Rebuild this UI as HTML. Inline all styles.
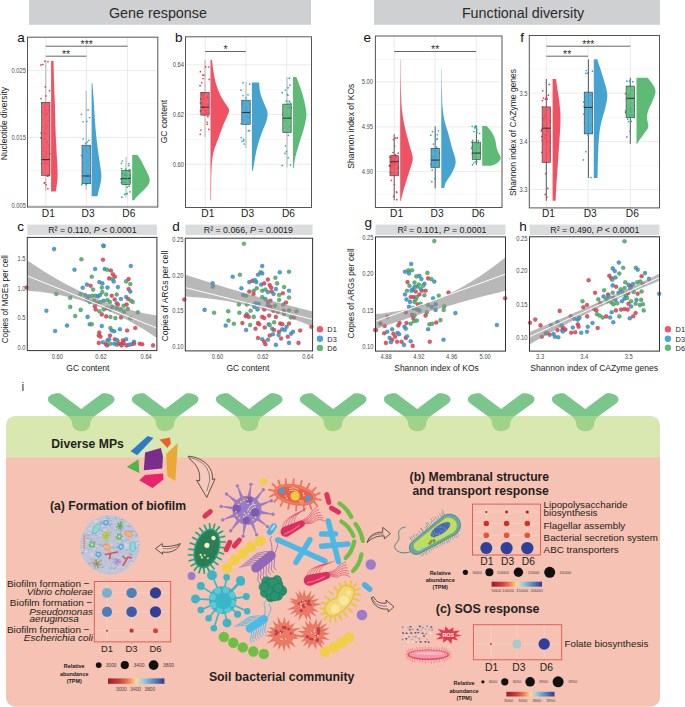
<!DOCTYPE html>
<html><head><meta charset="utf-8"><title>Figure</title>
<style>html,body{margin:0;padding:0;background:#fff;}svg{display:block;}</style></head>
<body><svg width="685" height="707" viewBox="0 0 685 707">
<rect width="685" height="707" fill="#fff"/>
<rect x="29" y="0" width="282" height="24.8" fill="#CFD0D2"/>
<rect x="374" y="0" width="286" height="24.8" fill="#CFD0D2"/>
<text x="108.9" y="18.2" font-size="14.35" font-weight="normal" font-style="normal" text-anchor="start" fill="#2b2b2b" font-family="Liberation Sans, sans-serif">Gene response</text>
<text x="461.9" y="18.2" font-size="14.3" font-weight="normal" font-style="normal" text-anchor="start" fill="#2b2b2b" font-family="Liberation Sans, sans-serif">Functional diversity</text>
<text x="17.3" y="42" font-size="13.5" font-weight="normal" font-style="normal" text-anchor="start" fill="#111" font-family="Liberation Sans, sans-serif">a</text>
<text x="175" y="41.6" font-size="13.5" font-weight="normal" font-style="normal" text-anchor="start" fill="#111" font-family="Liberation Sans, sans-serif">b</text>
<text x="363.6" y="41.9" font-size="13.5" font-weight="normal" font-style="normal" text-anchor="start" fill="#111" font-family="Liberation Sans, sans-serif">e</text>
<text x="520.3" y="42" font-size="13.5" font-weight="normal" font-style="normal" text-anchor="start" fill="#111" font-family="Liberation Sans, sans-serif">f</text>
<text x="17.3" y="231" font-size="13.5" font-weight="normal" font-style="normal" text-anchor="start" fill="#111" font-family="Liberation Sans, sans-serif">c</text>
<text x="172.2" y="231" font-size="13.5" font-weight="normal" font-style="normal" text-anchor="start" fill="#111" font-family="Liberation Sans, sans-serif">d</text>
<text x="364.6" y="227.3" font-size="13.5" font-weight="normal" font-style="normal" text-anchor="start" fill="#111" font-family="Liberation Sans, sans-serif">g</text>
<text x="519.3" y="230.5" font-size="13.5" font-weight="normal" font-style="normal" text-anchor="start" fill="#111" font-family="Liberation Sans, sans-serif">h</text>
<rect x="27.5" y="37.2" width="130.30" height="169.80" fill="#fff"/>
<line x1="27.5" y1="103.8" x2="157.8" y2="103.8" stroke="#f0f0f0" stroke-width="0.6"/>
<line x1="27.5" y1="170.6" x2="157.8" y2="170.6" stroke="#f0f0f0" stroke-width="0.6"/>
<line x1="27.5" y1="70.6" x2="157.8" y2="70.6" stroke="#e6e6e6" stroke-width="0.8"/>
<line x1="27.5" y1="137.4" x2="157.8" y2="137.4" stroke="#e6e6e6" stroke-width="0.8"/>
<line x1="27.5" y1="205.4" x2="157.8" y2="205.4" stroke="#e6e6e6" stroke-width="0.8"/>
<line x1="45.8" y1="37.2" x2="45.8" y2="207" stroke="#e6e6e6" stroke-width="0.8"/>
<line x1="86.4" y1="37.2" x2="86.4" y2="207" stroke="#e6e6e6" stroke-width="0.8"/>
<line x1="127.5" y1="37.2" x2="127.5" y2="207" stroke="#e6e6e6" stroke-width="0.8"/>
<line x1="45.8" y1="46.2" x2="127.5" y2="46.2" stroke="#555" stroke-width="0.9"/><text x="86.7" y="47.8" font-size="10.5" text-anchor="middle" fill="#333" font-family="Liberation Sans, sans-serif">***</text>
<line x1="45.8" y1="56.2" x2="86.4" y2="56.2" stroke="#555" stroke-width="0.9"/><text x="66.1" y="57.8" font-size="10.5" text-anchor="middle" fill="#333" font-family="Liberation Sans, sans-serif">**</text>
<path d="M51.10,60.90 L53.50,60.90 C53.60,64.48 53.85,74.45 54.10,82.40 C54.35,90.35 54.73,99.88 55.00,108.60 C55.27,117.32 55.35,125.98 55.70,134.70 C56.05,143.42 56.78,153.92 57.10,160.90 C57.42,167.88 57.70,172.23 57.60,176.60 C57.50,180.97 56.80,184.60 56.50,187.10 C56.20,189.60 55.92,190.85 55.80,191.60 L51.10,191.60 Z" fill="#EE5263"/>
<line x1="45.8" y1="60.9" x2="45.8" y2="191" stroke="#b4b4b4" stroke-width="1"/>
<circle cx="47.8" cy="164.2" r="0.85" fill="#e83a4a"/>
<circle cx="44.9" cy="138.5" r="0.85" fill="#e83a4a"/>
<circle cx="41.7" cy="163.5" r="0.85" fill="#e83a4a"/>
<circle cx="44.8" cy="163.3" r="0.85" fill="#e83a4a"/>
<circle cx="44.9" cy="61.2" r="0.85" fill="#e83a4a"/>
<circle cx="49.5" cy="90.7" r="0.85" fill="#e83a4a"/>
<circle cx="41.0" cy="64.9" r="0.85" fill="#e83a4a"/>
<circle cx="44.3" cy="183.1" r="0.85" fill="#e83a4a"/>
<circle cx="41.1" cy="133.1" r="0.85" fill="#e83a4a"/>
<circle cx="45.4" cy="134.3" r="0.85" fill="#e83a4a"/>
<circle cx="42.8" cy="119.2" r="0.85" fill="#e83a4a"/>
<circle cx="41.0" cy="98.6" r="0.85" fill="#e83a4a"/>
<circle cx="46.7" cy="133.3" r="0.85" fill="#e83a4a"/>
<circle cx="48.7" cy="174.8" r="0.85" fill="#e83a4a"/>
<circle cx="47.4" cy="126.6" r="0.85" fill="#e83a4a"/>
<circle cx="44.7" cy="182.7" r="0.85" fill="#e83a4a"/>
<circle cx="43.6" cy="148.1" r="0.85" fill="#e83a4a"/>
<circle cx="48.6" cy="175.7" r="0.85" fill="#e83a4a"/>
<circle cx="41.1" cy="137.5" r="0.85" fill="#e83a4a"/>
<circle cx="44.6" cy="160.5" r="0.85" fill="#e83a4a"/>
<circle cx="47.3" cy="142.4" r="0.85" fill="#e83a4a"/>
<circle cx="44.8" cy="109.6" r="0.85" fill="#e83a4a"/>
<circle cx="45.6" cy="162.2" r="0.85" fill="#e83a4a"/>
<circle cx="41.1" cy="138.0" r="0.85" fill="#e83a4a"/>
<circle cx="49.8" cy="153.6" r="0.85" fill="#e83a4a"/>
<circle cx="42.4" cy="112.1" r="0.85" fill="#e83a4a"/>
<circle cx="47.9" cy="188.7" r="0.85" fill="#e83a4a"/>
<circle cx="42.9" cy="172.8" r="0.85" fill="#e83a4a"/>
<circle cx="46.1" cy="184.8" r="0.85" fill="#e83a4a"/>
<circle cx="45.8" cy="95.9" r="0.85" fill="#e83a4a"/>
<circle cx="48.0" cy="61.6" r="0.85" fill="#e83a4a"/>
<circle cx="47.6" cy="176.2" r="0.85" fill="#e83a4a"/>
<circle cx="46.0" cy="128.4" r="0.85" fill="#e83a4a"/>
<circle cx="48.8" cy="106.4" r="0.85" fill="#e83a4a"/>
<circle cx="45.4" cy="86.9" r="0.85" fill="#e83a4a"/>
<circle cx="44.0" cy="107.3" r="0.85" fill="#e83a4a"/>
<circle cx="46.4" cy="142.0" r="0.85" fill="#e83a4a"/>
<circle cx="42.9" cy="64.5" r="0.85" fill="#e83a4a"/>
<circle cx="48.7" cy="145.0" r="0.85" fill="#e83a4a"/>
<circle cx="48.3" cy="164.6" r="0.85" fill="#e83a4a"/>
<rect x="41.60" y="102.3" width="8.4" height="73.00" fill="#EE5263" fill-opacity="0.9" stroke="#3a3a3a" stroke-width="0.6"/>
<line x1="41.60" y1="159.6" x2="50.00" y2="159.6" stroke="#333" stroke-width="1.1"/>
<circle cx="48.2" cy="120.9" r="0.6" fill="#e83a4a" opacity="0.8"/>
<circle cx="42.9" cy="151.4" r="0.6" fill="#e83a4a" opacity="0.8"/>
<circle cx="42.4" cy="103.5" r="0.6" fill="#e83a4a" opacity="0.8"/>
<circle cx="44.0" cy="157.5" r="0.6" fill="#e83a4a" opacity="0.8"/>
<circle cx="46.7" cy="110.3" r="0.6" fill="#e83a4a" opacity="0.8"/>
<circle cx="42.8" cy="127.4" r="0.6" fill="#e83a4a" opacity="0.8"/>
<circle cx="46.0" cy="114.0" r="0.6" fill="#e83a4a" opacity="0.8"/>
<circle cx="44.2" cy="114.6" r="0.6" fill="#e83a4a" opacity="0.8"/>
<circle cx="45.5" cy="154.2" r="0.6" fill="#e83a4a" opacity="0.8"/>
<circle cx="45.6" cy="125.8" r="0.6" fill="#e83a4a" opacity="0.8"/>
<circle cx="45.0" cy="104.0" r="0.6" fill="#e83a4a" opacity="0.8"/>
<circle cx="43.6" cy="133.0" r="0.6" fill="#e83a4a" opacity="0.8"/>
<circle cx="48.6" cy="110.2" r="0.6" fill="#e83a4a" opacity="0.8"/>
<circle cx="43.8" cy="139.5" r="0.6" fill="#e83a4a" opacity="0.8"/>
<circle cx="48.0" cy="146.5" r="0.6" fill="#e83a4a" opacity="0.8"/>
<circle cx="42.4" cy="103.8" r="0.6" fill="#e83a4a" opacity="0.8"/>
<circle cx="47.3" cy="113.0" r="0.6" fill="#e83a4a" opacity="0.8"/>
<circle cx="47.2" cy="114.0" r="0.6" fill="#e83a4a" opacity="0.8"/>
<circle cx="46.1" cy="151.8" r="0.6" fill="#e83a4a" opacity="0.8"/>
<circle cx="49.1" cy="118.4" r="0.6" fill="#e83a4a" opacity="0.8"/>
<path d="M91.60,83.20 L92.40,83.20 C92.57,85.25 93.10,91.27 93.40,95.50 C93.70,99.73 93.93,104.25 94.20,108.60 C94.47,112.95 94.68,117.25 95.00,121.60 C95.32,125.95 95.67,130.33 96.10,134.70 C96.53,139.07 97.03,143.43 97.60,147.80 C98.17,152.17 98.88,156.53 99.50,160.90 C100.12,165.27 101.08,170.50 101.30,174.00 C101.52,177.50 101.20,179.28 100.80,181.90 C100.40,184.52 99.47,187.30 98.90,189.70 C98.33,192.10 97.65,195.20 97.40,196.30 L91.60,196.30 Z" fill="#46A3CF"/>
<line x1="86.2" y1="91" x2="86.2" y2="189.7" stroke="#b4b4b4" stroke-width="1"/>
<circle cx="81.7" cy="184.6" r="0.85" fill="#2aa8d8"/>
<circle cx="88.0" cy="177.4" r="0.85" fill="#2aa8d8"/>
<circle cx="86.8" cy="121.4" r="0.85" fill="#2aa8d8"/>
<circle cx="82.7" cy="148.4" r="0.85" fill="#2aa8d8"/>
<circle cx="87.9" cy="160.4" r="0.85" fill="#2aa8d8"/>
<circle cx="86.2" cy="184.7" r="0.85" fill="#2aa8d8"/>
<circle cx="81.5" cy="155.5" r="0.85" fill="#2aa8d8"/>
<circle cx="84.1" cy="163.1" r="0.85" fill="#2aa8d8"/>
<circle cx="86.0" cy="179.5" r="0.85" fill="#2aa8d8"/>
<circle cx="81.4" cy="114.3" r="0.85" fill="#2aa8d8"/>
<circle cx="85.9" cy="150.5" r="0.85" fill="#2aa8d8"/>
<circle cx="82.9" cy="157.6" r="0.85" fill="#2aa8d8"/>
<circle cx="88.0" cy="169.6" r="0.85" fill="#2aa8d8"/>
<circle cx="88.5" cy="166.3" r="0.85" fill="#2aa8d8"/>
<circle cx="90.0" cy="183.0" r="0.85" fill="#2aa8d8"/>
<circle cx="87.8" cy="174.2" r="0.85" fill="#2aa8d8"/>
<circle cx="85.7" cy="143.3" r="0.85" fill="#2aa8d8"/>
<circle cx="88.9" cy="140.4" r="0.85" fill="#2aa8d8"/>
<circle cx="89.5" cy="179.2" r="0.85" fill="#2aa8d8"/>
<circle cx="89.7" cy="147.0" r="0.85" fill="#2aa8d8"/>
<circle cx="83.2" cy="139.0" r="0.85" fill="#2aa8d8"/>
<circle cx="82.7" cy="172.1" r="0.85" fill="#2aa8d8"/>
<circle cx="89.6" cy="117.5" r="0.85" fill="#2aa8d8"/>
<circle cx="87.7" cy="182.1" r="0.85" fill="#2aa8d8"/>
<circle cx="87.2" cy="142.1" r="0.85" fill="#2aa8d8"/>
<circle cx="83.1" cy="121.8" r="0.85" fill="#2aa8d8"/>
<circle cx="86.9" cy="183.2" r="0.85" fill="#2aa8d8"/>
<circle cx="87.9" cy="176.8" r="0.85" fill="#2aa8d8"/>
<circle cx="88.1" cy="109.9" r="0.85" fill="#2aa8d8"/>
<circle cx="83.7" cy="170.3" r="0.85" fill="#2aa8d8"/>
<rect x="82.00" y="145.2" width="8.4" height="38.50" fill="#46A3CF" fill-opacity="0.9" stroke="#3a3a3a" stroke-width="0.6"/>
<line x1="82.00" y1="176" x2="90.40" y2="176" stroke="#333" stroke-width="1.1"/>
<circle cx="88.8" cy="153.9" r="0.6" fill="#2aa8d8" opacity="0.8"/>
<circle cx="86.4" cy="149.3" r="0.6" fill="#2aa8d8" opacity="0.8"/>
<circle cx="84.4" cy="178.1" r="0.6" fill="#2aa8d8" opacity="0.8"/>
<circle cx="88.9" cy="153.3" r="0.6" fill="#2aa8d8" opacity="0.8"/>
<circle cx="87.7" cy="161.5" r="0.6" fill="#2aa8d8" opacity="0.8"/>
<circle cx="85.2" cy="146.4" r="0.6" fill="#2aa8d8" opacity="0.8"/>
<circle cx="87.4" cy="151.8" r="0.6" fill="#2aa8d8" opacity="0.8"/>
<circle cx="89.4" cy="148.4" r="0.6" fill="#2aa8d8" opacity="0.8"/>
<circle cx="87.8" cy="146.2" r="0.6" fill="#2aa8d8" opacity="0.8"/>
<circle cx="84.5" cy="146.0" r="0.6" fill="#2aa8d8" opacity="0.8"/>
<circle cx="83.8" cy="176.5" r="0.6" fill="#2aa8d8" opacity="0.8"/>
<circle cx="87.5" cy="152.3" r="0.6" fill="#2aa8d8" opacity="0.8"/>
<circle cx="83.0" cy="160.0" r="0.6" fill="#2aa8d8" opacity="0.8"/>
<circle cx="83.8" cy="183.3" r="0.6" fill="#2aa8d8" opacity="0.8"/>
<circle cx="85.1" cy="146.6" r="0.6" fill="#2aa8d8" opacity="0.8"/>
<path d="M132.20,154.90 L137.40,154.90 C138.07,155.90 140.08,158.58 141.40,160.90 C142.72,163.22 144.13,166.40 145.30,168.80 C146.47,171.20 147.67,173.22 148.40,175.30 C149.13,177.38 150.00,179.33 149.70,181.30 C149.40,183.27 147.98,185.27 146.60,187.10 C145.22,188.93 143.15,190.55 141.40,192.30 C139.65,194.05 137.30,196.28 136.10,197.60 C134.90,198.92 134.52,199.77 134.20,200.20 L132.20,200.20 Z" fill="#5DBB75"/>
<line x1="126" y1="157" x2="126" y2="197.6" stroke="#b4b4b4" stroke-width="1"/>
<circle cx="124.4" cy="178.2" r="0.85" fill="#2eb0a0"/>
<circle cx="121.6" cy="182.4" r="0.85" fill="#2eb0a0"/>
<circle cx="123.4" cy="182.2" r="0.85" fill="#2eb0a0"/>
<circle cx="125.3" cy="184.4" r="0.85" fill="#2eb0a0"/>
<circle cx="126.9" cy="176.3" r="0.85" fill="#2eb0a0"/>
<circle cx="129.0" cy="179.4" r="0.85" fill="#2eb0a0"/>
<circle cx="127.2" cy="187.1" r="0.85" fill="#2eb0a0"/>
<circle cx="126.4" cy="181.1" r="0.85" fill="#2eb0a0"/>
<circle cx="129.0" cy="171.0" r="0.85" fill="#2eb0a0"/>
<circle cx="129.1" cy="186.2" r="0.85" fill="#2eb0a0"/>
<circle cx="124.6" cy="194.4" r="0.85" fill="#2eb0a0"/>
<circle cx="129.6" cy="175.1" r="0.85" fill="#2eb0a0"/>
<circle cx="122.3" cy="161.0" r="0.85" fill="#2eb0a0"/>
<circle cx="125.0" cy="184.0" r="0.85" fill="#2eb0a0"/>
<circle cx="125.7" cy="169.2" r="0.85" fill="#2eb0a0"/>
<circle cx="126.4" cy="175.5" r="0.85" fill="#2eb0a0"/>
<circle cx="127.3" cy="193.7" r="0.85" fill="#2eb0a0"/>
<circle cx="130.1" cy="191.8" r="0.85" fill="#2eb0a0"/>
<circle cx="128.9" cy="163.6" r="0.85" fill="#2eb0a0"/>
<circle cx="126.2" cy="193.7" r="0.85" fill="#2eb0a0"/>
<circle cx="128.7" cy="165.6" r="0.85" fill="#2eb0a0"/>
<circle cx="121.6" cy="168.6" r="0.85" fill="#2eb0a0"/>
<circle cx="121.8" cy="197.2" r="0.85" fill="#2eb0a0"/>
<circle cx="122.4" cy="173.7" r="0.85" fill="#2eb0a0"/>
<circle cx="129.0" cy="181.3" r="0.85" fill="#2eb0a0"/>
<circle cx="121.4" cy="179.1" r="0.85" fill="#2eb0a0"/>
<circle cx="129.1" cy="170.4" r="0.85" fill="#2eb0a0"/>
<circle cx="130.2" cy="177.5" r="0.85" fill="#2eb0a0"/>
<circle cx="126.5" cy="171.7" r="0.85" fill="#2eb0a0"/>
<circle cx="124.8" cy="173.3" r="0.85" fill="#2eb0a0"/>
<circle cx="121.4" cy="163.3" r="0.85" fill="#2eb0a0"/>
<circle cx="129.8" cy="169.7" r="0.85" fill="#2eb0a0"/>
<circle cx="125.2" cy="172.3" r="0.85" fill="#2eb0a0"/>
<circle cx="126.5" cy="183.1" r="0.85" fill="#2eb0a0"/>
<circle cx="129.7" cy="182.2" r="0.85" fill="#2eb0a0"/>
<circle cx="127.6" cy="174.5" r="0.85" fill="#2eb0a0"/>
<circle cx="130.0" cy="174.8" r="0.85" fill="#2eb0a0"/>
<circle cx="121.1" cy="179.3" r="0.85" fill="#2eb0a0"/>
<circle cx="121.2" cy="178.7" r="0.85" fill="#2eb0a0"/>
<circle cx="121.6" cy="182.7" r="0.85" fill="#2eb0a0"/>
<rect x="121.80" y="170.6" width="8.4" height="13.90" fill="#5DBB75" fill-opacity="0.9" stroke="#3a3a3a" stroke-width="0.6"/>
<line x1="121.80" y1="178.5" x2="130.20" y2="178.5" stroke="#333" stroke-width="1.1"/>
<circle cx="125.8" cy="179.3" r="0.6" fill="#2eb0a0" opacity="0.8"/>
<circle cx="125.0" cy="180.0" r="0.6" fill="#2eb0a0" opacity="0.8"/>
<circle cx="127.7" cy="180.4" r="0.6" fill="#2eb0a0" opacity="0.8"/>
<circle cx="122.9" cy="170.9" r="0.6" fill="#2eb0a0" opacity="0.8"/>
<circle cx="129.2" cy="180.0" r="0.6" fill="#2eb0a0" opacity="0.8"/>
<circle cx="125.7" cy="174.1" r="0.6" fill="#2eb0a0" opacity="0.8"/>
<circle cx="124.7" cy="178.8" r="0.6" fill="#2eb0a0" opacity="0.8"/>
<circle cx="124.7" cy="175.7" r="0.6" fill="#2eb0a0" opacity="0.8"/>
<circle cx="126.7" cy="175.7" r="0.6" fill="#2eb0a0" opacity="0.8"/>
<circle cx="125.1" cy="174.8" r="0.6" fill="#2eb0a0" opacity="0.8"/>
<circle cx="122.7" cy="181.3" r="0.6" fill="#2eb0a0" opacity="0.8"/>
<circle cx="127.6" cy="178.5" r="0.6" fill="#2eb0a0" opacity="0.8"/>
<circle cx="124.1" cy="174.9" r="0.6" fill="#2eb0a0" opacity="0.8"/>
<circle cx="124.2" cy="181.8" r="0.6" fill="#2eb0a0" opacity="0.8"/>
<circle cx="125.5" cy="173.2" r="0.6" fill="#2eb0a0" opacity="0.8"/>
<circle cx="123.2" cy="180.3" r="0.6" fill="#2eb0a0" opacity="0.8"/>
<circle cx="124.8" cy="175.1" r="0.6" fill="#2eb0a0" opacity="0.8"/>
<circle cx="125.6" cy="182.2" r="0.6" fill="#2eb0a0" opacity="0.8"/>
<circle cx="123.7" cy="182.5" r="0.6" fill="#2eb0a0" opacity="0.8"/>
<circle cx="127.1" cy="175.3" r="0.6" fill="#2eb0a0" opacity="0.8"/>
<rect x="27.5" y="37.2" width="130.30" height="169.80" fill="none" stroke="#555" stroke-width="1"/>
<text transform="translate(26.0,73.0) scale(0.88,1)" font-size="6.6" text-anchor="end" fill="#4a4a4a" font-family="Liberation Sans, sans-serif">0.025</text>
<text transform="translate(26.0,139.8) scale(0.88,1)" font-size="6.6" text-anchor="end" fill="#4a4a4a" font-family="Liberation Sans, sans-serif">0.015</text>
<text transform="translate(26.0,207.8) scale(0.88,1)" font-size="6.6" text-anchor="end" fill="#4a4a4a" font-family="Liberation Sans, sans-serif">0.005</text>
<text x="48.3" y="216.8" font-size="10.2" text-anchor="middle" fill="#222" font-family="Liberation Sans, sans-serif">D1</text>
<text x="88.1" y="216.8" font-size="10.2" text-anchor="middle" fill="#222" font-family="Liberation Sans, sans-serif">D3</text>
<text x="128.8" y="216.8" font-size="10.2" text-anchor="middle" fill="#222" font-family="Liberation Sans, sans-serif">D6</text>
<text transform="translate(6.5,123.6) rotate(-90)" font-size="8.45" text-anchor="middle" fill="#222" font-family="Liberation Sans, sans-serif">Nucleotide diversity</text>
<rect x="185.5" y="36.8" width="126.00" height="170.70" fill="#fff"/>
<line x1="185.5" y1="89.7" x2="311.5" y2="89.7" stroke="#f0f0f0" stroke-width="0.6"/>
<line x1="185.5" y1="139.5" x2="311.5" y2="139.5" stroke="#f0f0f0" stroke-width="0.6"/>
<line x1="185.5" y1="189" x2="311.5" y2="189" stroke="#f0f0f0" stroke-width="0.6"/>
<line x1="185.5" y1="64.8" x2="311.5" y2="64.8" stroke="#e6e6e6" stroke-width="0.8"/>
<line x1="185.5" y1="114.6" x2="311.5" y2="114.6" stroke="#e6e6e6" stroke-width="0.8"/>
<line x1="185.5" y1="164.3" x2="311.5" y2="164.3" stroke="#e6e6e6" stroke-width="0.8"/>
<line x1="205.3" y1="36.8" x2="205.3" y2="207.5" stroke="#e6e6e6" stroke-width="0.8"/>
<line x1="245.9" y1="36.8" x2="245.9" y2="207.5" stroke="#e6e6e6" stroke-width="0.8"/>
<line x1="286.7" y1="36.8" x2="286.7" y2="207.5" stroke="#e6e6e6" stroke-width="0.8"/>
<line x1="205.3" y1="51.5" x2="245.9" y2="51.5" stroke="#555" stroke-width="0.9"/><text x="225.6" y="53.1" font-size="10.5" text-anchor="middle" fill="#333" font-family="Liberation Sans, sans-serif">*</text>
<path d="M210.50,60.10 L212.10,60.10 C212.27,61.63 212.50,65.58 213.10,69.30 C213.70,73.02 214.47,78.03 215.70,82.40 C216.93,86.77 218.92,92.02 220.50,95.50 C222.08,98.98 223.77,100.90 225.20,103.30 C226.63,105.70 228.80,107.72 229.10,109.90 C229.40,112.08 228.10,113.57 227.00,116.40 C225.90,119.23 224.03,122.97 222.50,126.90 C220.97,130.83 219.23,136.07 217.80,140.00 C216.37,143.93 214.85,147.02 213.90,150.50 C212.95,153.98 212.53,156.82 212.10,160.90 C211.67,164.98 211.47,168.45 211.30,175.00 C211.13,181.55 211.13,196.00 211.10,200.20 L210.50,200.20 Z" fill="#EE5263"/>
<line x1="205" y1="60.1" x2="205" y2="137.4" stroke="#b4b4b4" stroke-width="1"/>
<circle cx="203.6" cy="94.7" r="0.85" fill="#e83a4a"/>
<circle cx="203.7" cy="93.8" r="0.85" fill="#e83a4a"/>
<circle cx="207.0" cy="122.0" r="0.85" fill="#e83a4a"/>
<circle cx="202.5" cy="104.5" r="0.85" fill="#e83a4a"/>
<circle cx="202.0" cy="94.7" r="0.85" fill="#e83a4a"/>
<circle cx="207.4" cy="124.2" r="0.85" fill="#e83a4a"/>
<circle cx="202.9" cy="75.1" r="0.85" fill="#e83a4a"/>
<circle cx="207.9" cy="116.7" r="0.85" fill="#e83a4a"/>
<circle cx="205.6" cy="66.8" r="0.85" fill="#e83a4a"/>
<circle cx="201.6" cy="99.2" r="0.85" fill="#e83a4a"/>
<circle cx="208.6" cy="67.0" r="0.85" fill="#e83a4a"/>
<circle cx="202.8" cy="102.4" r="0.85" fill="#e83a4a"/>
<circle cx="208.1" cy="104.3" r="0.85" fill="#e83a4a"/>
<circle cx="203.8" cy="99.4" r="0.85" fill="#e83a4a"/>
<circle cx="201.5" cy="93.4" r="0.85" fill="#e83a4a"/>
<circle cx="200.4" cy="110.8" r="0.85" fill="#e83a4a"/>
<circle cx="202.6" cy="106.6" r="0.85" fill="#e83a4a"/>
<circle cx="203.2" cy="96.5" r="0.85" fill="#e83a4a"/>
<circle cx="203.8" cy="75.2" r="0.85" fill="#e83a4a"/>
<circle cx="202.5" cy="106.7" r="0.85" fill="#e83a4a"/>
<circle cx="203.0" cy="109.3" r="0.85" fill="#e83a4a"/>
<circle cx="200.9" cy="130.0" r="0.85" fill="#e83a4a"/>
<circle cx="207.0" cy="97.5" r="0.85" fill="#e83a4a"/>
<circle cx="203.0" cy="78.5" r="0.85" fill="#e83a4a"/>
<circle cx="200.4" cy="102.8" r="0.85" fill="#e83a4a"/>
<circle cx="208.8" cy="129.4" r="0.85" fill="#e83a4a"/>
<circle cx="200.2" cy="134.3" r="0.85" fill="#e83a4a"/>
<circle cx="207.1" cy="114.3" r="0.85" fill="#e83a4a"/>
<circle cx="205.7" cy="113.8" r="0.85" fill="#e83a4a"/>
<circle cx="201.8" cy="82.8" r="0.85" fill="#e83a4a"/>
<circle cx="203.5" cy="95.4" r="0.85" fill="#e83a4a"/>
<circle cx="200.1" cy="85.7" r="0.85" fill="#e83a4a"/>
<circle cx="207.2" cy="96.2" r="0.85" fill="#e83a4a"/>
<circle cx="200.9" cy="98.9" r="0.85" fill="#e83a4a"/>
<circle cx="201.9" cy="92.9" r="0.85" fill="#e83a4a"/>
<circle cx="201.6" cy="93.6" r="0.85" fill="#e83a4a"/>
<circle cx="200.4" cy="71.7" r="0.85" fill="#e83a4a"/>
<circle cx="209.2" cy="79.4" r="0.85" fill="#e83a4a"/>
<circle cx="207.1" cy="104.4" r="0.85" fill="#e83a4a"/>
<circle cx="204.4" cy="114.8" r="0.85" fill="#e83a4a"/>
<rect x="200.80" y="92.3" width="8.4" height="22.80" fill="#EE5263" fill-opacity="0.9" stroke="#3a3a3a" stroke-width="0.6"/>
<line x1="200.80" y1="107.2" x2="209.20" y2="107.2" stroke="#333" stroke-width="1.1"/>
<circle cx="204.4" cy="97.8" r="0.6" fill="#e83a4a" opacity="0.8"/>
<circle cx="204.4" cy="93.1" r="0.6" fill="#e83a4a" opacity="0.8"/>
<circle cx="207.7" cy="98.0" r="0.6" fill="#e83a4a" opacity="0.8"/>
<circle cx="205.0" cy="111.2" r="0.6" fill="#e83a4a" opacity="0.8"/>
<circle cx="203.3" cy="93.0" r="0.6" fill="#e83a4a" opacity="0.8"/>
<circle cx="203.0" cy="97.8" r="0.6" fill="#e83a4a" opacity="0.8"/>
<circle cx="207.6" cy="97.6" r="0.6" fill="#e83a4a" opacity="0.8"/>
<circle cx="201.9" cy="95.5" r="0.6" fill="#e83a4a" opacity="0.8"/>
<circle cx="205.5" cy="113.5" r="0.6" fill="#e83a4a" opacity="0.8"/>
<circle cx="204.3" cy="114.9" r="0.6" fill="#e83a4a" opacity="0.8"/>
<circle cx="206.1" cy="112.8" r="0.6" fill="#e83a4a" opacity="0.8"/>
<circle cx="206.7" cy="110.3" r="0.6" fill="#e83a4a" opacity="0.8"/>
<circle cx="202.2" cy="103.6" r="0.6" fill="#e83a4a" opacity="0.8"/>
<circle cx="207.6" cy="97.1" r="0.6" fill="#e83a4a" opacity="0.8"/>
<circle cx="208.0" cy="112.8" r="0.6" fill="#e83a4a" opacity="0.8"/>
<circle cx="206.1" cy="100.0" r="0.6" fill="#e83a4a" opacity="0.8"/>
<circle cx="206.0" cy="110.5" r="0.6" fill="#e83a4a" opacity="0.8"/>
<circle cx="205.2" cy="110.9" r="0.6" fill="#e83a4a" opacity="0.8"/>
<circle cx="206.3" cy="107.2" r="0.6" fill="#e83a4a" opacity="0.8"/>
<circle cx="208.0" cy="98.4" r="0.6" fill="#e83a4a" opacity="0.8"/>
<path d="M251.90,82.40 L259.20,82.40 C259.30,83.70 259.35,87.58 259.80,90.20 C260.25,92.82 260.82,95.03 261.90,98.10 C262.98,101.17 265.35,105.98 266.30,108.60 C267.25,111.22 267.60,111.63 267.60,113.80 C267.60,115.97 267.38,118.12 266.30,121.60 C265.22,125.08 262.63,130.33 261.10,134.70 C259.57,139.07 258.20,143.43 257.10,147.80 C256.00,152.17 255.20,157.10 254.50,160.90 C253.80,164.70 253.17,168.98 252.90,170.60 L251.90,170.60 Z" fill="#46A3CF"/>
<line x1="246" y1="81.8" x2="246" y2="147.8" stroke="#b4b4b4" stroke-width="1"/>
<circle cx="248.3" cy="130.8" r="0.85" fill="#2aa8d8"/>
<circle cx="249.5" cy="130.6" r="0.85" fill="#2aa8d8"/>
<circle cx="249.7" cy="111.4" r="0.85" fill="#2aa8d8"/>
<circle cx="242.0" cy="141.3" r="0.85" fill="#2aa8d8"/>
<circle cx="246.0" cy="98.1" r="0.85" fill="#2aa8d8"/>
<circle cx="243.0" cy="82.7" r="0.85" fill="#2aa8d8"/>
<circle cx="248.0" cy="122.3" r="0.85" fill="#2aa8d8"/>
<circle cx="242.3" cy="119.4" r="0.85" fill="#2aa8d8"/>
<circle cx="241.0" cy="90.2" r="0.85" fill="#2aa8d8"/>
<circle cx="243.0" cy="95.6" r="0.85" fill="#2aa8d8"/>
<circle cx="243.7" cy="139.4" r="0.85" fill="#2aa8d8"/>
<circle cx="247.2" cy="117.4" r="0.85" fill="#2aa8d8"/>
<circle cx="247.4" cy="122.9" r="0.85" fill="#2aa8d8"/>
<circle cx="243.7" cy="140.8" r="0.85" fill="#2aa8d8"/>
<circle cx="242.3" cy="104.2" r="0.85" fill="#2aa8d8"/>
<circle cx="246.5" cy="107.5" r="0.85" fill="#2aa8d8"/>
<circle cx="244.1" cy="116.5" r="0.85" fill="#2aa8d8"/>
<circle cx="245.4" cy="119.9" r="0.85" fill="#2aa8d8"/>
<circle cx="247.5" cy="111.8" r="0.85" fill="#2aa8d8"/>
<circle cx="241.2" cy="123.7" r="0.85" fill="#2aa8d8"/>
<circle cx="241.2" cy="137.6" r="0.85" fill="#2aa8d8"/>
<circle cx="246.3" cy="106.0" r="0.85" fill="#2aa8d8"/>
<circle cx="242.7" cy="101.3" r="0.85" fill="#2aa8d8"/>
<circle cx="248.0" cy="94.8" r="0.85" fill="#2aa8d8"/>
<circle cx="244.2" cy="144.0" r="0.85" fill="#2aa8d8"/>
<circle cx="248.1" cy="112.8" r="0.85" fill="#2aa8d8"/>
<circle cx="248.3" cy="118.2" r="0.85" fill="#2aa8d8"/>
<circle cx="249.7" cy="84.2" r="0.85" fill="#2aa8d8"/>
<circle cx="246.6" cy="108.4" r="0.85" fill="#2aa8d8"/>
<circle cx="249.5" cy="104.2" r="0.85" fill="#2aa8d8"/>
<rect x="241.80" y="100.2" width="8.4" height="24.10" fill="#46A3CF" fill-opacity="0.9" stroke="#3a3a3a" stroke-width="0.6"/>
<line x1="241.80" y1="112.5" x2="250.20" y2="112.5" stroke="#333" stroke-width="1.1"/>
<circle cx="244.7" cy="113.3" r="0.6" fill="#2aa8d8" opacity="0.8"/>
<circle cx="243.7" cy="107.8" r="0.6" fill="#2aa8d8" opacity="0.8"/>
<circle cx="243.5" cy="102.1" r="0.6" fill="#2aa8d8" opacity="0.8"/>
<circle cx="249.5" cy="116.8" r="0.6" fill="#2aa8d8" opacity="0.8"/>
<circle cx="242.8" cy="104.1" r="0.6" fill="#2aa8d8" opacity="0.8"/>
<circle cx="246.2" cy="124.0" r="0.6" fill="#2aa8d8" opacity="0.8"/>
<circle cx="244.2" cy="110.0" r="0.6" fill="#2aa8d8" opacity="0.8"/>
<circle cx="248.3" cy="114.5" r="0.6" fill="#2aa8d8" opacity="0.8"/>
<circle cx="245.5" cy="111.2" r="0.6" fill="#2aa8d8" opacity="0.8"/>
<circle cx="248.9" cy="101.5" r="0.6" fill="#2aa8d8" opacity="0.8"/>
<circle cx="246.0" cy="101.0" r="0.6" fill="#2aa8d8" opacity="0.8"/>
<circle cx="243.4" cy="120.4" r="0.6" fill="#2aa8d8" opacity="0.8"/>
<circle cx="249.1" cy="117.8" r="0.6" fill="#2aa8d8" opacity="0.8"/>
<circle cx="248.0" cy="115.4" r="0.6" fill="#2aa8d8" opacity="0.8"/>
<circle cx="245.5" cy="102.8" r="0.6" fill="#2aa8d8" opacity="0.8"/>
<path d="M293.00,77.10 L296.40,77.10 C297.05,78.85 299.12,84.10 300.30,87.60 C301.48,91.10 302.48,93.73 303.50,98.10 C304.52,102.47 306.27,109.00 306.40,113.80 C306.53,118.60 305.32,122.53 304.30,126.90 C303.28,131.27 301.62,135.63 300.30,140.00 C298.98,144.37 297.37,149.43 296.40,153.10 C295.43,156.77 294.93,159.47 294.50,162.00 C294.07,164.53 293.92,167.25 293.80,168.30 L293.00,168.30 Z" fill="#5DBB75"/>
<line x1="287" y1="77.1" x2="287" y2="167.5" stroke="#b4b4b4" stroke-width="1"/>
<circle cx="286.5" cy="151.4" r="0.85" fill="#2eb0a0"/>
<circle cx="288.1" cy="104.1" r="0.85" fill="#2eb0a0"/>
<circle cx="285.4" cy="145.8" r="0.85" fill="#2eb0a0"/>
<circle cx="289.4" cy="101.8" r="0.85" fill="#2eb0a0"/>
<circle cx="287.0" cy="114.5" r="0.85" fill="#2eb0a0"/>
<circle cx="287.1" cy="94.5" r="0.85" fill="#2eb0a0"/>
<circle cx="289.4" cy="101.1" r="0.85" fill="#2eb0a0"/>
<circle cx="285.1" cy="153.4" r="0.85" fill="#2eb0a0"/>
<circle cx="289.4" cy="126.9" r="0.85" fill="#2eb0a0"/>
<circle cx="283.8" cy="106.8" r="0.85" fill="#2eb0a0"/>
<circle cx="290.8" cy="103.4" r="0.85" fill="#2eb0a0"/>
<circle cx="288.0" cy="95.3" r="0.85" fill="#2eb0a0"/>
<circle cx="290.4" cy="130.7" r="0.85" fill="#2eb0a0"/>
<circle cx="288.4" cy="135.4" r="0.85" fill="#2eb0a0"/>
<circle cx="282.3" cy="165.4" r="0.85" fill="#2eb0a0"/>
<circle cx="284.8" cy="121.2" r="0.85" fill="#2eb0a0"/>
<circle cx="290.1" cy="85.2" r="0.85" fill="#2eb0a0"/>
<circle cx="288.1" cy="87.7" r="0.85" fill="#2eb0a0"/>
<circle cx="286.5" cy="109.7" r="0.85" fill="#2eb0a0"/>
<circle cx="290.0" cy="110.1" r="0.85" fill="#2eb0a0"/>
<circle cx="289.2" cy="78.2" r="0.85" fill="#2eb0a0"/>
<circle cx="290.3" cy="113.6" r="0.85" fill="#2eb0a0"/>
<circle cx="285.5" cy="104.8" r="0.85" fill="#2eb0a0"/>
<circle cx="291.2" cy="107.7" r="0.85" fill="#2eb0a0"/>
<circle cx="288.9" cy="116.2" r="0.85" fill="#2eb0a0"/>
<circle cx="284.3" cy="132.1" r="0.85" fill="#2eb0a0"/>
<circle cx="288.2" cy="157.8" r="0.85" fill="#2eb0a0"/>
<circle cx="289.6" cy="117.5" r="0.85" fill="#2eb0a0"/>
<circle cx="286.3" cy="123.8" r="0.85" fill="#2eb0a0"/>
<circle cx="282.8" cy="114.1" r="0.85" fill="#2eb0a0"/>
<circle cx="286.5" cy="101.1" r="0.85" fill="#2eb0a0"/>
<circle cx="282.2" cy="92.7" r="0.85" fill="#2eb0a0"/>
<circle cx="285.3" cy="120.9" r="0.85" fill="#2eb0a0"/>
<circle cx="290.5" cy="117.0" r="0.85" fill="#2eb0a0"/>
<circle cx="290.1" cy="115.8" r="0.85" fill="#2eb0a0"/>
<circle cx="286.4" cy="101.3" r="0.85" fill="#2eb0a0"/>
<circle cx="285.5" cy="90.0" r="0.85" fill="#2eb0a0"/>
<circle cx="285.0" cy="127.0" r="0.85" fill="#2eb0a0"/>
<circle cx="290.5" cy="164.9" r="0.85" fill="#2eb0a0"/>
<circle cx="284.9" cy="121.3" r="0.85" fill="#2eb0a0"/>
<rect x="282.80" y="104.1" width="8.4" height="28.50" fill="#5DBB75" fill-opacity="0.9" stroke="#3a3a3a" stroke-width="0.6"/>
<line x1="282.80" y1="118.2" x2="291.20" y2="118.2" stroke="#333" stroke-width="1.1"/>
<circle cx="286.9" cy="115.5" r="0.6" fill="#2eb0a0" opacity="0.8"/>
<circle cx="290.1" cy="126.7" r="0.6" fill="#2eb0a0" opacity="0.8"/>
<circle cx="283.5" cy="112.4" r="0.6" fill="#2eb0a0" opacity="0.8"/>
<circle cx="283.9" cy="116.9" r="0.6" fill="#2eb0a0" opacity="0.8"/>
<circle cx="288.9" cy="105.0" r="0.6" fill="#2eb0a0" opacity="0.8"/>
<circle cx="288.5" cy="107.3" r="0.6" fill="#2eb0a0" opacity="0.8"/>
<circle cx="290.1" cy="114.4" r="0.6" fill="#2eb0a0" opacity="0.8"/>
<circle cx="283.9" cy="128.4" r="0.6" fill="#2eb0a0" opacity="0.8"/>
<circle cx="290.1" cy="109.6" r="0.6" fill="#2eb0a0" opacity="0.8"/>
<circle cx="286.5" cy="121.6" r="0.6" fill="#2eb0a0" opacity="0.8"/>
<circle cx="289.2" cy="126.4" r="0.6" fill="#2eb0a0" opacity="0.8"/>
<circle cx="286.8" cy="118.1" r="0.6" fill="#2eb0a0" opacity="0.8"/>
<circle cx="286.0" cy="107.0" r="0.6" fill="#2eb0a0" opacity="0.8"/>
<circle cx="287.9" cy="108.2" r="0.6" fill="#2eb0a0" opacity="0.8"/>
<circle cx="284.5" cy="121.4" r="0.6" fill="#2eb0a0" opacity="0.8"/>
<circle cx="284.2" cy="122.0" r="0.6" fill="#2eb0a0" opacity="0.8"/>
<circle cx="288.0" cy="107.1" r="0.6" fill="#2eb0a0" opacity="0.8"/>
<circle cx="289.8" cy="117.3" r="0.6" fill="#2eb0a0" opacity="0.8"/>
<circle cx="288.4" cy="122.0" r="0.6" fill="#2eb0a0" opacity="0.8"/>
<circle cx="289.3" cy="107.7" r="0.6" fill="#2eb0a0" opacity="0.8"/>
<rect x="185.5" y="36.8" width="126.00" height="170.70" fill="none" stroke="#555" stroke-width="1"/>
<text transform="translate(184.0,67.2) scale(0.88,1)" font-size="6.6" text-anchor="end" fill="#4a4a4a" font-family="Liberation Sans, sans-serif">0.64</text>
<text transform="translate(184.0,117.0) scale(0.88,1)" font-size="6.6" text-anchor="end" fill="#4a4a4a" font-family="Liberation Sans, sans-serif">0.62</text>
<text transform="translate(184.0,166.7) scale(0.88,1)" font-size="6.6" text-anchor="end" fill="#4a4a4a" font-family="Liberation Sans, sans-serif">0.60</text>
<text x="207.8" y="216.8" font-size="10.2" text-anchor="middle" fill="#222" font-family="Liberation Sans, sans-serif">D1</text>
<text x="247.6" y="216.8" font-size="10.2" text-anchor="middle" fill="#222" font-family="Liberation Sans, sans-serif">D3</text>
<text x="288.4" y="216.8" font-size="10.2" text-anchor="middle" fill="#222" font-family="Liberation Sans, sans-serif">D6</text>
<text transform="translate(167.3,121.6) rotate(-90)" font-size="8.6" text-anchor="middle" fill="#222" font-family="Liberation Sans, sans-serif">GC content</text>
<rect x="375.4" y="36" width="126.60" height="171.50" fill="#fff"/>
<line x1="375.4" y1="59.6" x2="502" y2="59.6" stroke="#f0f0f0" stroke-width="0.6"/>
<line x1="375.4" y1="104.6" x2="502" y2="104.6" stroke="#f0f0f0" stroke-width="0.6"/>
<line x1="375.4" y1="149.1" x2="502" y2="149.1" stroke="#f0f0f0" stroke-width="0.6"/>
<line x1="375.4" y1="194.2" x2="502" y2="194.2" stroke="#f0f0f0" stroke-width="0.6"/>
<line x1="375.4" y1="81.8" x2="502" y2="81.8" stroke="#e6e6e6" stroke-width="0.8"/>
<line x1="375.4" y1="126.9" x2="502" y2="126.9" stroke="#e6e6e6" stroke-width="0.8"/>
<line x1="375.4" y1="171.4" x2="502" y2="171.4" stroke="#e6e6e6" stroke-width="0.8"/>
<line x1="394.2" y1="36" x2="394.2" y2="207.5" stroke="#e6e6e6" stroke-width="0.8"/>
<line x1="435" y1="36" x2="435" y2="207.5" stroke="#e6e6e6" stroke-width="0.8"/>
<line x1="476.2" y1="36" x2="476.2" y2="207.5" stroke="#e6e6e6" stroke-width="0.8"/>
<line x1="394.2" y1="51.5" x2="476.2" y2="51.5" stroke="#555" stroke-width="0.9"/><text x="435.2" y="53.1" font-size="10.5" text-anchor="middle" fill="#333" font-family="Liberation Sans, sans-serif">**</text>
<path d="M400.20,59.60 L400.50,59.60 C400.53,63.00 400.60,74.10 400.70,80.00 C400.80,85.90 400.92,90.25 401.10,95.00 C401.28,99.75 401.38,104.07 401.80,108.50 C402.22,112.93 402.78,117.23 403.60,121.60 C404.42,125.97 405.60,130.33 406.70,134.70 C407.80,139.07 409.18,143.87 410.20,147.80 C411.22,151.73 412.80,154.80 412.80,158.30 C412.80,161.80 411.33,164.87 410.20,168.80 C409.07,172.73 407.33,177.53 406.00,181.90 C404.67,186.27 403.03,191.87 402.20,195.00 C401.37,198.13 401.20,199.75 401.00,200.70 L400.20,200.70 Z" fill="#EE5263"/>
<line x1="394.2" y1="134.2" x2="394.2" y2="200.2" stroke="#5a5a5a" stroke-width="1"/>
<circle cx="395.2" cy="158.7" r="0.85" fill="#e83a4a"/>
<circle cx="392.6" cy="166.5" r="0.85" fill="#e83a4a"/>
<circle cx="389.5" cy="165.9" r="0.85" fill="#e83a4a"/>
<circle cx="390.0" cy="157.1" r="0.85" fill="#e83a4a"/>
<circle cx="390.3" cy="172.3" r="0.85" fill="#e83a4a"/>
<circle cx="397.9" cy="168.3" r="0.85" fill="#e83a4a"/>
<circle cx="398.2" cy="160.4" r="0.85" fill="#e83a4a"/>
<circle cx="391.9" cy="173.0" r="0.85" fill="#e83a4a"/>
<circle cx="392.0" cy="158.1" r="0.85" fill="#e83a4a"/>
<circle cx="394.6" cy="146.1" r="0.85" fill="#e83a4a"/>
<circle cx="394.2" cy="158.8" r="0.85" fill="#e83a4a"/>
<circle cx="391.1" cy="156.9" r="0.85" fill="#e83a4a"/>
<circle cx="392.1" cy="162.4" r="0.85" fill="#e83a4a"/>
<circle cx="392.0" cy="164.1" r="0.85" fill="#e83a4a"/>
<circle cx="391.4" cy="180.3" r="0.85" fill="#e83a4a"/>
<circle cx="397.3" cy="168.9" r="0.85" fill="#e83a4a"/>
<circle cx="398.2" cy="153.2" r="0.85" fill="#e83a4a"/>
<circle cx="396.2" cy="164.1" r="0.85" fill="#e83a4a"/>
<circle cx="389.6" cy="165.5" r="0.85" fill="#e83a4a"/>
<circle cx="394.5" cy="184.7" r="0.85" fill="#e83a4a"/>
<circle cx="395.6" cy="154.9" r="0.85" fill="#e83a4a"/>
<circle cx="393.4" cy="172.5" r="0.85" fill="#e83a4a"/>
<circle cx="393.6" cy="196.5" r="0.85" fill="#e83a4a"/>
<circle cx="395.7" cy="138.2" r="0.85" fill="#e83a4a"/>
<circle cx="396.8" cy="199.7" r="0.85" fill="#e83a4a"/>
<circle cx="395.4" cy="163.5" r="0.85" fill="#e83a4a"/>
<circle cx="390.7" cy="165.0" r="0.85" fill="#e83a4a"/>
<circle cx="396.3" cy="156.9" r="0.85" fill="#e83a4a"/>
<circle cx="392.8" cy="160.7" r="0.85" fill="#e83a4a"/>
<circle cx="393.3" cy="139.5" r="0.85" fill="#e83a4a"/>
<circle cx="396.7" cy="192.5" r="0.85" fill="#e83a4a"/>
<circle cx="393.0" cy="152.6" r="0.85" fill="#e83a4a"/>
<circle cx="398.0" cy="173.5" r="0.85" fill="#e83a4a"/>
<circle cx="391.3" cy="159.2" r="0.85" fill="#e83a4a"/>
<circle cx="394.6" cy="165.4" r="0.85" fill="#e83a4a"/>
<circle cx="393.1" cy="155.8" r="0.85" fill="#e83a4a"/>
<circle cx="398.0" cy="167.1" r="0.85" fill="#e83a4a"/>
<circle cx="394.9" cy="168.2" r="0.85" fill="#e83a4a"/>
<circle cx="397.5" cy="137.8" r="0.85" fill="#e83a4a"/>
<circle cx="396.5" cy="191.9" r="0.85" fill="#e83a4a"/>
<rect x="390.00" y="155.7" width="8.4" height="20.10" fill="#EE5263" fill-opacity="0.9" stroke="#3a3a3a" stroke-width="0.6"/>
<line x1="390.00" y1="161.7" x2="398.40" y2="161.7" stroke="#333" stroke-width="1.1"/>
<circle cx="393.5" cy="163.6" r="0.6" fill="#e83a4a" opacity="0.8"/>
<circle cx="395.1" cy="157.8" r="0.6" fill="#e83a4a" opacity="0.8"/>
<circle cx="391.2" cy="157.0" r="0.6" fill="#e83a4a" opacity="0.8"/>
<circle cx="391.8" cy="159.9" r="0.6" fill="#e83a4a" opacity="0.8"/>
<circle cx="391.1" cy="162.5" r="0.6" fill="#e83a4a" opacity="0.8"/>
<circle cx="391.8" cy="155.7" r="0.6" fill="#e83a4a" opacity="0.8"/>
<circle cx="393.2" cy="157.7" r="0.6" fill="#e83a4a" opacity="0.8"/>
<circle cx="396.8" cy="156.2" r="0.6" fill="#e83a4a" opacity="0.8"/>
<circle cx="391.7" cy="168.0" r="0.6" fill="#e83a4a" opacity="0.8"/>
<circle cx="393.1" cy="160.8" r="0.6" fill="#e83a4a" opacity="0.8"/>
<circle cx="391.6" cy="163.0" r="0.6" fill="#e83a4a" opacity="0.8"/>
<circle cx="397.7" cy="172.8" r="0.6" fill="#e83a4a" opacity="0.8"/>
<circle cx="394.1" cy="165.1" r="0.6" fill="#e83a4a" opacity="0.8"/>
<circle cx="391.4" cy="157.4" r="0.6" fill="#e83a4a" opacity="0.8"/>
<circle cx="392.6" cy="162.6" r="0.6" fill="#e83a4a" opacity="0.8"/>
<circle cx="391.8" cy="172.4" r="0.6" fill="#e83a4a" opacity="0.8"/>
<circle cx="397.4" cy="156.2" r="0.6" fill="#e83a4a" opacity="0.8"/>
<circle cx="391.7" cy="166.3" r="0.6" fill="#e83a4a" opacity="0.8"/>
<circle cx="390.9" cy="166.6" r="0.6" fill="#e83a4a" opacity="0.8"/>
<circle cx="397.5" cy="166.3" r="0.6" fill="#e83a4a" opacity="0.8"/>
<path d="M441.30,68.80 L441.60,68.80 C441.65,72.33 441.73,83.47 441.90,90.00 C442.07,96.53 442.13,102.73 442.60,108.00 C443.07,113.27 443.70,117.15 444.70,121.60 C445.70,126.05 447.38,130.33 448.60,134.70 C449.82,139.07 450.82,143.22 452.00,147.80 C453.18,152.38 455.82,157.83 455.70,162.20 C455.58,166.57 452.92,170.72 451.30,174.00 C449.68,177.28 447.18,179.58 446.00,181.90 C444.82,184.22 444.50,186.90 444.20,187.90 L441.30,187.90 Z" fill="#46A3CF"/>
<line x1="435.2" y1="126.4" x2="435.2" y2="188.4" stroke="#5a5a5a" stroke-width="1"/>
<circle cx="431.4" cy="166.8" r="0.85" fill="#2aa8d8"/>
<circle cx="432.5" cy="131.7" r="0.85" fill="#2aa8d8"/>
<circle cx="436.1" cy="139.4" r="0.85" fill="#2aa8d8"/>
<circle cx="434.8" cy="154.5" r="0.85" fill="#2aa8d8"/>
<circle cx="431.0" cy="164.3" r="0.85" fill="#2aa8d8"/>
<circle cx="432.7" cy="148.8" r="0.85" fill="#2aa8d8"/>
<circle cx="433.7" cy="165.6" r="0.85" fill="#2aa8d8"/>
<circle cx="439.3" cy="153.3" r="0.85" fill="#2aa8d8"/>
<circle cx="433.7" cy="160.2" r="0.85" fill="#2aa8d8"/>
<circle cx="436.6" cy="147.4" r="0.85" fill="#2aa8d8"/>
<circle cx="438.5" cy="166.7" r="0.85" fill="#2aa8d8"/>
<circle cx="430.8" cy="135.2" r="0.85" fill="#2aa8d8"/>
<circle cx="432.0" cy="156.7" r="0.85" fill="#2aa8d8"/>
<circle cx="436.9" cy="162.3" r="0.85" fill="#2aa8d8"/>
<circle cx="433.5" cy="144.1" r="0.85" fill="#2aa8d8"/>
<circle cx="437.2" cy="134.8" r="0.85" fill="#2aa8d8"/>
<circle cx="436.7" cy="161.6" r="0.85" fill="#2aa8d8"/>
<circle cx="434.8" cy="178.7" r="0.85" fill="#2aa8d8"/>
<circle cx="435.1" cy="151.3" r="0.85" fill="#2aa8d8"/>
<circle cx="438.5" cy="130.8" r="0.85" fill="#2aa8d8"/>
<circle cx="432.2" cy="169.9" r="0.85" fill="#2aa8d8"/>
<circle cx="433.4" cy="148.6" r="0.85" fill="#2aa8d8"/>
<circle cx="433.7" cy="156.5" r="0.85" fill="#2aa8d8"/>
<circle cx="431.8" cy="181.7" r="0.85" fill="#2aa8d8"/>
<circle cx="436.3" cy="151.6" r="0.85" fill="#2aa8d8"/>
<circle cx="437.3" cy="138.9" r="0.85" fill="#2aa8d8"/>
<circle cx="437.2" cy="148.7" r="0.85" fill="#2aa8d8"/>
<circle cx="434.2" cy="151.6" r="0.85" fill="#2aa8d8"/>
<circle cx="434.3" cy="156.2" r="0.85" fill="#2aa8d8"/>
<circle cx="432.9" cy="159.6" r="0.85" fill="#2aa8d8"/>
<rect x="431.00" y="148.4" width="8.4" height="19.10" fill="#46A3CF" fill-opacity="0.9" stroke="#3a3a3a" stroke-width="0.6"/>
<line x1="431.00" y1="160.1" x2="439.40" y2="160.1" stroke="#333" stroke-width="1.1"/>
<circle cx="432.3" cy="150.2" r="0.6" fill="#2aa8d8" opacity="0.8"/>
<circle cx="435.3" cy="150.4" r="0.6" fill="#2aa8d8" opacity="0.8"/>
<circle cx="437.4" cy="155.3" r="0.6" fill="#2aa8d8" opacity="0.8"/>
<circle cx="436.7" cy="158.0" r="0.6" fill="#2aa8d8" opacity="0.8"/>
<circle cx="432.1" cy="167.1" r="0.6" fill="#2aa8d8" opacity="0.8"/>
<circle cx="432.7" cy="148.7" r="0.6" fill="#2aa8d8" opacity="0.8"/>
<circle cx="435.7" cy="155.8" r="0.6" fill="#2aa8d8" opacity="0.8"/>
<circle cx="434.2" cy="162.6" r="0.6" fill="#2aa8d8" opacity="0.8"/>
<circle cx="431.7" cy="166.8" r="0.6" fill="#2aa8d8" opacity="0.8"/>
<circle cx="433.2" cy="164.4" r="0.6" fill="#2aa8d8" opacity="0.8"/>
<circle cx="431.9" cy="165.1" r="0.6" fill="#2aa8d8" opacity="0.8"/>
<circle cx="437.0" cy="166.8" r="0.6" fill="#2aa8d8" opacity="0.8"/>
<circle cx="435.8" cy="167.3" r="0.6" fill="#2aa8d8" opacity="0.8"/>
<circle cx="438.5" cy="151.8" r="0.6" fill="#2aa8d8" opacity="0.8"/>
<circle cx="432.3" cy="156.8" r="0.6" fill="#2aa8d8" opacity="0.8"/>
<path d="M482.20,126.00 L486.70,126.00 C487.62,127.17 490.78,130.67 492.20,133.00 C493.62,135.33 494.37,137.17 495.20,140.00 C496.03,142.83 496.28,147.00 497.20,150.00 C498.12,153.00 500.70,155.83 500.70,158.00 C500.70,160.17 498.78,161.70 497.20,163.00 C495.62,164.30 492.20,165.33 491.20,165.80 L482.20,165.80 Z" fill="#5DBB75"/>
<line x1="476.4" y1="125.6" x2="476.4" y2="164.9" stroke="#5a5a5a" stroke-width="1"/>
<circle cx="472.7" cy="140.3" r="0.85" fill="#2eb0a0"/>
<circle cx="476.0" cy="125.9" r="0.85" fill="#2eb0a0"/>
<circle cx="476.5" cy="128.8" r="0.85" fill="#2eb0a0"/>
<circle cx="474.9" cy="127.2" r="0.85" fill="#2eb0a0"/>
<circle cx="478.1" cy="143.4" r="0.85" fill="#2eb0a0"/>
<circle cx="472.4" cy="146.3" r="0.85" fill="#2eb0a0"/>
<circle cx="476.8" cy="161.9" r="0.85" fill="#2eb0a0"/>
<circle cx="478.3" cy="140.7" r="0.85" fill="#2eb0a0"/>
<circle cx="477.6" cy="147.2" r="0.85" fill="#2eb0a0"/>
<circle cx="472.2" cy="142.2" r="0.85" fill="#2eb0a0"/>
<circle cx="474.0" cy="145.8" r="0.85" fill="#2eb0a0"/>
<circle cx="479.6" cy="133.4" r="0.85" fill="#2eb0a0"/>
<circle cx="474.9" cy="127.8" r="0.85" fill="#2eb0a0"/>
<circle cx="475.3" cy="126.5" r="0.85" fill="#2eb0a0"/>
<circle cx="476.9" cy="130.0" r="0.85" fill="#2eb0a0"/>
<circle cx="479.6" cy="152.2" r="0.85" fill="#2eb0a0"/>
<circle cx="472.2" cy="142.2" r="0.85" fill="#2eb0a0"/>
<circle cx="472.2" cy="126.3" r="0.85" fill="#2eb0a0"/>
<circle cx="475.3" cy="161.8" r="0.85" fill="#2eb0a0"/>
<circle cx="472.3" cy="153.3" r="0.85" fill="#2eb0a0"/>
<circle cx="477.0" cy="132.4" r="0.85" fill="#2eb0a0"/>
<circle cx="476.5" cy="127.7" r="0.85" fill="#2eb0a0"/>
<circle cx="473.9" cy="131.5" r="0.85" fill="#2eb0a0"/>
<circle cx="472.5" cy="164.8" r="0.85" fill="#2eb0a0"/>
<circle cx="473.6" cy="163.0" r="0.85" fill="#2eb0a0"/>
<circle cx="474.8" cy="127.3" r="0.85" fill="#2eb0a0"/>
<circle cx="478.5" cy="148.8" r="0.85" fill="#2eb0a0"/>
<circle cx="479.3" cy="148.2" r="0.85" fill="#2eb0a0"/>
<circle cx="475.1" cy="143.3" r="0.85" fill="#2eb0a0"/>
<circle cx="471.6" cy="148.2" r="0.85" fill="#2eb0a0"/>
<rect x="472.20" y="142.1" width="8.4" height="17.50" fill="#5DBB75" fill-opacity="0.9" stroke="#3a3a3a" stroke-width="0.6"/>
<line x1="472.20" y1="153.1" x2="480.60" y2="153.1" stroke="#333" stroke-width="1.1"/>
<circle cx="475.2" cy="156.1" r="0.6" fill="#2eb0a0" opacity="0.8"/>
<circle cx="474.4" cy="149.7" r="0.6" fill="#2eb0a0" opacity="0.8"/>
<circle cx="475.2" cy="149.9" r="0.6" fill="#2eb0a0" opacity="0.8"/>
<circle cx="477.3" cy="143.7" r="0.6" fill="#2eb0a0" opacity="0.8"/>
<circle cx="478.4" cy="143.9" r="0.6" fill="#2eb0a0" opacity="0.8"/>
<circle cx="478.4" cy="142.5" r="0.6" fill="#2eb0a0" opacity="0.8"/>
<circle cx="476.4" cy="156.2" r="0.6" fill="#2eb0a0" opacity="0.8"/>
<circle cx="474.6" cy="154.5" r="0.6" fill="#2eb0a0" opacity="0.8"/>
<circle cx="475.9" cy="155.0" r="0.6" fill="#2eb0a0" opacity="0.8"/>
<circle cx="479.6" cy="146.1" r="0.6" fill="#2eb0a0" opacity="0.8"/>
<circle cx="475.5" cy="149.1" r="0.6" fill="#2eb0a0" opacity="0.8"/>
<circle cx="475.5" cy="157.1" r="0.6" fill="#2eb0a0" opacity="0.8"/>
<circle cx="474.1" cy="153.8" r="0.6" fill="#2eb0a0" opacity="0.8"/>
<circle cx="474.7" cy="156.9" r="0.6" fill="#2eb0a0" opacity="0.8"/>
<circle cx="479.7" cy="143.0" r="0.6" fill="#2eb0a0" opacity="0.8"/>
<rect x="375.4" y="36" width="126.60" height="171.50" fill="none" stroke="#555" stroke-width="1"/>
<text transform="translate(373.0,84.2) scale(0.88,1)" font-size="6.6" text-anchor="end" fill="#4a4a4a" font-family="Liberation Sans, sans-serif">5.00</text>
<text transform="translate(373.0,129.3) scale(0.88,1)" font-size="6.6" text-anchor="end" fill="#4a4a4a" font-family="Liberation Sans, sans-serif">4.95</text>
<text transform="translate(373.0,173.8) scale(0.88,1)" font-size="6.6" text-anchor="end" fill="#4a4a4a" font-family="Liberation Sans, sans-serif">4.90</text>
<text x="396.6" y="216.8" font-size="10.2" text-anchor="middle" fill="#222" font-family="Liberation Sans, sans-serif">D1</text>
<text x="437.1" y="216.8" font-size="10.2" text-anchor="middle" fill="#222" font-family="Liberation Sans, sans-serif">D3</text>
<text x="478.2" y="216.8" font-size="10.2" text-anchor="middle" fill="#222" font-family="Liberation Sans, sans-serif">D6</text>
<text transform="translate(354,126.2) rotate(-90)" font-size="8.5" text-anchor="middle" fill="#222" font-family="Liberation Sans, sans-serif">Shannon index of KOs</text>
<rect x="529.3" y="35.5" width="130.20" height="172.40" fill="#fff"/>
<line x1="529.3" y1="69" x2="659.5" y2="69" stroke="#f0f0f0" stroke-width="0.6"/>
<line x1="529.3" y1="117.4" x2="659.5" y2="117.4" stroke="#f0f0f0" stroke-width="0.6"/>
<line x1="529.3" y1="165.8" x2="659.5" y2="165.8" stroke="#f0f0f0" stroke-width="0.6"/>
<line x1="529.3" y1="93.2" x2="659.5" y2="93.2" stroke="#e6e6e6" stroke-width="0.8"/>
<line x1="529.3" y1="141.6" x2="659.5" y2="141.6" stroke="#e6e6e6" stroke-width="0.8"/>
<line x1="529.3" y1="189.4" x2="659.5" y2="189.4" stroke="#e6e6e6" stroke-width="0.8"/>
<line x1="546.3" y1="35.5" x2="546.3" y2="207.9" stroke="#e6e6e6" stroke-width="0.8"/>
<line x1="588.1" y1="35.5" x2="588.1" y2="207.9" stroke="#e6e6e6" stroke-width="0.8"/>
<line x1="630.3" y1="35.5" x2="630.3" y2="207.9" stroke="#e6e6e6" stroke-width="0.8"/>
<line x1="546.3" y1="46.2" x2="630.3" y2="46.2" stroke="#555" stroke-width="0.9"/><text x="588.3" y="47.8" font-size="10.5" text-anchor="middle" fill="#333" font-family="Liberation Sans, sans-serif">***</text>
<line x1="546.3" y1="56.2" x2="588.1" y2="56.2" stroke="#555" stroke-width="0.9"/><text x="567.2" y="57.8" font-size="10.5" text-anchor="middle" fill="#333" font-family="Liberation Sans, sans-serif">**</text>
<path d="M552.60,79.00 L556.00,79.00 C556.27,80.83 557.08,86.50 557.60,90.00 C558.12,93.50 558.62,95.83 559.10,100.00 C559.58,104.17 560.33,110.00 560.50,115.00 C560.67,120.00 560.33,125.00 560.10,130.00 C559.87,135.00 559.43,140.00 559.10,145.00 C558.77,150.00 558.43,155.00 558.10,160.00 C557.77,165.00 557.43,170.00 557.10,175.00 C556.77,180.00 556.35,185.70 556.10,190.00 C555.85,194.30 555.68,199.00 555.60,200.80 L552.60,200.80 Z" fill="#EE5263"/>
<line x1="546.3" y1="79" x2="546.3" y2="200.8" stroke="#5a5a5a" stroke-width="1"/>
<circle cx="546.6" cy="131.2" r="0.85" fill="#e83a4a"/>
<circle cx="548.9" cy="152.0" r="0.85" fill="#e83a4a"/>
<circle cx="546.1" cy="98.5" r="0.85" fill="#e83a4a"/>
<circle cx="550.1" cy="120.8" r="0.85" fill="#e83a4a"/>
<circle cx="549.2" cy="84.4" r="0.85" fill="#e83a4a"/>
<circle cx="543.9" cy="125.5" r="0.85" fill="#e83a4a"/>
<circle cx="547.6" cy="134.6" r="0.85" fill="#e83a4a"/>
<circle cx="548.4" cy="95.2" r="0.85" fill="#e83a4a"/>
<circle cx="546.9" cy="197.1" r="0.85" fill="#e83a4a"/>
<circle cx="542.5" cy="107.1" r="0.85" fill="#e83a4a"/>
<circle cx="544.7" cy="115.9" r="0.85" fill="#e83a4a"/>
<circle cx="546.4" cy="117.3" r="0.85" fill="#e83a4a"/>
<circle cx="546.7" cy="110.5" r="0.85" fill="#e83a4a"/>
<circle cx="543.4" cy="98.1" r="0.85" fill="#e83a4a"/>
<circle cx="545.9" cy="108.9" r="0.85" fill="#e83a4a"/>
<circle cx="546.2" cy="159.1" r="0.85" fill="#e83a4a"/>
<circle cx="546.5" cy="97.2" r="0.85" fill="#e83a4a"/>
<circle cx="542.3" cy="140.3" r="0.85" fill="#e83a4a"/>
<circle cx="542.8" cy="90.8" r="0.85" fill="#e83a4a"/>
<circle cx="545.3" cy="194.4" r="0.85" fill="#e83a4a"/>
<circle cx="543.8" cy="120.5" r="0.85" fill="#e83a4a"/>
<circle cx="542.4" cy="100.7" r="0.85" fill="#e83a4a"/>
<circle cx="547.3" cy="99.1" r="0.85" fill="#e83a4a"/>
<circle cx="545.7" cy="173.7" r="0.85" fill="#e83a4a"/>
<circle cx="541.3" cy="131.0" r="0.85" fill="#e83a4a"/>
<circle cx="544.2" cy="119.4" r="0.85" fill="#e83a4a"/>
<circle cx="546.7" cy="131.8" r="0.85" fill="#e83a4a"/>
<circle cx="547.5" cy="155.2" r="0.85" fill="#e83a4a"/>
<circle cx="549.7" cy="136.1" r="0.85" fill="#e83a4a"/>
<circle cx="541.9" cy="152.3" r="0.85" fill="#e83a4a"/>
<circle cx="545.0" cy="135.2" r="0.85" fill="#e83a4a"/>
<circle cx="546.3" cy="139.4" r="0.85" fill="#e83a4a"/>
<circle cx="545.4" cy="99.2" r="0.85" fill="#e83a4a"/>
<circle cx="541.6" cy="129.6" r="0.85" fill="#e83a4a"/>
<circle cx="541.8" cy="136.6" r="0.85" fill="#e83a4a"/>
<circle cx="545.5" cy="112.9" r="0.85" fill="#e83a4a"/>
<circle cx="545.5" cy="138.1" r="0.85" fill="#e83a4a"/>
<circle cx="545.4" cy="134.7" r="0.85" fill="#e83a4a"/>
<circle cx="547.7" cy="188.4" r="0.85" fill="#e83a4a"/>
<circle cx="549.7" cy="142.9" r="0.85" fill="#e83a4a"/>
<rect x="542.10" y="106.9" width="8.4" height="55.50" fill="#EE5263" fill-opacity="0.9" stroke="#3a3a3a" stroke-width="0.6"/>
<line x1="542.10" y1="128.2" x2="550.50" y2="128.2" stroke="#333" stroke-width="1.1"/>
<circle cx="544.5" cy="115.4" r="0.6" fill="#e83a4a" opacity="0.8"/>
<circle cx="547.6" cy="141.3" r="0.6" fill="#e83a4a" opacity="0.8"/>
<circle cx="546.9" cy="142.6" r="0.6" fill="#e83a4a" opacity="0.8"/>
<circle cx="546.2" cy="152.9" r="0.6" fill="#e83a4a" opacity="0.8"/>
<circle cx="549.5" cy="151.7" r="0.6" fill="#e83a4a" opacity="0.8"/>
<circle cx="548.8" cy="131.1" r="0.6" fill="#e83a4a" opacity="0.8"/>
<circle cx="549.0" cy="146.8" r="0.6" fill="#e83a4a" opacity="0.8"/>
<circle cx="549.2" cy="109.5" r="0.6" fill="#e83a4a" opacity="0.8"/>
<circle cx="549.5" cy="149.5" r="0.6" fill="#e83a4a" opacity="0.8"/>
<circle cx="544.8" cy="161.4" r="0.6" fill="#e83a4a" opacity="0.8"/>
<circle cx="543.8" cy="144.1" r="0.6" fill="#e83a4a" opacity="0.8"/>
<circle cx="549.2" cy="139.9" r="0.6" fill="#e83a4a" opacity="0.8"/>
<circle cx="545.2" cy="117.6" r="0.6" fill="#e83a4a" opacity="0.8"/>
<circle cx="544.2" cy="111.3" r="0.6" fill="#e83a4a" opacity="0.8"/>
<circle cx="543.5" cy="118.4" r="0.6" fill="#e83a4a" opacity="0.8"/>
<circle cx="549.0" cy="162.4" r="0.6" fill="#e83a4a" opacity="0.8"/>
<circle cx="548.0" cy="132.6" r="0.6" fill="#e83a4a" opacity="0.8"/>
<circle cx="546.5" cy="145.5" r="0.6" fill="#e83a4a" opacity="0.8"/>
<circle cx="547.4" cy="130.4" r="0.6" fill="#e83a4a" opacity="0.8"/>
<circle cx="544.7" cy="137.7" r="0.6" fill="#e83a4a" opacity="0.8"/>
<path d="M593.80,59.30 L597.20,59.30 C597.80,61.08 599.70,66.55 600.80,70.00 C601.90,73.45 602.83,76.67 603.80,80.00 C604.77,83.33 606.03,86.95 606.60,90.00 C607.17,93.05 607.50,94.97 607.20,98.30 C606.90,101.63 605.70,106.38 604.80,110.00 C603.90,113.62 602.63,116.67 601.80,120.00 C600.97,123.33 600.30,126.67 599.80,130.00 C599.30,133.33 599.05,136.67 598.80,140.00 C598.55,143.33 598.47,145.83 598.30,150.00 C598.13,154.17 597.93,160.33 597.80,165.00 C597.67,169.67 597.55,175.83 597.50,178.00 L593.80,178.00 Z" fill="#46A3CF"/>
<line x1="588.4" y1="59.3" x2="588.4" y2="178" stroke="#5a5a5a" stroke-width="1"/>
<circle cx="591.9" cy="125.7" r="0.85" fill="#2aa8d8"/>
<circle cx="588.8" cy="119.6" r="0.85" fill="#2aa8d8"/>
<circle cx="589.2" cy="113.5" r="0.85" fill="#2aa8d8"/>
<circle cx="586.2" cy="70.5" r="0.85" fill="#2aa8d8"/>
<circle cx="589.8" cy="125.9" r="0.85" fill="#2aa8d8"/>
<circle cx="592.3" cy="133.2" r="0.85" fill="#2aa8d8"/>
<circle cx="584.8" cy="132.4" r="0.85" fill="#2aa8d8"/>
<circle cx="583.9" cy="114.2" r="0.85" fill="#2aa8d8"/>
<circle cx="583.7" cy="102.2" r="0.85" fill="#2aa8d8"/>
<circle cx="591.2" cy="111.6" r="0.85" fill="#2aa8d8"/>
<circle cx="588.0" cy="135.3" r="0.85" fill="#2aa8d8"/>
<circle cx="586.0" cy="113.6" r="0.85" fill="#2aa8d8"/>
<circle cx="591.1" cy="177.5" r="0.85" fill="#2aa8d8"/>
<circle cx="585.5" cy="96.7" r="0.85" fill="#2aa8d8"/>
<circle cx="590.4" cy="95.0" r="0.85" fill="#2aa8d8"/>
<circle cx="587.0" cy="127.5" r="0.85" fill="#2aa8d8"/>
<circle cx="583.4" cy="159.9" r="0.85" fill="#2aa8d8"/>
<circle cx="587.7" cy="130.1" r="0.85" fill="#2aa8d8"/>
<circle cx="584.1" cy="106.5" r="0.85" fill="#2aa8d8"/>
<circle cx="585.9" cy="151.7" r="0.85" fill="#2aa8d8"/>
<circle cx="592.3" cy="106.0" r="0.85" fill="#2aa8d8"/>
<circle cx="585.7" cy="73.3" r="0.85" fill="#2aa8d8"/>
<circle cx="590.7" cy="94.6" r="0.85" fill="#2aa8d8"/>
<circle cx="587.5" cy="115.5" r="0.85" fill="#2aa8d8"/>
<circle cx="584.6" cy="122.7" r="0.85" fill="#2aa8d8"/>
<circle cx="587.3" cy="73.1" r="0.85" fill="#2aa8d8"/>
<circle cx="592.3" cy="103.4" r="0.85" fill="#2aa8d8"/>
<circle cx="591.5" cy="95.4" r="0.85" fill="#2aa8d8"/>
<circle cx="591.3" cy="108.6" r="0.85" fill="#2aa8d8"/>
<circle cx="592.5" cy="71.2" r="0.85" fill="#2aa8d8"/>
<rect x="584.20" y="92.1" width="8.4" height="41.80" fill="#46A3CF" fill-opacity="0.9" stroke="#3a3a3a" stroke-width="0.6"/>
<line x1="584.20" y1="107.4" x2="592.60" y2="107.4" stroke="#333" stroke-width="1.1"/>
<circle cx="586.7" cy="101.0" r="0.6" fill="#2aa8d8" opacity="0.8"/>
<circle cx="587.2" cy="124.4" r="0.6" fill="#2aa8d8" opacity="0.8"/>
<circle cx="585.4" cy="104.5" r="0.6" fill="#2aa8d8" opacity="0.8"/>
<circle cx="589.0" cy="95.9" r="0.6" fill="#2aa8d8" opacity="0.8"/>
<circle cx="589.1" cy="102.3" r="0.6" fill="#2aa8d8" opacity="0.8"/>
<circle cx="588.1" cy="107.6" r="0.6" fill="#2aa8d8" opacity="0.8"/>
<circle cx="588.3" cy="132.2" r="0.6" fill="#2aa8d8" opacity="0.8"/>
<circle cx="591.0" cy="116.1" r="0.6" fill="#2aa8d8" opacity="0.8"/>
<circle cx="586.0" cy="99.7" r="0.6" fill="#2aa8d8" opacity="0.8"/>
<circle cx="590.6" cy="130.1" r="0.6" fill="#2aa8d8" opacity="0.8"/>
<circle cx="586.2" cy="102.5" r="0.6" fill="#2aa8d8" opacity="0.8"/>
<circle cx="591.5" cy="123.0" r="0.6" fill="#2aa8d8" opacity="0.8"/>
<circle cx="591.6" cy="100.3" r="0.6" fill="#2aa8d8" opacity="0.8"/>
<circle cx="589.1" cy="129.0" r="0.6" fill="#2aa8d8" opacity="0.8"/>
<circle cx="585.6" cy="109.7" r="0.6" fill="#2aa8d8" opacity="0.8"/>
<path d="M636.50,77.80 L647.50,77.80 C648.33,78.83 651.17,81.80 652.50,84.00 C653.83,86.20 655.42,88.33 655.50,91.00 C655.58,93.67 654.17,96.83 653.00,100.00 C651.83,103.17 649.50,107.00 648.50,110.00 C647.50,113.00 647.03,115.20 647.00,118.00 C646.97,120.80 648.72,124.30 648.30,126.80 C647.88,129.30 645.97,130.80 644.50,133.00 C643.03,135.20 640.75,138.18 639.50,140.00 C638.25,141.82 637.42,143.25 637.00,143.90 L636.50,143.90 Z" fill="#5DBB75"/>
<line x1="630.3" y1="77.8" x2="630.3" y2="143.9" stroke="#5a5a5a" stroke-width="1"/>
<circle cx="631.4" cy="121.3" r="0.85" fill="#2eb0a0"/>
<circle cx="628.7" cy="86.4" r="0.85" fill="#2eb0a0"/>
<circle cx="631.7" cy="111.7" r="0.85" fill="#2eb0a0"/>
<circle cx="631.4" cy="114.7" r="0.85" fill="#2eb0a0"/>
<circle cx="626.8" cy="100.0" r="0.85" fill="#2eb0a0"/>
<circle cx="632.8" cy="81.7" r="0.85" fill="#2eb0a0"/>
<circle cx="628.4" cy="107.8" r="0.85" fill="#2eb0a0"/>
<circle cx="625.5" cy="112.7" r="0.85" fill="#2eb0a0"/>
<circle cx="630.0" cy="115.0" r="0.85" fill="#2eb0a0"/>
<circle cx="634.0" cy="117.3" r="0.85" fill="#2eb0a0"/>
<circle cx="626.5" cy="99.5" r="0.85" fill="#2eb0a0"/>
<circle cx="626.8" cy="105.7" r="0.85" fill="#2eb0a0"/>
<circle cx="626.9" cy="81.2" r="0.85" fill="#2eb0a0"/>
<circle cx="629.2" cy="104.3" r="0.85" fill="#2eb0a0"/>
<circle cx="628.8" cy="109.3" r="0.85" fill="#2eb0a0"/>
<circle cx="634.2" cy="109.1" r="0.85" fill="#2eb0a0"/>
<circle cx="628.6" cy="121.7" r="0.85" fill="#2eb0a0"/>
<circle cx="631.5" cy="107.9" r="0.85" fill="#2eb0a0"/>
<circle cx="628.6" cy="93.5" r="0.85" fill="#2eb0a0"/>
<circle cx="629.9" cy="131.3" r="0.85" fill="#2eb0a0"/>
<circle cx="629.3" cy="112.1" r="0.85" fill="#2eb0a0"/>
<circle cx="629.2" cy="92.5" r="0.85" fill="#2eb0a0"/>
<circle cx="626.2" cy="110.5" r="0.85" fill="#2eb0a0"/>
<circle cx="631.7" cy="89.6" r="0.85" fill="#2eb0a0"/>
<circle cx="628.5" cy="94.8" r="0.85" fill="#2eb0a0"/>
<circle cx="629.5" cy="81.2" r="0.85" fill="#2eb0a0"/>
<circle cx="629.7" cy="95.0" r="0.85" fill="#2eb0a0"/>
<circle cx="634.1" cy="109.6" r="0.85" fill="#2eb0a0"/>
<circle cx="628.7" cy="115.3" r="0.85" fill="#2eb0a0"/>
<circle cx="633.7" cy="109.8" r="0.85" fill="#2eb0a0"/>
<circle cx="632.4" cy="94.6" r="0.85" fill="#2eb0a0"/>
<circle cx="625.4" cy="93.7" r="0.85" fill="#2eb0a0"/>
<circle cx="634.4" cy="105.7" r="0.85" fill="#2eb0a0"/>
<circle cx="625.5" cy="111.1" r="0.85" fill="#2eb0a0"/>
<circle cx="633.0" cy="111.0" r="0.85" fill="#2eb0a0"/>
<circle cx="630.2" cy="93.0" r="0.85" fill="#2eb0a0"/>
<circle cx="627.7" cy="119.2" r="0.85" fill="#2eb0a0"/>
<circle cx="626.8" cy="136.9" r="0.85" fill="#2eb0a0"/>
<circle cx="627.9" cy="113.7" r="0.85" fill="#2eb0a0"/>
<circle cx="631.7" cy="111.9" r="0.85" fill="#2eb0a0"/>
<rect x="626.10" y="86.1" width="8.4" height="31.60" fill="#5DBB75" fill-opacity="0.9" stroke="#3a3a3a" stroke-width="0.6"/>
<line x1="626.10" y1="98.3" x2="634.50" y2="98.3" stroke="#333" stroke-width="1.1"/>
<circle cx="628.3" cy="108.4" r="0.6" fill="#2eb0a0" opacity="0.8"/>
<circle cx="628.6" cy="95.1" r="0.6" fill="#2eb0a0" opacity="0.8"/>
<circle cx="631.7" cy="107.7" r="0.6" fill="#2eb0a0" opacity="0.8"/>
<circle cx="633.0" cy="90.3" r="0.6" fill="#2eb0a0" opacity="0.8"/>
<circle cx="628.5" cy="99.4" r="0.6" fill="#2eb0a0" opacity="0.8"/>
<circle cx="633.7" cy="99.9" r="0.6" fill="#2eb0a0" opacity="0.8"/>
<circle cx="631.2" cy="103.8" r="0.6" fill="#2eb0a0" opacity="0.8"/>
<circle cx="633.5" cy="115.2" r="0.6" fill="#2eb0a0" opacity="0.8"/>
<circle cx="629.7" cy="110.1" r="0.6" fill="#2eb0a0" opacity="0.8"/>
<circle cx="633.1" cy="104.7" r="0.6" fill="#2eb0a0" opacity="0.8"/>
<circle cx="630.9" cy="111.0" r="0.6" fill="#2eb0a0" opacity="0.8"/>
<circle cx="629.4" cy="97.1" r="0.6" fill="#2eb0a0" opacity="0.8"/>
<circle cx="630.7" cy="109.4" r="0.6" fill="#2eb0a0" opacity="0.8"/>
<circle cx="631.8" cy="86.6" r="0.6" fill="#2eb0a0" opacity="0.8"/>
<circle cx="632.4" cy="114.7" r="0.6" fill="#2eb0a0" opacity="0.8"/>
<circle cx="633.2" cy="114.5" r="0.6" fill="#2eb0a0" opacity="0.8"/>
<circle cx="632.3" cy="103.0" r="0.6" fill="#2eb0a0" opacity="0.8"/>
<circle cx="627.5" cy="98.1" r="0.6" fill="#2eb0a0" opacity="0.8"/>
<circle cx="629.0" cy="97.3" r="0.6" fill="#2eb0a0" opacity="0.8"/>
<circle cx="631.6" cy="115.6" r="0.6" fill="#2eb0a0" opacity="0.8"/>
<rect x="529.3" y="35.5" width="130.20" height="172.40" fill="none" stroke="#555" stroke-width="1"/>
<text transform="translate(527.5,95.6) scale(0.88,1)" font-size="6.6" text-anchor="end" fill="#4a4a4a" font-family="Liberation Sans, sans-serif">3.5</text>
<text transform="translate(527.5,144.0) scale(0.88,1)" font-size="6.6" text-anchor="end" fill="#4a4a4a" font-family="Liberation Sans, sans-serif">3.4</text>
<text transform="translate(527.5,191.8) scale(0.88,1)" font-size="6.6" text-anchor="end" fill="#4a4a4a" font-family="Liberation Sans, sans-serif">3.3</text>
<text x="548.5" y="216.8" font-size="10.2" text-anchor="middle" fill="#222" font-family="Liberation Sans, sans-serif">D1</text>
<text x="590.2" y="216.8" font-size="10.2" text-anchor="middle" fill="#222" font-family="Liberation Sans, sans-serif">D3</text>
<text x="632.3" y="216.8" font-size="10.2" text-anchor="middle" fill="#222" font-family="Liberation Sans, sans-serif">D6</text>
<text transform="translate(515.8,132.5) rotate(-90)" font-size="8.5" text-anchor="middle" fill="#222" font-family="Liberation Sans, sans-serif">Shannon index of CAZyme genes</text>
<rect x="27.3" y="224.6" width="129.60" height="10.40" fill="#DADBDD"/><text x="48.2" y="233.1" font-size="8.8" fill="#222" font-family="Liberation Sans, sans-serif">R² = 0.110, <tspan font-style="italic">P</tspan> &lt; 0.0001</text>
<rect x="27.3" y="237.4" width="129.60" height="113.20" fill="#fff"/>
<clipPath id="cc"><rect x="27.3" y="237.4" width="129.60" height="113.20"/></clipPath>
<circle cx="54.1" cy="249.1" r="2.05" fill="#3A9BD2" fill-opacity="0.92" stroke="#333" stroke-opacity="0.45" stroke-width="0.4"/>
<circle cx="103.7" cy="246.1" r="2.05" fill="#4DB36A" fill-opacity="0.92" stroke="#333" stroke-opacity="0.45" stroke-width="0.4"/>
<circle cx="103.3" cy="245.6" r="2.05" fill="#3A9BD2" fill-opacity="0.92" stroke="#333" stroke-opacity="0.45" stroke-width="0.4"/>
<circle cx="81.4" cy="259.3" r="2.05" fill="#4DB36A" fill-opacity="0.92" stroke="#333" stroke-opacity="0.45" stroke-width="0.4"/>
<circle cx="103.0" cy="259.8" r="2.05" fill="#E8475A" fill-opacity="0.92" stroke="#333" stroke-opacity="0.45" stroke-width="0.4"/>
<circle cx="74.5" cy="269.7" r="2.05" fill="#3A9BD2" fill-opacity="0.92" stroke="#333" stroke-opacity="0.45" stroke-width="0.4"/>
<circle cx="95.1" cy="269.0" r="2.05" fill="#3A9BD2" fill-opacity="0.92" stroke="#333" stroke-opacity="0.45" stroke-width="0.4"/>
<circle cx="104.7" cy="269.0" r="2.05" fill="#3A9BD2" fill-opacity="0.92" stroke="#333" stroke-opacity="0.45" stroke-width="0.4"/>
<circle cx="107.2" cy="269.7" r="2.05" fill="#4DB36A" fill-opacity="0.92" stroke="#333" stroke-opacity="0.45" stroke-width="0.4"/>
<circle cx="110.9" cy="270.5" r="2.05" fill="#E8475A" fill-opacity="0.92" stroke="#333" stroke-opacity="0.45" stroke-width="0.4"/>
<circle cx="112.9" cy="274.2" r="2.05" fill="#E8475A" fill-opacity="0.92" stroke="#333" stroke-opacity="0.45" stroke-width="0.4"/>
<circle cx="114.9" cy="276.7" r="2.05" fill="#E8475A" fill-opacity="0.92" stroke="#333" stroke-opacity="0.45" stroke-width="0.4"/>
<circle cx="109.2" cy="278.4" r="2.05" fill="#E8475A" fill-opacity="0.92" stroke="#333" stroke-opacity="0.45" stroke-width="0.4"/>
<circle cx="91.8" cy="276.7" r="2.05" fill="#4DB36A" fill-opacity="0.92" stroke="#333" stroke-opacity="0.45" stroke-width="0.4"/>
<circle cx="112.4" cy="279.1" r="2.05" fill="#4DB36A" fill-opacity="0.92" stroke="#333" stroke-opacity="0.45" stroke-width="0.4"/>
<circle cx="113.7" cy="281.4" r="2.05" fill="#3A9BD2" fill-opacity="0.92" stroke="#333" stroke-opacity="0.45" stroke-width="0.4"/>
<circle cx="130.8" cy="266.0" r="2.05" fill="#3A9BD2" fill-opacity="0.92" stroke="#333" stroke-opacity="0.45" stroke-width="0.4"/>
<circle cx="128.6" cy="279.1" r="2.05" fill="#E8475A" fill-opacity="0.92" stroke="#333" stroke-opacity="0.45" stroke-width="0.4"/>
<circle cx="126.1" cy="281.4" r="2.05" fill="#4DB36A" fill-opacity="0.92" stroke="#333" stroke-opacity="0.45" stroke-width="0.4"/>
<circle cx="130.3" cy="284.1" r="2.05" fill="#4DB36A" fill-opacity="0.92" stroke="#333" stroke-opacity="0.45" stroke-width="0.4"/>
<circle cx="82.7" cy="287.8" r="2.05" fill="#3A9BD2" fill-opacity="0.92" stroke="#333" stroke-opacity="0.45" stroke-width="0.4"/>
<circle cx="86.9" cy="284.6" r="2.05" fill="#3A9BD2" fill-opacity="0.92" stroke="#333" stroke-opacity="0.45" stroke-width="0.4"/>
<circle cx="90.6" cy="285.8" r="2.05" fill="#E8475A" fill-opacity="0.92" stroke="#333" stroke-opacity="0.45" stroke-width="0.4"/>
<circle cx="93.1" cy="289.6" r="2.05" fill="#4DB36A" fill-opacity="0.92" stroke="#333" stroke-opacity="0.45" stroke-width="0.4"/>
<circle cx="99.3" cy="282.1" r="2.05" fill="#3A9BD2" fill-opacity="0.92" stroke="#333" stroke-opacity="0.45" stroke-width="0.4"/>
<circle cx="102.3" cy="283.4" r="2.05" fill="#3A9BD2" fill-opacity="0.92" stroke="#333" stroke-opacity="0.45" stroke-width="0.4"/>
<circle cx="101.8" cy="287.6" r="2.05" fill="#4DB36A" fill-opacity="0.92" stroke="#333" stroke-opacity="0.45" stroke-width="0.4"/>
<circle cx="107.5" cy="287.6" r="2.05" fill="#3A9BD2" fill-opacity="0.92" stroke="#333" stroke-opacity="0.45" stroke-width="0.4"/>
<circle cx="117.9" cy="287.1" r="2.05" fill="#3A9BD2" fill-opacity="0.92" stroke="#333" stroke-opacity="0.45" stroke-width="0.4"/>
<circle cx="128.6" cy="289.1" r="2.05" fill="#E8475A" fill-opacity="0.92" stroke="#333" stroke-opacity="0.45" stroke-width="0.4"/>
<circle cx="130.3" cy="291.6" r="2.05" fill="#3A9BD2" fill-opacity="0.92" stroke="#333" stroke-opacity="0.45" stroke-width="0.4"/>
<circle cx="56.3" cy="294.0" r="2.05" fill="#4DB36A" fill-opacity="0.92" stroke="#333" stroke-opacity="0.45" stroke-width="0.4"/>
<circle cx="70.2" cy="297.8" r="2.05" fill="#4DB36A" fill-opacity="0.92" stroke="#333" stroke-opacity="0.45" stroke-width="0.4"/>
<circle cx="80.7" cy="294.0" r="2.05" fill="#4DB36A" fill-opacity="0.92" stroke="#333" stroke-opacity="0.45" stroke-width="0.4"/>
<circle cx="85.1" cy="295.0" r="2.05" fill="#4DB36A" fill-opacity="0.92" stroke="#333" stroke-opacity="0.45" stroke-width="0.4"/>
<circle cx="88.9" cy="296.3" r="2.05" fill="#3A9BD2" fill-opacity="0.92" stroke="#333" stroke-opacity="0.45" stroke-width="0.4"/>
<circle cx="92.3" cy="295.8" r="2.05" fill="#4DB36A" fill-opacity="0.92" stroke="#333" stroke-opacity="0.45" stroke-width="0.4"/>
<circle cx="95.6" cy="295.8" r="2.05" fill="#4DB36A" fill-opacity="0.92" stroke="#333" stroke-opacity="0.45" stroke-width="0.4"/>
<circle cx="98.0" cy="296.5" r="2.05" fill="#3A9BD2" fill-opacity="0.92" stroke="#333" stroke-opacity="0.45" stroke-width="0.4"/>
<circle cx="100.0" cy="295.0" r="2.05" fill="#3A9BD2" fill-opacity="0.92" stroke="#333" stroke-opacity="0.45" stroke-width="0.4"/>
<circle cx="102.3" cy="292.1" r="2.05" fill="#4DB36A" fill-opacity="0.92" stroke="#333" stroke-opacity="0.45" stroke-width="0.4"/>
<circle cx="106.2" cy="294.5" r="2.05" fill="#4DB36A" fill-opacity="0.92" stroke="#333" stroke-opacity="0.45" stroke-width="0.4"/>
<circle cx="111.7" cy="295.8" r="2.05" fill="#E8475A" fill-opacity="0.92" stroke="#333" stroke-opacity="0.45" stroke-width="0.4"/>
<circle cx="116.7" cy="294.5" r="2.05" fill="#4DB36A" fill-opacity="0.92" stroke="#333" stroke-opacity="0.45" stroke-width="0.4"/>
<circle cx="120.9" cy="299.0" r="2.05" fill="#3A9BD2" fill-opacity="0.92" stroke="#333" stroke-opacity="0.45" stroke-width="0.4"/>
<circle cx="126.1" cy="297.0" r="2.05" fill="#3A9BD2" fill-opacity="0.92" stroke="#333" stroke-opacity="0.45" stroke-width="0.4"/>
<circle cx="128.3" cy="299.0" r="2.05" fill="#E8475A" fill-opacity="0.92" stroke="#333" stroke-opacity="0.45" stroke-width="0.4"/>
<circle cx="131.0" cy="300.7" r="2.05" fill="#4DB36A" fill-opacity="0.92" stroke="#333" stroke-opacity="0.45" stroke-width="0.4"/>
<circle cx="132.8" cy="302.0" r="2.05" fill="#4DB36A" fill-opacity="0.92" stroke="#333" stroke-opacity="0.45" stroke-width="0.4"/>
<circle cx="86.9" cy="299.5" r="2.05" fill="#3A9BD2" fill-opacity="0.92" stroke="#333" stroke-opacity="0.45" stroke-width="0.4"/>
<circle cx="89.8" cy="302.0" r="2.05" fill="#4DB36A" fill-opacity="0.92" stroke="#333" stroke-opacity="0.45" stroke-width="0.4"/>
<circle cx="94.3" cy="300.7" r="2.05" fill="#4DB36A" fill-opacity="0.92" stroke="#333" stroke-opacity="0.45" stroke-width="0.4"/>
<circle cx="97.3" cy="303.2" r="2.05" fill="#E8475A" fill-opacity="0.92" stroke="#333" stroke-opacity="0.45" stroke-width="0.4"/>
<circle cx="100.5" cy="302.0" r="2.05" fill="#4DB36A" fill-opacity="0.92" stroke="#333" stroke-opacity="0.45" stroke-width="0.4"/>
<circle cx="103.7" cy="300.7" r="2.05" fill="#3A9BD2" fill-opacity="0.92" stroke="#333" stroke-opacity="0.45" stroke-width="0.4"/>
<circle cx="107.5" cy="300.0" r="2.05" fill="#4DB36A" fill-opacity="0.92" stroke="#333" stroke-opacity="0.45" stroke-width="0.4"/>
<circle cx="110.0" cy="302.0" r="2.05" fill="#4DB36A" fill-opacity="0.92" stroke="#333" stroke-opacity="0.45" stroke-width="0.4"/>
<circle cx="114.7" cy="299.5" r="2.05" fill="#E8475A" fill-opacity="0.92" stroke="#333" stroke-opacity="0.45" stroke-width="0.4"/>
<circle cx="116.7" cy="303.2" r="2.05" fill="#3A9BD2" fill-opacity="0.92" stroke="#333" stroke-opacity="0.45" stroke-width="0.4"/>
<circle cx="117.9" cy="304.5" r="2.05" fill="#E8475A" fill-opacity="0.92" stroke="#333" stroke-opacity="0.45" stroke-width="0.4"/>
<circle cx="123.6" cy="305.7" r="2.05" fill="#4DB36A" fill-opacity="0.92" stroke="#333" stroke-opacity="0.45" stroke-width="0.4"/>
<circle cx="126.6" cy="304.5" r="2.05" fill="#E8475A" fill-opacity="0.92" stroke="#333" stroke-opacity="0.45" stroke-width="0.4"/>
<circle cx="46.4" cy="310.7" r="2.05" fill="#3A9BD2" fill-opacity="0.92" stroke="#333" stroke-opacity="0.45" stroke-width="0.4"/>
<circle cx="70.2" cy="306.9" r="2.05" fill="#4DB36A" fill-opacity="0.92" stroke="#333" stroke-opacity="0.45" stroke-width="0.4"/>
<circle cx="80.7" cy="309.9" r="2.05" fill="#4DB36A" fill-opacity="0.92" stroke="#333" stroke-opacity="0.45" stroke-width="0.4"/>
<circle cx="75.2" cy="316.1" r="2.05" fill="#4DB36A" fill-opacity="0.92" stroke="#333" stroke-opacity="0.45" stroke-width="0.4"/>
<circle cx="94.8" cy="306.2" r="2.05" fill="#E8475A" fill-opacity="0.92" stroke="#333" stroke-opacity="0.45" stroke-width="0.4"/>
<circle cx="95.6" cy="309.4" r="2.05" fill="#E8475A" fill-opacity="0.92" stroke="#333" stroke-opacity="0.45" stroke-width="0.4"/>
<circle cx="99.3" cy="311.2" r="2.05" fill="#4DB36A" fill-opacity="0.92" stroke="#333" stroke-opacity="0.45" stroke-width="0.4"/>
<circle cx="103.7" cy="309.4" r="2.05" fill="#4DB36A" fill-opacity="0.92" stroke="#333" stroke-opacity="0.45" stroke-width="0.4"/>
<circle cx="106.7" cy="308.2" r="2.05" fill="#E8475A" fill-opacity="0.92" stroke="#333" stroke-opacity="0.45" stroke-width="0.4"/>
<circle cx="110.4" cy="309.4" r="2.05" fill="#3A9BD2" fill-opacity="0.92" stroke="#333" stroke-opacity="0.45" stroke-width="0.4"/>
<circle cx="112.4" cy="306.9" r="2.05" fill="#4DB36A" fill-opacity="0.92" stroke="#333" stroke-opacity="0.45" stroke-width="0.4"/>
<circle cx="116.7" cy="308.2" r="2.05" fill="#4DB36A" fill-opacity="0.92" stroke="#333" stroke-opacity="0.45" stroke-width="0.4"/>
<circle cx="120.4" cy="309.4" r="2.05" fill="#4DB36A" fill-opacity="0.92" stroke="#333" stroke-opacity="0.45" stroke-width="0.4"/>
<circle cx="124.1" cy="311.9" r="2.05" fill="#4DB36A" fill-opacity="0.92" stroke="#333" stroke-opacity="0.45" stroke-width="0.4"/>
<circle cx="127.8" cy="308.9" r="2.05" fill="#4DB36A" fill-opacity="0.92" stroke="#333" stroke-opacity="0.45" stroke-width="0.4"/>
<circle cx="137.8" cy="312.4" r="2.05" fill="#4DB36A" fill-opacity="0.92" stroke="#333" stroke-opacity="0.45" stroke-width="0.4"/>
<circle cx="87.6" cy="316.9" r="2.05" fill="#3A9BD2" fill-opacity="0.92" stroke="#333" stroke-opacity="0.45" stroke-width="0.4"/>
<circle cx="101.8" cy="314.4" r="2.05" fill="#E8475A" fill-opacity="0.92" stroke="#333" stroke-opacity="0.45" stroke-width="0.4"/>
<circle cx="106.2" cy="316.4" r="2.05" fill="#E8475A" fill-opacity="0.92" stroke="#333" stroke-opacity="0.45" stroke-width="0.4"/>
<circle cx="110.4" cy="316.9" r="2.05" fill="#4DB36A" fill-opacity="0.92" stroke="#333" stroke-opacity="0.45" stroke-width="0.4"/>
<circle cx="115.4" cy="318.1" r="2.05" fill="#4DB36A" fill-opacity="0.92" stroke="#333" stroke-opacity="0.45" stroke-width="0.4"/>
<circle cx="121.1" cy="317.4" r="2.05" fill="#E8475A" fill-opacity="0.92" stroke="#333" stroke-opacity="0.45" stroke-width="0.4"/>
<circle cx="130.3" cy="318.1" r="2.05" fill="#4DB36A" fill-opacity="0.92" stroke="#333" stroke-opacity="0.45" stroke-width="0.4"/>
<circle cx="67.0" cy="325.6" r="2.05" fill="#3A9BD2" fill-opacity="0.92" stroke="#333" stroke-opacity="0.45" stroke-width="0.4"/>
<circle cx="89.8" cy="324.3" r="2.05" fill="#3A9BD2" fill-opacity="0.92" stroke="#333" stroke-opacity="0.45" stroke-width="0.4"/>
<circle cx="91.8" cy="324.3" r="2.05" fill="#4DB36A" fill-opacity="0.92" stroke="#333" stroke-opacity="0.45" stroke-width="0.4"/>
<circle cx="101.8" cy="326.1" r="2.05" fill="#3A9BD2" fill-opacity="0.92" stroke="#333" stroke-opacity="0.45" stroke-width="0.4"/>
<circle cx="110.4" cy="328.0" r="2.05" fill="#4DB36A" fill-opacity="0.92" stroke="#333" stroke-opacity="0.45" stroke-width="0.4"/>
<circle cx="111.7" cy="330.5" r="2.05" fill="#3A9BD2" fill-opacity="0.92" stroke="#333" stroke-opacity="0.45" stroke-width="0.4"/>
<circle cx="114.2" cy="331.3" r="2.05" fill="#3A9BD2" fill-opacity="0.92" stroke="#333" stroke-opacity="0.45" stroke-width="0.4"/>
<circle cx="119.9" cy="329.3" r="2.05" fill="#3A9BD2" fill-opacity="0.92" stroke="#333" stroke-opacity="0.45" stroke-width="0.4"/>
<circle cx="127.1" cy="330.5" r="2.05" fill="#E8475A" fill-opacity="0.92" stroke="#333" stroke-opacity="0.45" stroke-width="0.4"/>
<circle cx="135.3" cy="328.0" r="2.05" fill="#E8475A" fill-opacity="0.92" stroke="#333" stroke-opacity="0.45" stroke-width="0.4"/>
<circle cx="55.1" cy="331.0" r="2.05" fill="#3A9BD2" fill-opacity="0.92" stroke="#333" stroke-opacity="0.45" stroke-width="0.4"/>
<circle cx="99.3" cy="332.5" r="2.05" fill="#E8475A" fill-opacity="0.92" stroke="#333" stroke-opacity="0.45" stroke-width="0.4"/>
<circle cx="98.8" cy="335.5" r="2.05" fill="#E8475A" fill-opacity="0.92" stroke="#333" stroke-opacity="0.45" stroke-width="0.4"/>
<circle cx="100.5" cy="336.7" r="2.05" fill="#E8475A" fill-opacity="0.92" stroke="#333" stroke-opacity="0.45" stroke-width="0.4"/>
<circle cx="110.0" cy="335.5" r="2.05" fill="#E8475A" fill-opacity="0.92" stroke="#333" stroke-opacity="0.45" stroke-width="0.4"/>
<circle cx="107.5" cy="340.4" r="2.05" fill="#3A9BD2" fill-opacity="0.92" stroke="#333" stroke-opacity="0.45" stroke-width="0.4"/>
<circle cx="109.2" cy="339.2" r="2.05" fill="#3A9BD2" fill-opacity="0.92" stroke="#333" stroke-opacity="0.45" stroke-width="0.4"/>
<circle cx="114.9" cy="339.2" r="2.05" fill="#E8475A" fill-opacity="0.92" stroke="#333" stroke-opacity="0.45" stroke-width="0.4"/>
<circle cx="117.4" cy="340.4" r="2.05" fill="#3A9BD2" fill-opacity="0.92" stroke="#333" stroke-opacity="0.45" stroke-width="0.4"/>
<circle cx="122.9" cy="340.4" r="2.05" fill="#E8475A" fill-opacity="0.92" stroke="#333" stroke-opacity="0.45" stroke-width="0.4"/>
<circle cx="126.1" cy="339.2" r="2.05" fill="#3A9BD2" fill-opacity="0.92" stroke="#333" stroke-opacity="0.45" stroke-width="0.4"/>
<circle cx="134.0" cy="341.7" r="2.05" fill="#3A9BD2" fill-opacity="0.92" stroke="#333" stroke-opacity="0.45" stroke-width="0.4"/>
<circle cx="98.8" cy="342.9" r="2.05" fill="#E8475A" fill-opacity="0.92" stroke="#333" stroke-opacity="0.45" stroke-width="0.4"/>
<circle cx="103.0" cy="342.2" r="2.05" fill="#3A9BD2" fill-opacity="0.92" stroke="#333" stroke-opacity="0.45" stroke-width="0.4"/>
<circle cx="106.0" cy="344.2" r="2.05" fill="#E8475A" fill-opacity="0.92" stroke="#333" stroke-opacity="0.45" stroke-width="0.4"/>
<circle cx="107.2" cy="345.4" r="2.05" fill="#E8475A" fill-opacity="0.92" stroke="#333" stroke-opacity="0.45" stroke-width="0.4"/>
<circle cx="110.4" cy="343.7" r="2.05" fill="#4DB36A" fill-opacity="0.92" stroke="#333" stroke-opacity="0.45" stroke-width="0.4"/>
<circle cx="114.2" cy="343.7" r="2.05" fill="#3A9BD2" fill-opacity="0.92" stroke="#333" stroke-opacity="0.45" stroke-width="0.4"/>
<circle cx="116.7" cy="344.7" r="2.05" fill="#3A9BD2" fill-opacity="0.92" stroke="#333" stroke-opacity="0.45" stroke-width="0.4"/>
<circle cx="119.1" cy="343.7" r="2.05" fill="#E8475A" fill-opacity="0.92" stroke="#333" stroke-opacity="0.45" stroke-width="0.4"/>
<circle cx="121.6" cy="344.2" r="2.05" fill="#E8475A" fill-opacity="0.92" stroke="#333" stroke-opacity="0.45" stroke-width="0.4"/>
<circle cx="123.6" cy="342.9" r="2.05" fill="#E8475A" fill-opacity="0.92" stroke="#333" stroke-opacity="0.45" stroke-width="0.4"/>
<circle cx="126.6" cy="345.4" r="2.05" fill="#E8475A" fill-opacity="0.92" stroke="#333" stroke-opacity="0.45" stroke-width="0.4"/>
<circle cx="129.1" cy="344.7" r="2.05" fill="#3A9BD2" fill-opacity="0.92" stroke="#333" stroke-opacity="0.45" stroke-width="0.4"/>
<circle cx="131.5" cy="344.2" r="2.05" fill="#3A9BD2" fill-opacity="0.92" stroke="#333" stroke-opacity="0.45" stroke-width="0.4"/>
<circle cx="134.0" cy="343.7" r="2.05" fill="#E8475A" fill-opacity="0.92" stroke="#333" stroke-opacity="0.45" stroke-width="0.4"/>
<circle cx="139.7" cy="343.7" r="2.05" fill="#E8475A" fill-opacity="0.92" stroke="#333" stroke-opacity="0.45" stroke-width="0.4"/>
<circle cx="142.2" cy="344.2" r="2.05" fill="#E8475A" fill-opacity="0.92" stroke="#333" stroke-opacity="0.45" stroke-width="0.4"/>
<circle cx="153.1" cy="345.4" r="2.05" fill="#E8475A" fill-opacity="0.92" stroke="#333" stroke-opacity="0.45" stroke-width="0.4"/>
<circle cx="26.8" cy="287.6" r="2.05" fill="#E8475A" fill-opacity="0.92" stroke="#333" stroke-opacity="0.45" stroke-width="0.4"/>
<circle cx="121.6" cy="345.4" r="2.05" fill="#E8475A" fill-opacity="0.92" stroke="#333" stroke-opacity="0.45" stroke-width="0.4"/>
<g clip-path="url(#cc)">
<path d="M27.3,260.3 L33.8,264.7 L40.3,269.0 L46.7,273.0 L53.2,276.9 L59.7,280.7 L66.2,284.2 L72.7,287.6 L79.1,290.8 L85.6,293.8 L92.1,296.7 L98.6,299.4 L105.1,301.9 L111.5,304.2 L118.0,306.3 L124.5,308.3 L131.0,310.1 L137.5,311.8 L143.9,313.2 L150.4,314.5 L156.9,315.6 L156.9,338.0 L150.4,333.7 L143.9,329.6 L137.5,325.7 L131.0,322.0 L124.5,318.5 L118.0,315.2 L111.5,312.2 L105.1,309.3 L98.6,306.6 L92.1,304.2 L85.6,301.9 L79.1,299.8 L72.7,298.0 L66.2,296.4 L59.7,294.9 L53.2,293.7 L46.7,292.7 L40.3,291.8 L33.8,291.2 L27.3,290.8 Z" fill="#8c8c8c" fill-opacity="0.62"/>
<line x1="27.3" y1="275.9" x2="156.9" y2="328" stroke="#fff" stroke-width="1"/>
</g>
<rect x="27.3" y="237.4" width="129.60" height="113.20" fill="none" stroke="#333" stroke-width="1"/>
<text transform="translate(25.5,260.9) scale(0.88,1)" font-size="6.6" text-anchor="end" fill="#4a4a4a" font-family="Liberation Sans, sans-serif">1.5</text>
<text transform="translate(25.5,290.7) scale(0.88,1)" font-size="6.6" text-anchor="end" fill="#4a4a4a" font-family="Liberation Sans, sans-serif">1.0</text>
<text transform="translate(25.5,320.0) scale(0.88,1)" font-size="6.6" text-anchor="end" fill="#4a4a4a" font-family="Liberation Sans, sans-serif">0.5</text>
<text transform="translate(25.5,349.5) scale(0.88,1)" font-size="6.6" text-anchor="end" fill="#4a4a4a" font-family="Liberation Sans, sans-serif">0.0</text>
<text transform="translate(57.4,358.8) scale(0.88,1)" font-size="6.6" text-anchor="middle" fill="#4a4a4a" font-family="Liberation Sans, sans-serif">0.60</text>
<text transform="translate(101.0,358.8) scale(0.88,1)" font-size="6.6" text-anchor="middle" fill="#4a4a4a" font-family="Liberation Sans, sans-serif">0.62</text>
<text transform="translate(146.2,358.8) scale(0.88,1)" font-size="6.6" text-anchor="middle" fill="#4a4a4a" font-family="Liberation Sans, sans-serif">0.64</text>
<text x="87.8" y="370.7" font-size="8.5" text-anchor="middle" fill="#222" font-family="Liberation Sans, sans-serif">GC content</text>
<text transform="translate(8.2,299.2) rotate(-90)" font-size="8.2" text-anchor="middle" fill="#222" font-family="Liberation Sans, sans-serif">Copies of MGEs per cell</text>
<rect x="185.3" y="224.6" width="127.30" height="10.40" fill="#DADBDD"/><text x="203.8" y="233.1" font-size="8.8" fill="#222" font-family="Liberation Sans, sans-serif">R² = 0.066, <tspan font-style="italic">P</tspan> = 0.0019</text>
<rect x="185.3" y="238.2" width="127.30" height="112.70" fill="#fff"/>
<clipPath id="cd"><rect x="185.3" y="238.2" width="127.30" height="112.70"/></clipPath>
<circle cx="243.9" cy="243.7" r="2.05" fill="#4DB36A" fill-opacity="0.92" stroke="#333" stroke-opacity="0.45" stroke-width="0.4"/>
<circle cx="262.2" cy="266.0" r="2.05" fill="#3A9BD2" fill-opacity="0.92" stroke="#333" stroke-opacity="0.45" stroke-width="0.4"/>
<circle cx="279.8" cy="272.2" r="2.05" fill="#3A9BD2" fill-opacity="0.92" stroke="#333" stroke-opacity="0.45" stroke-width="0.4"/>
<circle cx="289.0" cy="271.7" r="2.05" fill="#4DB36A" fill-opacity="0.92" stroke="#333" stroke-opacity="0.45" stroke-width="0.4"/>
<circle cx="232.7" cy="276.7" r="2.05" fill="#3A9BD2" fill-opacity="0.92" stroke="#333" stroke-opacity="0.45" stroke-width="0.4"/>
<circle cx="239.9" cy="274.7" r="2.05" fill="#4DB36A" fill-opacity="0.92" stroke="#333" stroke-opacity="0.45" stroke-width="0.4"/>
<circle cx="258.0" cy="274.7" r="2.05" fill="#3A9BD2" fill-opacity="0.92" stroke="#333" stroke-opacity="0.45" stroke-width="0.4"/>
<circle cx="260.5" cy="272.2" r="2.05" fill="#4DB36A" fill-opacity="0.92" stroke="#333" stroke-opacity="0.45" stroke-width="0.4"/>
<circle cx="262.2" cy="273.4" r="2.05" fill="#3A9BD2" fill-opacity="0.92" stroke="#333" stroke-opacity="0.45" stroke-width="0.4"/>
<circle cx="212.6" cy="283.4" r="2.05" fill="#3A9BD2" fill-opacity="0.92" stroke="#333" stroke-opacity="0.45" stroke-width="0.4"/>
<circle cx="212.8" cy="286.6" r="2.05" fill="#3A9BD2" fill-opacity="0.92" stroke="#333" stroke-opacity="0.45" stroke-width="0.4"/>
<circle cx="249.3" cy="282.1" r="2.05" fill="#3A9BD2" fill-opacity="0.92" stroke="#333" stroke-opacity="0.45" stroke-width="0.4"/>
<circle cx="252.5" cy="280.9" r="2.05" fill="#E8475A" fill-opacity="0.92" stroke="#333" stroke-opacity="0.45" stroke-width="0.4"/>
<circle cx="256.3" cy="282.1" r="2.05" fill="#3A9BD2" fill-opacity="0.92" stroke="#333" stroke-opacity="0.45" stroke-width="0.4"/>
<circle cx="255.0" cy="280.1" r="2.05" fill="#3A9BD2" fill-opacity="0.92" stroke="#333" stroke-opacity="0.45" stroke-width="0.4"/>
<circle cx="267.9" cy="279.6" r="2.05" fill="#E8475A" fill-opacity="0.92" stroke="#333" stroke-opacity="0.45" stroke-width="0.4"/>
<circle cx="275.4" cy="277.7" r="2.05" fill="#4DB36A" fill-opacity="0.92" stroke="#333" stroke-opacity="0.45" stroke-width="0.4"/>
<circle cx="277.1" cy="283.4" r="2.05" fill="#4DB36A" fill-opacity="0.92" stroke="#333" stroke-opacity="0.45" stroke-width="0.4"/>
<circle cx="284.1" cy="287.1" r="2.05" fill="#4DB36A" fill-opacity="0.92" stroke="#333" stroke-opacity="0.45" stroke-width="0.4"/>
<circle cx="241.4" cy="288.3" r="2.05" fill="#3A9BD2" fill-opacity="0.92" stroke="#333" stroke-opacity="0.45" stroke-width="0.4"/>
<circle cx="249.3" cy="291.6" r="2.05" fill="#E8475A" fill-opacity="0.92" stroke="#333" stroke-opacity="0.45" stroke-width="0.4"/>
<circle cx="253.8" cy="290.8" r="2.05" fill="#4DB36A" fill-opacity="0.92" stroke="#333" stroke-opacity="0.45" stroke-width="0.4"/>
<circle cx="256.8" cy="288.3" r="2.05" fill="#4DB36A" fill-opacity="0.92" stroke="#333" stroke-opacity="0.45" stroke-width="0.4"/>
<circle cx="261.2" cy="284.6" r="2.05" fill="#3A9BD2" fill-opacity="0.92" stroke="#333" stroke-opacity="0.45" stroke-width="0.4"/>
<circle cx="264.2" cy="283.4" r="2.05" fill="#E8475A" fill-opacity="0.92" stroke="#333" stroke-opacity="0.45" stroke-width="0.4"/>
<circle cx="269.7" cy="285.1" r="2.05" fill="#E8475A" fill-opacity="0.92" stroke="#333" stroke-opacity="0.45" stroke-width="0.4"/>
<circle cx="271.2" cy="287.6" r="2.05" fill="#E8475A" fill-opacity="0.92" stroke="#333" stroke-opacity="0.45" stroke-width="0.4"/>
<circle cx="275.9" cy="289.1" r="2.05" fill="#3A9BD2" fill-opacity="0.92" stroke="#333" stroke-opacity="0.45" stroke-width="0.4"/>
<circle cx="289.0" cy="290.8" r="2.05" fill="#3A9BD2" fill-opacity="0.92" stroke="#333" stroke-opacity="0.45" stroke-width="0.4"/>
<circle cx="243.1" cy="295.0" r="2.05" fill="#3A9BD2" fill-opacity="0.92" stroke="#333" stroke-opacity="0.45" stroke-width="0.4"/>
<circle cx="246.1" cy="295.8" r="2.05" fill="#4DB36A" fill-opacity="0.92" stroke="#333" stroke-opacity="0.45" stroke-width="0.4"/>
<circle cx="253.5" cy="294.0" r="2.05" fill="#E8475A" fill-opacity="0.92" stroke="#333" stroke-opacity="0.45" stroke-width="0.4"/>
<circle cx="262.2" cy="290.8" r="2.05" fill="#4DB36A" fill-opacity="0.92" stroke="#333" stroke-opacity="0.45" stroke-width="0.4"/>
<circle cx="265.4" cy="289.6" r="2.05" fill="#4DB36A" fill-opacity="0.92" stroke="#333" stroke-opacity="0.45" stroke-width="0.4"/>
<circle cx="267.9" cy="292.1" r="2.05" fill="#3A9BD2" fill-opacity="0.92" stroke="#333" stroke-opacity="0.45" stroke-width="0.4"/>
<circle cx="271.7" cy="291.6" r="2.05" fill="#E8475A" fill-opacity="0.92" stroke="#333" stroke-opacity="0.45" stroke-width="0.4"/>
<circle cx="273.6" cy="294.0" r="2.05" fill="#3A9BD2" fill-opacity="0.92" stroke="#333" stroke-opacity="0.45" stroke-width="0.4"/>
<circle cx="279.1" cy="295.0" r="2.05" fill="#4DB36A" fill-opacity="0.92" stroke="#333" stroke-opacity="0.45" stroke-width="0.4"/>
<circle cx="282.8" cy="293.3" r="2.05" fill="#E8475A" fill-opacity="0.92" stroke="#333" stroke-opacity="0.45" stroke-width="0.4"/>
<circle cx="289.0" cy="297.5" r="2.05" fill="#4DB36A" fill-opacity="0.92" stroke="#333" stroke-opacity="0.45" stroke-width="0.4"/>
<circle cx="238.9" cy="304.5" r="2.05" fill="#4DB36A" fill-opacity="0.92" stroke="#333" stroke-opacity="0.45" stroke-width="0.4"/>
<circle cx="246.8" cy="304.5" r="2.05" fill="#4DB36A" fill-opacity="0.92" stroke="#333" stroke-opacity="0.45" stroke-width="0.4"/>
<circle cx="255.5" cy="303.2" r="2.05" fill="#3A9BD2" fill-opacity="0.92" stroke="#333" stroke-opacity="0.45" stroke-width="0.4"/>
<circle cx="258.7" cy="304.0" r="2.05" fill="#3A9BD2" fill-opacity="0.92" stroke="#333" stroke-opacity="0.45" stroke-width="0.4"/>
<circle cx="262.2" cy="297.0" r="2.05" fill="#4DB36A" fill-opacity="0.92" stroke="#333" stroke-opacity="0.45" stroke-width="0.4"/>
<circle cx="265.4" cy="299.0" r="2.05" fill="#3A9BD2" fill-opacity="0.92" stroke="#333" stroke-opacity="0.45" stroke-width="0.4"/>
<circle cx="267.9" cy="302.0" r="2.05" fill="#E8475A" fill-opacity="0.92" stroke="#333" stroke-opacity="0.45" stroke-width="0.4"/>
<circle cx="270.4" cy="300.7" r="2.05" fill="#E8475A" fill-opacity="0.92" stroke="#333" stroke-opacity="0.45" stroke-width="0.4"/>
<circle cx="274.9" cy="305.7" r="2.05" fill="#4DB36A" fill-opacity="0.92" stroke="#333" stroke-opacity="0.45" stroke-width="0.4"/>
<circle cx="279.1" cy="300.0" r="2.05" fill="#4DB36A" fill-opacity="0.92" stroke="#333" stroke-opacity="0.45" stroke-width="0.4"/>
<circle cx="283.3" cy="304.5" r="2.05" fill="#4DB36A" fill-opacity="0.92" stroke="#333" stroke-opacity="0.45" stroke-width="0.4"/>
<circle cx="286.0" cy="302.5" r="2.05" fill="#E8475A" fill-opacity="0.92" stroke="#333" stroke-opacity="0.45" stroke-width="0.4"/>
<circle cx="204.6" cy="309.9" r="2.05" fill="#3A9BD2" fill-opacity="0.92" stroke="#333" stroke-opacity="0.45" stroke-width="0.4"/>
<circle cx="214.1" cy="312.7" r="2.05" fill="#4DB36A" fill-opacity="0.92" stroke="#333" stroke-opacity="0.45" stroke-width="0.4"/>
<circle cx="228.2" cy="311.2" r="2.05" fill="#4DB36A" fill-opacity="0.92" stroke="#333" stroke-opacity="0.45" stroke-width="0.4"/>
<circle cx="239.4" cy="312.7" r="2.05" fill="#4DB36A" fill-opacity="0.92" stroke="#333" stroke-opacity="0.45" stroke-width="0.4"/>
<circle cx="246.8" cy="314.4" r="2.05" fill="#3A9BD2" fill-opacity="0.92" stroke="#333" stroke-opacity="0.45" stroke-width="0.4"/>
<circle cx="250.6" cy="310.7" r="2.05" fill="#4DB36A" fill-opacity="0.92" stroke="#333" stroke-opacity="0.45" stroke-width="0.4"/>
<circle cx="254.3" cy="306.9" r="2.05" fill="#3A9BD2" fill-opacity="0.92" stroke="#333" stroke-opacity="0.45" stroke-width="0.4"/>
<circle cx="257.5" cy="309.4" r="2.05" fill="#3A9BD2" fill-opacity="0.92" stroke="#333" stroke-opacity="0.45" stroke-width="0.4"/>
<circle cx="264.2" cy="309.4" r="2.05" fill="#E8475A" fill-opacity="0.92" stroke="#333" stroke-opacity="0.45" stroke-width="0.4"/>
<circle cx="267.9" cy="305.2" r="2.05" fill="#3A9BD2" fill-opacity="0.92" stroke="#333" stroke-opacity="0.45" stroke-width="0.4"/>
<circle cx="270.4" cy="306.9" r="2.05" fill="#E8475A" fill-opacity="0.92" stroke="#333" stroke-opacity="0.45" stroke-width="0.4"/>
<circle cx="273.4" cy="310.7" r="2.05" fill="#E8475A" fill-opacity="0.92" stroke="#333" stroke-opacity="0.45" stroke-width="0.4"/>
<circle cx="277.9" cy="311.9" r="2.05" fill="#4DB36A" fill-opacity="0.92" stroke="#333" stroke-opacity="0.45" stroke-width="0.4"/>
<circle cx="283.6" cy="310.7" r="2.05" fill="#E8475A" fill-opacity="0.92" stroke="#333" stroke-opacity="0.45" stroke-width="0.4"/>
<circle cx="289.0" cy="310.2" r="2.05" fill="#4DB36A" fill-opacity="0.92" stroke="#333" stroke-opacity="0.45" stroke-width="0.4"/>
<circle cx="296.5" cy="311.2" r="2.05" fill="#4DB36A" fill-opacity="0.92" stroke="#333" stroke-opacity="0.45" stroke-width="0.4"/>
<circle cx="245.6" cy="316.1" r="2.05" fill="#E8475A" fill-opacity="0.92" stroke="#333" stroke-opacity="0.45" stroke-width="0.4"/>
<circle cx="248.8" cy="316.9" r="2.05" fill="#E8475A" fill-opacity="0.92" stroke="#333" stroke-opacity="0.45" stroke-width="0.4"/>
<circle cx="253.8" cy="316.9" r="2.05" fill="#4DB36A" fill-opacity="0.92" stroke="#333" stroke-opacity="0.45" stroke-width="0.4"/>
<circle cx="262.2" cy="316.9" r="2.05" fill="#E8475A" fill-opacity="0.92" stroke="#333" stroke-opacity="0.45" stroke-width="0.4"/>
<circle cx="264.2" cy="318.1" r="2.05" fill="#E8475A" fill-opacity="0.92" stroke="#333" stroke-opacity="0.45" stroke-width="0.4"/>
<circle cx="269.2" cy="315.6" r="2.05" fill="#E8475A" fill-opacity="0.92" stroke="#333" stroke-opacity="0.45" stroke-width="0.4"/>
<circle cx="275.9" cy="316.9" r="2.05" fill="#E8475A" fill-opacity="0.92" stroke="#333" stroke-opacity="0.45" stroke-width="0.4"/>
<circle cx="284.1" cy="313.9" r="2.05" fill="#4DB36A" fill-opacity="0.92" stroke="#333" stroke-opacity="0.45" stroke-width="0.4"/>
<circle cx="291.0" cy="317.4" r="2.05" fill="#4DB36A" fill-opacity="0.92" stroke="#333" stroke-opacity="0.45" stroke-width="0.4"/>
<circle cx="294.0" cy="317.4" r="2.05" fill="#E8475A" fill-opacity="0.92" stroke="#333" stroke-opacity="0.45" stroke-width="0.4"/>
<circle cx="228.5" cy="320.6" r="2.05" fill="#4DB36A" fill-opacity="0.92" stroke="#333" stroke-opacity="0.45" stroke-width="0.4"/>
<circle cx="233.9" cy="323.8" r="2.05" fill="#4DB36A" fill-opacity="0.92" stroke="#333" stroke-opacity="0.45" stroke-width="0.4"/>
<circle cx="225.7" cy="325.6" r="2.05" fill="#3A9BD2" fill-opacity="0.92" stroke="#333" stroke-opacity="0.45" stroke-width="0.4"/>
<circle cx="242.4" cy="323.1" r="2.05" fill="#E8475A" fill-opacity="0.92" stroke="#333" stroke-opacity="0.45" stroke-width="0.4"/>
<circle cx="250.1" cy="325.1" r="2.05" fill="#4DB36A" fill-opacity="0.92" stroke="#333" stroke-opacity="0.45" stroke-width="0.4"/>
<circle cx="258.0" cy="323.1" r="2.05" fill="#E8475A" fill-opacity="0.92" stroke="#333" stroke-opacity="0.45" stroke-width="0.4"/>
<circle cx="259.2" cy="324.3" r="2.05" fill="#E8475A" fill-opacity="0.92" stroke="#333" stroke-opacity="0.45" stroke-width="0.4"/>
<circle cx="268.7" cy="324.3" r="2.05" fill="#3A9BD2" fill-opacity="0.92" stroke="#333" stroke-opacity="0.45" stroke-width="0.4"/>
<circle cx="269.7" cy="325.1" r="2.05" fill="#4DB36A" fill-opacity="0.92" stroke="#333" stroke-opacity="0.45" stroke-width="0.4"/>
<circle cx="274.1" cy="322.3" r="2.05" fill="#4DB36A" fill-opacity="0.92" stroke="#333" stroke-opacity="0.45" stroke-width="0.4"/>
<circle cx="280.3" cy="323.6" r="2.05" fill="#E8475A" fill-opacity="0.92" stroke="#333" stroke-opacity="0.45" stroke-width="0.4"/>
<circle cx="282.3" cy="324.3" r="2.05" fill="#E8475A" fill-opacity="0.92" stroke="#333" stroke-opacity="0.45" stroke-width="0.4"/>
<circle cx="286.5" cy="326.8" r="2.05" fill="#3A9BD2" fill-opacity="0.92" stroke="#333" stroke-opacity="0.45" stroke-width="0.4"/>
<circle cx="289.0" cy="323.6" r="2.05" fill="#E8475A" fill-opacity="0.92" stroke="#333" stroke-opacity="0.45" stroke-width="0.4"/>
<circle cx="246.1" cy="330.0" r="2.05" fill="#3A9BD2" fill-opacity="0.92" stroke="#333" stroke-opacity="0.45" stroke-width="0.4"/>
<circle cx="255.5" cy="328.8" r="2.05" fill="#E8475A" fill-opacity="0.92" stroke="#333" stroke-opacity="0.45" stroke-width="0.4"/>
<circle cx="264.7" cy="327.5" r="2.05" fill="#E8475A" fill-opacity="0.92" stroke="#333" stroke-opacity="0.45" stroke-width="0.4"/>
<circle cx="272.2" cy="328.8" r="2.05" fill="#3A9BD2" fill-opacity="0.92" stroke="#333" stroke-opacity="0.45" stroke-width="0.4"/>
<circle cx="274.1" cy="330.0" r="2.05" fill="#E8475A" fill-opacity="0.92" stroke="#333" stroke-opacity="0.45" stroke-width="0.4"/>
<circle cx="279.1" cy="331.8" r="2.05" fill="#E8475A" fill-opacity="0.92" stroke="#333" stroke-opacity="0.45" stroke-width="0.4"/>
<circle cx="282.1" cy="329.3" r="2.05" fill="#3A9BD2" fill-opacity="0.92" stroke="#333" stroke-opacity="0.45" stroke-width="0.4"/>
<circle cx="284.8" cy="330.0" r="2.05" fill="#3A9BD2" fill-opacity="0.92" stroke="#333" stroke-opacity="0.45" stroke-width="0.4"/>
<circle cx="300.2" cy="330.5" r="2.05" fill="#E8475A" fill-opacity="0.92" stroke="#333" stroke-opacity="0.45" stroke-width="0.4"/>
<circle cx="311.4" cy="326.8" r="2.05" fill="#E8475A" fill-opacity="0.92" stroke="#333" stroke-opacity="0.45" stroke-width="0.4"/>
<circle cx="258.0" cy="338.0" r="2.05" fill="#E8475A" fill-opacity="0.92" stroke="#333" stroke-opacity="0.45" stroke-width="0.4"/>
<circle cx="262.2" cy="339.2" r="2.05" fill="#3A9BD2" fill-opacity="0.92" stroke="#333" stroke-opacity="0.45" stroke-width="0.4"/>
<circle cx="264.2" cy="341.7" r="2.05" fill="#E8475A" fill-opacity="0.92" stroke="#333" stroke-opacity="0.45" stroke-width="0.4"/>
<circle cx="265.4" cy="344.2" r="2.05" fill="#E8475A" fill-opacity="0.92" stroke="#333" stroke-opacity="0.45" stroke-width="0.4"/>
<circle cx="267.9" cy="339.7" r="2.05" fill="#3A9BD2" fill-opacity="0.92" stroke="#333" stroke-opacity="0.45" stroke-width="0.4"/>
<circle cx="269.7" cy="335.5" r="2.05" fill="#E8475A" fill-opacity="0.92" stroke="#333" stroke-opacity="0.45" stroke-width="0.4"/>
<circle cx="272.9" cy="334.2" r="2.05" fill="#3A9BD2" fill-opacity="0.92" stroke="#333" stroke-opacity="0.45" stroke-width="0.4"/>
<circle cx="275.9" cy="344.9" r="2.05" fill="#3A9BD2" fill-opacity="0.92" stroke="#333" stroke-opacity="0.45" stroke-width="0.4"/>
<circle cx="278.6" cy="335.0" r="2.05" fill="#3A9BD2" fill-opacity="0.92" stroke="#333" stroke-opacity="0.45" stroke-width="0.4"/>
<circle cx="281.1" cy="338.5" r="2.05" fill="#E8475A" fill-opacity="0.92" stroke="#333" stroke-opacity="0.45" stroke-width="0.4"/>
<circle cx="287.8" cy="336.7" r="2.05" fill="#E8475A" fill-opacity="0.92" stroke="#333" stroke-opacity="0.45" stroke-width="0.4"/>
<circle cx="289.0" cy="342.9" r="2.05" fill="#3A9BD2" fill-opacity="0.92" stroke="#333" stroke-opacity="0.45" stroke-width="0.4"/>
<circle cx="291.0" cy="333.7" r="2.05" fill="#3A9BD2" fill-opacity="0.92" stroke="#333" stroke-opacity="0.45" stroke-width="0.4"/>
<circle cx="293.0" cy="331.8" r="2.05" fill="#3A9BD2" fill-opacity="0.92" stroke="#333" stroke-opacity="0.45" stroke-width="0.4"/>
<circle cx="298.5" cy="342.9" r="2.05" fill="#E8475A" fill-opacity="0.92" stroke="#333" stroke-opacity="0.45" stroke-width="0.4"/>
<circle cx="184.3" cy="299.5" r="2.05" fill="#E8475A" fill-opacity="0.92" stroke="#333" stroke-opacity="0.45" stroke-width="0.4"/>
<g clip-path="url(#cd)">
<path d="M185.3,274.7 L191.7,276.8 L198.0,278.8 L204.4,280.8 L210.8,282.8 L217.1,284.8 L223.5,286.8 L229.9,288.7 L236.2,290.6 L242.6,292.4 L249.0,294.3 L255.3,296.1 L261.7,297.9 L268.0,299.7 L274.4,301.4 L280.8,303.2 L287.1,304.9 L293.5,306.5 L299.9,308.2 L306.2,309.8 L312.6,311.4 L312.6,326.8 L306.2,324.1 L299.9,321.6 L293.5,319.2 L287.1,316.9 L280.8,314.7 L274.4,312.7 L268.0,310.7 L261.7,308.9 L255.3,307.2 L249.0,305.6 L242.6,304.2 L236.2,302.9 L229.9,301.6 L223.5,300.5 L217.1,299.6 L210.8,298.7 L204.4,298.0 L198.0,297.4 L191.7,296.9 L185.3,296.5 Z" fill="#8c8c8c" fill-opacity="0.62"/>
<line x1="185.3" y1="287.6" x2="312.6" y2="319.4" stroke="#fff" stroke-width="1"/>
</g>
<rect x="185.3" y="238.2" width="127.30" height="112.70" fill="none" stroke="#333" stroke-width="1"/>
<text transform="translate(183.5,241.8) scale(0.88,1)" font-size="6.6" text-anchor="end" fill="#4a4a4a" font-family="Liberation Sans, sans-serif">0.25</text>
<text transform="translate(183.5,277.6) scale(0.88,1)" font-size="6.6" text-anchor="end" fill="#4a4a4a" font-family="Liberation Sans, sans-serif">0.20</text>
<text transform="translate(183.5,313.1) scale(0.88,1)" font-size="6.6" text-anchor="end" fill="#4a4a4a" font-family="Liberation Sans, sans-serif">0.15</text>
<text transform="translate(183.5,348.6) scale(0.88,1)" font-size="6.6" text-anchor="end" fill="#4a4a4a" font-family="Liberation Sans, sans-serif">0.10</text>
<text transform="translate(217.5,358.8) scale(0.88,1)" font-size="6.6" text-anchor="middle" fill="#4a4a4a" font-family="Liberation Sans, sans-serif">0.60</text>
<text transform="translate(262.9,358.8) scale(0.88,1)" font-size="6.6" text-anchor="middle" fill="#4a4a4a" font-family="Liberation Sans, sans-serif">0.62</text>
<text transform="translate(307.9,358.8) scale(0.88,1)" font-size="6.6" text-anchor="middle" fill="#4a4a4a" font-family="Liberation Sans, sans-serif">0.64</text>
<text x="247.9" y="370.7" font-size="8.5" text-anchor="middle" fill="#222" font-family="Liberation Sans, sans-serif">GC content</text>
<text transform="translate(167.8,296) rotate(-90)" font-size="8.55" text-anchor="middle" fill="#222" font-family="Liberation Sans, sans-serif">Copies of ARGs per cell</text>
<circle cx="319.9" cy="329.3" r="3.2" fill="#E8475A" fill-opacity="0.9"/>
<text x="327.3" y="332.1" font-size="7.4" fill="#222" font-family="Liberation Sans, sans-serif">D1</text>
<circle cx="319.9" cy="338.7" r="3.2" fill="#3A9BD2" fill-opacity="0.9"/>
<text x="327.3" y="341.5" font-size="7.4" fill="#222" font-family="Liberation Sans, sans-serif">D3</text>
<circle cx="319.9" cy="347.9" r="3.2" fill="#4DB36A" fill-opacity="0.9"/>
<text x="327.3" y="350.7" font-size="7.4" fill="#222" font-family="Liberation Sans, sans-serif">D6</text>
<rect x="375.5" y="224.6" width="130.00" height="10.40" fill="#DADBDD"/><text x="397.4" y="233.1" font-size="8.8" fill="#222" font-family="Liberation Sans, sans-serif">R² = 0.101, <tspan font-style="italic">P</tspan> = 0.0001</text>
<rect x="375.5" y="236.9" width="130.00" height="114.20" fill="#fff"/>
<clipPath id="cg"><rect x="375.5" y="236.9" width="130.00" height="114.20"/></clipPath>
<circle cx="434.3" cy="241.1" r="2.05" fill="#4DB36A" fill-opacity="0.92" stroke="#333" stroke-opacity="0.45" stroke-width="0.4"/>
<circle cx="411.2" cy="264.0" r="2.05" fill="#3A9BD2" fill-opacity="0.92" stroke="#333" stroke-opacity="0.45" stroke-width="0.4"/>
<circle cx="405.0" cy="271.7" r="2.05" fill="#3A9BD2" fill-opacity="0.92" stroke="#333" stroke-opacity="0.45" stroke-width="0.4"/>
<circle cx="408.3" cy="270.4" r="2.05" fill="#4DB36A" fill-opacity="0.92" stroke="#333" stroke-opacity="0.45" stroke-width="0.4"/>
<circle cx="412.0" cy="270.2" r="2.05" fill="#4DB36A" fill-opacity="0.92" stroke="#333" stroke-opacity="0.45" stroke-width="0.4"/>
<circle cx="409.0" cy="273.4" r="2.05" fill="#3A9BD2" fill-opacity="0.92" stroke="#333" stroke-opacity="0.45" stroke-width="0.4"/>
<circle cx="416.4" cy="276.4" r="2.05" fill="#4DB36A" fill-opacity="0.92" stroke="#333" stroke-opacity="0.45" stroke-width="0.4"/>
<circle cx="419.4" cy="275.9" r="2.05" fill="#3A9BD2" fill-opacity="0.92" stroke="#333" stroke-opacity="0.45" stroke-width="0.4"/>
<circle cx="421.4" cy="279.1" r="2.05" fill="#3A9BD2" fill-opacity="0.92" stroke="#333" stroke-opacity="0.45" stroke-width="0.4"/>
<circle cx="427.4" cy="272.9" r="2.05" fill="#4DB36A" fill-opacity="0.92" stroke="#333" stroke-opacity="0.45" stroke-width="0.4"/>
<circle cx="428.1" cy="278.4" r="2.05" fill="#E8475A" fill-opacity="0.92" stroke="#333" stroke-opacity="0.45" stroke-width="0.4"/>
<circle cx="431.3" cy="279.1" r="2.05" fill="#4DB36A" fill-opacity="0.92" stroke="#333" stroke-opacity="0.45" stroke-width="0.4"/>
<circle cx="434.3" cy="281.6" r="2.05" fill="#3A9BD2" fill-opacity="0.92" stroke="#333" stroke-opacity="0.45" stroke-width="0.4"/>
<circle cx="424.4" cy="283.8" r="2.05" fill="#3A9BD2" fill-opacity="0.92" stroke="#333" stroke-opacity="0.45" stroke-width="0.4"/>
<circle cx="407.5" cy="282.1" r="2.05" fill="#E8475A" fill-opacity="0.92" stroke="#333" stroke-opacity="0.45" stroke-width="0.4"/>
<circle cx="409.5" cy="285.8" r="2.05" fill="#4DB36A" fill-opacity="0.92" stroke="#333" stroke-opacity="0.45" stroke-width="0.4"/>
<circle cx="407.0" cy="290.8" r="2.05" fill="#4DB36A" fill-opacity="0.92" stroke="#333" stroke-opacity="0.45" stroke-width="0.4"/>
<circle cx="412.5" cy="289.5" r="2.05" fill="#3A9BD2" fill-opacity="0.92" stroke="#333" stroke-opacity="0.45" stroke-width="0.4"/>
<circle cx="414.5" cy="282.6" r="2.05" fill="#4DB36A" fill-opacity="0.92" stroke="#333" stroke-opacity="0.45" stroke-width="0.4"/>
<circle cx="417.4" cy="286.6" r="2.05" fill="#4DB36A" fill-opacity="0.92" stroke="#333" stroke-opacity="0.45" stroke-width="0.4"/>
<circle cx="418.9" cy="284.6" r="2.05" fill="#4DB36A" fill-opacity="0.92" stroke="#333" stroke-opacity="0.45" stroke-width="0.4"/>
<circle cx="423.1" cy="285.8" r="2.05" fill="#4DB36A" fill-opacity="0.92" stroke="#333" stroke-opacity="0.45" stroke-width="0.4"/>
<circle cx="421.9" cy="290.8" r="2.05" fill="#E8475A" fill-opacity="0.92" stroke="#333" stroke-opacity="0.45" stroke-width="0.4"/>
<circle cx="425.6" cy="290.8" r="2.05" fill="#E8475A" fill-opacity="0.92" stroke="#333" stroke-opacity="0.45" stroke-width="0.4"/>
<circle cx="415.7" cy="291.5" r="2.05" fill="#E8475A" fill-opacity="0.92" stroke="#333" stroke-opacity="0.45" stroke-width="0.4"/>
<circle cx="411.5" cy="290.8" r="2.05" fill="#3A9BD2" fill-opacity="0.92" stroke="#333" stroke-opacity="0.45" stroke-width="0.4"/>
<circle cx="405.0" cy="294.5" r="2.05" fill="#3A9BD2" fill-opacity="0.92" stroke="#333" stroke-opacity="0.45" stroke-width="0.4"/>
<circle cx="413.5" cy="297.0" r="2.05" fill="#E8475A" fill-opacity="0.92" stroke="#333" stroke-opacity="0.45" stroke-width="0.4"/>
<circle cx="416.9" cy="297.0" r="2.05" fill="#4DB36A" fill-opacity="0.92" stroke="#333" stroke-opacity="0.45" stroke-width="0.4"/>
<circle cx="419.4" cy="294.5" r="2.05" fill="#E8475A" fill-opacity="0.92" stroke="#333" stroke-opacity="0.45" stroke-width="0.4"/>
<circle cx="424.4" cy="295.2" r="2.05" fill="#4DB36A" fill-opacity="0.92" stroke="#333" stroke-opacity="0.45" stroke-width="0.4"/>
<circle cx="433.1" cy="298.2" r="2.05" fill="#3A9BD2" fill-opacity="0.92" stroke="#333" stroke-opacity="0.45" stroke-width="0.4"/>
<circle cx="438.8" cy="295.7" r="2.05" fill="#4DB36A" fill-opacity="0.92" stroke="#333" stroke-opacity="0.45" stroke-width="0.4"/>
<circle cx="448.5" cy="292.5" r="2.05" fill="#E8475A" fill-opacity="0.92" stroke="#333" stroke-opacity="0.45" stroke-width="0.4"/>
<circle cx="406.5" cy="299.5" r="2.05" fill="#3A9BD2" fill-opacity="0.92" stroke="#333" stroke-opacity="0.45" stroke-width="0.4"/>
<circle cx="410.0" cy="301.9" r="2.05" fill="#3A9BD2" fill-opacity="0.92" stroke="#333" stroke-opacity="0.45" stroke-width="0.4"/>
<circle cx="414.5" cy="301.9" r="2.05" fill="#4DB36A" fill-opacity="0.92" stroke="#333" stroke-opacity="0.45" stroke-width="0.4"/>
<circle cx="417.7" cy="304.4" r="2.05" fill="#E8475A" fill-opacity="0.92" stroke="#333" stroke-opacity="0.45" stroke-width="0.4"/>
<circle cx="420.7" cy="303.9" r="2.05" fill="#4DB36A" fill-opacity="0.92" stroke="#333" stroke-opacity="0.45" stroke-width="0.4"/>
<circle cx="428.1" cy="304.9" r="2.05" fill="#4DB36A" fill-opacity="0.92" stroke="#333" stroke-opacity="0.45" stroke-width="0.4"/>
<circle cx="431.8" cy="306.9" r="2.05" fill="#3A9BD2" fill-opacity="0.92" stroke="#333" stroke-opacity="0.45" stroke-width="0.4"/>
<circle cx="435.6" cy="304.4" r="2.05" fill="#3A9BD2" fill-opacity="0.92" stroke="#333" stroke-opacity="0.45" stroke-width="0.4"/>
<circle cx="444.2" cy="306.2" r="2.05" fill="#4DB36A" fill-opacity="0.92" stroke="#333" stroke-opacity="0.45" stroke-width="0.4"/>
<circle cx="505.1" cy="298.2" r="2.05" fill="#E8475A" fill-opacity="0.92" stroke="#333" stroke-opacity="0.45" stroke-width="0.4"/>
<circle cx="405.8" cy="312.4" r="2.05" fill="#E8475A" fill-opacity="0.92" stroke="#333" stroke-opacity="0.45" stroke-width="0.4"/>
<circle cx="409.0" cy="306.9" r="2.05" fill="#3A9BD2" fill-opacity="0.92" stroke="#333" stroke-opacity="0.45" stroke-width="0.4"/>
<circle cx="413.2" cy="308.1" r="2.05" fill="#4DB36A" fill-opacity="0.92" stroke="#333" stroke-opacity="0.45" stroke-width="0.4"/>
<circle cx="416.9" cy="309.4" r="2.05" fill="#4DB36A" fill-opacity="0.92" stroke="#333" stroke-opacity="0.45" stroke-width="0.4"/>
<circle cx="419.4" cy="310.6" r="2.05" fill="#3A9BD2" fill-opacity="0.92" stroke="#333" stroke-opacity="0.45" stroke-width="0.4"/>
<circle cx="426.9" cy="312.4" r="2.05" fill="#4DB36A" fill-opacity="0.92" stroke="#333" stroke-opacity="0.45" stroke-width="0.4"/>
<circle cx="435.6" cy="309.9" r="2.05" fill="#3A9BD2" fill-opacity="0.92" stroke="#333" stroke-opacity="0.45" stroke-width="0.4"/>
<circle cx="443.7" cy="309.9" r="2.05" fill="#4DB36A" fill-opacity="0.92" stroke="#333" stroke-opacity="0.45" stroke-width="0.4"/>
<circle cx="455.4" cy="313.1" r="2.05" fill="#3A9BD2" fill-opacity="0.92" stroke="#333" stroke-opacity="0.45" stroke-width="0.4"/>
<circle cx="387.2" cy="316.8" r="2.05" fill="#E8475A" fill-opacity="0.92" stroke="#333" stroke-opacity="0.45" stroke-width="0.4"/>
<circle cx="380.5" cy="323.5" r="2.05" fill="#E8475A" fill-opacity="0.92" stroke="#333" stroke-opacity="0.45" stroke-width="0.4"/>
<circle cx="376.0" cy="330.0" r="2.05" fill="#E8475A" fill-opacity="0.92" stroke="#333" stroke-opacity="0.45" stroke-width="0.4"/>
<circle cx="384.7" cy="326.0" r="2.05" fill="#E8475A" fill-opacity="0.92" stroke="#333" stroke-opacity="0.45" stroke-width="0.4"/>
<circle cx="392.1" cy="329.2" r="2.05" fill="#3A9BD2" fill-opacity="0.92" stroke="#333" stroke-opacity="0.45" stroke-width="0.4"/>
<circle cx="399.6" cy="323.0" r="2.05" fill="#E8475A" fill-opacity="0.92" stroke="#333" stroke-opacity="0.45" stroke-width="0.4"/>
<circle cx="398.3" cy="325.5" r="2.05" fill="#E8475A" fill-opacity="0.92" stroke="#333" stroke-opacity="0.45" stroke-width="0.4"/>
<circle cx="404.5" cy="326.8" r="2.05" fill="#3A9BD2" fill-opacity="0.92" stroke="#333" stroke-opacity="0.45" stroke-width="0.4"/>
<circle cx="406.5" cy="323.0" r="2.05" fill="#E8475A" fill-opacity="0.92" stroke="#333" stroke-opacity="0.45" stroke-width="0.4"/>
<circle cx="412.0" cy="314.8" r="2.05" fill="#E8475A" fill-opacity="0.92" stroke="#333" stroke-opacity="0.45" stroke-width="0.4"/>
<circle cx="413.2" cy="318.1" r="2.05" fill="#E8475A" fill-opacity="0.92" stroke="#333" stroke-opacity="0.45" stroke-width="0.4"/>
<circle cx="414.5" cy="315.6" r="2.05" fill="#4DB36A" fill-opacity="0.92" stroke="#333" stroke-opacity="0.45" stroke-width="0.4"/>
<circle cx="416.9" cy="320.6" r="2.05" fill="#4DB36A" fill-opacity="0.92" stroke="#333" stroke-opacity="0.45" stroke-width="0.4"/>
<circle cx="414.0" cy="321.3" r="2.05" fill="#4DB36A" fill-opacity="0.92" stroke="#333" stroke-opacity="0.45" stroke-width="0.4"/>
<circle cx="410.7" cy="323.8" r="2.05" fill="#4DB36A" fill-opacity="0.92" stroke="#333" stroke-opacity="0.45" stroke-width="0.4"/>
<circle cx="405.8" cy="328.7" r="2.05" fill="#3A9BD2" fill-opacity="0.92" stroke="#333" stroke-opacity="0.45" stroke-width="0.4"/>
<circle cx="425.6" cy="315.6" r="2.05" fill="#E8475A" fill-opacity="0.92" stroke="#333" stroke-opacity="0.45" stroke-width="0.4"/>
<circle cx="429.4" cy="324.3" r="2.05" fill="#4DB36A" fill-opacity="0.92" stroke="#333" stroke-opacity="0.45" stroke-width="0.4"/>
<circle cx="432.3" cy="323.8" r="2.05" fill="#4DB36A" fill-opacity="0.92" stroke="#333" stroke-opacity="0.45" stroke-width="0.4"/>
<circle cx="436.3" cy="322.5" r="2.05" fill="#E8475A" fill-opacity="0.92" stroke="#333" stroke-opacity="0.45" stroke-width="0.4"/>
<circle cx="440.5" cy="320.1" r="2.05" fill="#4DB36A" fill-opacity="0.92" stroke="#333" stroke-opacity="0.45" stroke-width="0.4"/>
<circle cx="428.1" cy="329.2" r="2.05" fill="#3A9BD2" fill-opacity="0.92" stroke="#333" stroke-opacity="0.45" stroke-width="0.4"/>
<circle cx="496.9" cy="325.0" r="2.05" fill="#3A9BD2" fill-opacity="0.92" stroke="#333" stroke-opacity="0.45" stroke-width="0.4"/>
<circle cx="384.2" cy="333.2" r="2.05" fill="#E8475A" fill-opacity="0.92" stroke="#333" stroke-opacity="0.45" stroke-width="0.4"/>
<circle cx="387.2" cy="331.7" r="2.05" fill="#3A9BD2" fill-opacity="0.92" stroke="#333" stroke-opacity="0.45" stroke-width="0.4"/>
<circle cx="393.4" cy="333.7" r="2.05" fill="#E8475A" fill-opacity="0.92" stroke="#333" stroke-opacity="0.45" stroke-width="0.4"/>
<circle cx="395.1" cy="336.7" r="2.05" fill="#E8475A" fill-opacity="0.92" stroke="#333" stroke-opacity="0.45" stroke-width="0.4"/>
<circle cx="397.6" cy="333.0" r="2.05" fill="#3A9BD2" fill-opacity="0.92" stroke="#333" stroke-opacity="0.45" stroke-width="0.4"/>
<circle cx="399.1" cy="334.2" r="2.05" fill="#3A9BD2" fill-opacity="0.92" stroke="#333" stroke-opacity="0.45" stroke-width="0.4"/>
<circle cx="389.6" cy="337.9" r="2.05" fill="#3A9BD2" fill-opacity="0.92" stroke="#333" stroke-opacity="0.45" stroke-width="0.4"/>
<circle cx="392.1" cy="339.7" r="2.05" fill="#E8475A" fill-opacity="0.92" stroke="#333" stroke-opacity="0.45" stroke-width="0.4"/>
<circle cx="397.1" cy="341.7" r="2.05" fill="#E8475A" fill-opacity="0.92" stroke="#333" stroke-opacity="0.45" stroke-width="0.4"/>
<circle cx="401.6" cy="341.7" r="2.05" fill="#E8475A" fill-opacity="0.92" stroke="#333" stroke-opacity="0.45" stroke-width="0.4"/>
<circle cx="405.8" cy="337.9" r="2.05" fill="#E8475A" fill-opacity="0.92" stroke="#333" stroke-opacity="0.45" stroke-width="0.4"/>
<circle cx="407.0" cy="336.2" r="2.05" fill="#3A9BD2" fill-opacity="0.92" stroke="#333" stroke-opacity="0.45" stroke-width="0.4"/>
<circle cx="385.9" cy="342.9" r="2.05" fill="#E8475A" fill-opacity="0.92" stroke="#333" stroke-opacity="0.45" stroke-width="0.4"/>
<circle cx="390.9" cy="342.2" r="2.05" fill="#3A9BD2" fill-opacity="0.92" stroke="#333" stroke-opacity="0.45" stroke-width="0.4"/>
<circle cx="404.0" cy="344.9" r="2.05" fill="#3A9BD2" fill-opacity="0.92" stroke="#333" stroke-opacity="0.45" stroke-width="0.4"/>
<circle cx="410.7" cy="341.2" r="2.05" fill="#3A9BD2" fill-opacity="0.92" stroke="#333" stroke-opacity="0.45" stroke-width="0.4"/>
<circle cx="412.7" cy="345.9" r="2.05" fill="#E8475A" fill-opacity="0.92" stroke="#333" stroke-opacity="0.45" stroke-width="0.4"/>
<circle cx="429.8" cy="341.7" r="2.05" fill="#E8475A" fill-opacity="0.92" stroke="#333" stroke-opacity="0.45" stroke-width="0.4"/>
<circle cx="443.5" cy="339.7" r="2.05" fill="#3A9BD2" fill-opacity="0.92" stroke="#333" stroke-opacity="0.45" stroke-width="0.4"/>
<circle cx="375.2" cy="330.0" r="2.05" fill="#E8475A" fill-opacity="0.92" stroke="#333" stroke-opacity="0.45" stroke-width="0.4"/>
<circle cx="414.5" cy="287.1" r="2.05" fill="#3A9BD2" fill-opacity="0.92" stroke="#333" stroke-opacity="0.45" stroke-width="0.4"/>
<circle cx="420.7" cy="289.0" r="2.05" fill="#3A9BD2" fill-opacity="0.92" stroke="#333" stroke-opacity="0.45" stroke-width="0.4"/>
<circle cx="410.7" cy="297.0" r="2.05" fill="#E8475A" fill-opacity="0.92" stroke="#333" stroke-opacity="0.45" stroke-width="0.4"/>
<circle cx="415.7" cy="299.5" r="2.05" fill="#4DB36A" fill-opacity="0.92" stroke="#333" stroke-opacity="0.45" stroke-width="0.4"/>
<g clip-path="url(#cg)">
<path d="M375.5,313.9 L382.0,313.4 L388.5,312.6 L395.0,311.6 L401.5,310.4 L408.0,308.9 L414.5,307.1 L421.0,305.2 L427.5,302.9 L434.0,300.5 L440.5,297.8 L447.0,294.8 L453.5,291.6 L460.0,288.2 L466.5,284.5 L473.0,280.6 L479.5,276.4 L486.0,272.0 L492.5,267.3 L499.0,262.4 L505.5,257.3 L505.5,290.8 L499.0,292.4 L492.5,294.0 L486.0,295.6 L479.5,297.3 L473.0,299.0 L466.5,300.8 L460.0,302.6 L453.5,304.4 L447.0,306.3 L440.5,308.2 L434.0,310.1 L427.5,312.1 L421.0,314.1 L414.5,316.2 L408.0,318.2 L401.5,320.4 L395.0,322.5 L388.5,324.7 L382.0,326.9 L375.5,329.2 Z" fill="#8c8c8c" fill-opacity="0.62"/>
<line x1="375.5" y1="321.3" x2="505.5" y2="274.1" stroke="#fff" stroke-width="1"/>
</g>
<rect x="375.5" y="236.9" width="130.00" height="114.20" fill="none" stroke="#333" stroke-width="1"/>
<text transform="translate(373.5,240.3) scale(0.88,1)" font-size="6.6" text-anchor="end" fill="#4a4a4a" font-family="Liberation Sans, sans-serif">0.25</text>
<text transform="translate(373.5,275.8) scale(0.88,1)" font-size="6.6" text-anchor="end" fill="#4a4a4a" font-family="Liberation Sans, sans-serif">0.20</text>
<text transform="translate(373.5,312.5) scale(0.88,1)" font-size="6.6" text-anchor="end" fill="#4a4a4a" font-family="Liberation Sans, sans-serif">0.15</text>
<text transform="translate(373.5,349.0) scale(0.88,1)" font-size="6.6" text-anchor="end" fill="#4a4a4a" font-family="Liberation Sans, sans-serif">0.10</text>
<text transform="translate(386.1,358.8) scale(0.88,1)" font-size="6.6" text-anchor="middle" fill="#4a4a4a" font-family="Liberation Sans, sans-serif">4.88</text>
<text transform="translate(418.8,358.8) scale(0.88,1)" font-size="6.6" text-anchor="middle" fill="#4a4a4a" font-family="Liberation Sans, sans-serif">4.92</text>
<text transform="translate(451.7,358.8) scale(0.88,1)" font-size="6.6" text-anchor="middle" fill="#4a4a4a" font-family="Liberation Sans, sans-serif">4.96</text>
<text transform="translate(485.2,358.8) scale(0.88,1)" font-size="6.6" text-anchor="middle" fill="#4a4a4a" font-family="Liberation Sans, sans-serif">5.00</text>
<text x="436.5" y="370.7" font-size="8.45" text-anchor="middle" fill="#222" font-family="Liberation Sans, sans-serif">Shannon index of KOs</text>
<text transform="translate(353.6,293.4) rotate(-90)" font-size="8.5" text-anchor="middle" fill="#222" font-family="Liberation Sans, sans-serif">Copies of ARGs per cell</text>
<rect x="529.5" y="224.6" width="130.00" height="10.40" fill="#DADBDD"/><text x="550.3" y="233.1" font-size="8.8" fill="#222" font-family="Liberation Sans, sans-serif">R² = 0.490, <tspan font-style="italic">P</tspan> &lt; 0.0001</text>
<rect x="529.5" y="236.8" width="130.00" height="114.30" fill="#fff"/>
<clipPath id="ch"><rect x="529.5" y="236.8" width="130.00" height="114.30"/></clipPath>
<circle cx="624.5" cy="241.3" r="2.05" fill="#4DB36A" fill-opacity="0.92" stroke="#333" stroke-opacity="0.45" stroke-width="0.4"/>
<circle cx="618.8" cy="262.6" r="2.05" fill="#3A9BD2" fill-opacity="0.92" stroke="#333" stroke-opacity="0.45" stroke-width="0.4"/>
<circle cx="623.2" cy="267.8" r="2.05" fill="#4DB36A" fill-opacity="0.92" stroke="#333" stroke-opacity="0.45" stroke-width="0.4"/>
<circle cx="612.7" cy="268.4" r="2.05" fill="#3A9BD2" fill-opacity="0.92" stroke="#333" stroke-opacity="0.45" stroke-width="0.4"/>
<circle cx="614.8" cy="271.0" r="2.05" fill="#3A9BD2" fill-opacity="0.92" stroke="#333" stroke-opacity="0.45" stroke-width="0.4"/>
<circle cx="619.3" cy="273.6" r="2.05" fill="#4DB36A" fill-opacity="0.92" stroke="#333" stroke-opacity="0.45" stroke-width="0.4"/>
<circle cx="609.3" cy="275.7" r="2.05" fill="#E8475A" fill-opacity="0.92" stroke="#333" stroke-opacity="0.45" stroke-width="0.4"/>
<circle cx="611.4" cy="278.3" r="2.05" fill="#E8475A" fill-opacity="0.92" stroke="#333" stroke-opacity="0.45" stroke-width="0.4"/>
<circle cx="612.2" cy="279.7" r="2.05" fill="#4DB36A" fill-opacity="0.92" stroke="#333" stroke-opacity="0.45" stroke-width="0.4"/>
<circle cx="615.4" cy="277.5" r="2.05" fill="#3A9BD2" fill-opacity="0.92" stroke="#333" stroke-opacity="0.45" stroke-width="0.4"/>
<circle cx="635.8" cy="267.8" r="2.05" fill="#4DB36A" fill-opacity="0.92" stroke="#333" stroke-opacity="0.45" stroke-width="0.4"/>
<circle cx="637.7" cy="269.7" r="2.05" fill="#3A9BD2" fill-opacity="0.92" stroke="#333" stroke-opacity="0.45" stroke-width="0.4"/>
<circle cx="641.6" cy="276.2" r="2.05" fill="#E8475A" fill-opacity="0.92" stroke="#333" stroke-opacity="0.45" stroke-width="0.4"/>
<circle cx="645.0" cy="273.1" r="2.05" fill="#3A9BD2" fill-opacity="0.92" stroke="#333" stroke-opacity="0.45" stroke-width="0.4"/>
<circle cx="649.0" cy="278.9" r="2.05" fill="#3A9BD2" fill-opacity="0.92" stroke="#333" stroke-opacity="0.45" stroke-width="0.4"/>
<circle cx="588.6" cy="280.2" r="2.05" fill="#E8475A" fill-opacity="0.92" stroke="#333" stroke-opacity="0.45" stroke-width="0.4"/>
<circle cx="625.3" cy="282.3" r="2.05" fill="#4DB36A" fill-opacity="0.92" stroke="#333" stroke-opacity="0.45" stroke-width="0.4"/>
<circle cx="628.5" cy="284.9" r="2.05" fill="#3A9BD2" fill-opacity="0.92" stroke="#333" stroke-opacity="0.45" stroke-width="0.4"/>
<circle cx="631.1" cy="286.0" r="2.05" fill="#E8475A" fill-opacity="0.92" stroke="#333" stroke-opacity="0.45" stroke-width="0.4"/>
<circle cx="612.7" cy="285.4" r="2.05" fill="#3A9BD2" fill-opacity="0.92" stroke="#333" stroke-opacity="0.45" stroke-width="0.4"/>
<circle cx="616.1" cy="286.7" r="2.05" fill="#E8475A" fill-opacity="0.92" stroke="#333" stroke-opacity="0.45" stroke-width="0.4"/>
<circle cx="620.6" cy="289.4" r="2.05" fill="#4DB36A" fill-opacity="0.92" stroke="#333" stroke-opacity="0.45" stroke-width="0.4"/>
<circle cx="624.5" cy="288.1" r="2.05" fill="#4DB36A" fill-opacity="0.92" stroke="#333" stroke-opacity="0.45" stroke-width="0.4"/>
<circle cx="630.3" cy="288.1" r="2.05" fill="#3A9BD2" fill-opacity="0.92" stroke="#333" stroke-opacity="0.45" stroke-width="0.4"/>
<circle cx="633.0" cy="284.1" r="2.05" fill="#3A9BD2" fill-opacity="0.92" stroke="#333" stroke-opacity="0.45" stroke-width="0.4"/>
<circle cx="637.2" cy="282.3" r="2.05" fill="#4DB36A" fill-opacity="0.92" stroke="#333" stroke-opacity="0.45" stroke-width="0.4"/>
<circle cx="640.3" cy="281.5" r="2.05" fill="#4DB36A" fill-opacity="0.92" stroke="#333" stroke-opacity="0.45" stroke-width="0.4"/>
<circle cx="642.9" cy="284.1" r="2.05" fill="#3A9BD2" fill-opacity="0.92" stroke="#333" stroke-opacity="0.45" stroke-width="0.4"/>
<circle cx="604.1" cy="290.2" r="2.05" fill="#4DB36A" fill-opacity="0.92" stroke="#333" stroke-opacity="0.45" stroke-width="0.4"/>
<circle cx="608.0" cy="294.6" r="2.05" fill="#E8475A" fill-opacity="0.92" stroke="#333" stroke-opacity="0.45" stroke-width="0.4"/>
<circle cx="612.7" cy="292.8" r="2.05" fill="#4DB36A" fill-opacity="0.92" stroke="#333" stroke-opacity="0.45" stroke-width="0.4"/>
<circle cx="618.5" cy="292.8" r="2.05" fill="#3A9BD2" fill-opacity="0.92" stroke="#333" stroke-opacity="0.45" stroke-width="0.4"/>
<circle cx="622.4" cy="292.0" r="2.05" fill="#3A9BD2" fill-opacity="0.92" stroke="#333" stroke-opacity="0.45" stroke-width="0.4"/>
<circle cx="625.9" cy="295.4" r="2.05" fill="#4DB36A" fill-opacity="0.92" stroke="#333" stroke-opacity="0.45" stroke-width="0.4"/>
<circle cx="628.0" cy="293.3" r="2.05" fill="#E8475A" fill-opacity="0.92" stroke="#333" stroke-opacity="0.45" stroke-width="0.4"/>
<circle cx="633.7" cy="292.0" r="2.05" fill="#4DB36A" fill-opacity="0.92" stroke="#333" stroke-opacity="0.45" stroke-width="0.4"/>
<circle cx="637.7" cy="293.8" r="2.05" fill="#E8475A" fill-opacity="0.92" stroke="#333" stroke-opacity="0.45" stroke-width="0.4"/>
<circle cx="641.6" cy="291.5" r="2.05" fill="#4DB36A" fill-opacity="0.92" stroke="#333" stroke-opacity="0.45" stroke-width="0.4"/>
<circle cx="659.2" cy="293.8" r="2.05" fill="#3A9BD2" fill-opacity="0.92" stroke="#333" stroke-opacity="0.45" stroke-width="0.4"/>
<circle cx="595.1" cy="292.8" r="2.05" fill="#E8475A" fill-opacity="0.92" stroke="#333" stroke-opacity="0.45" stroke-width="0.4"/>
<circle cx="603.5" cy="296.5" r="2.05" fill="#3A9BD2" fill-opacity="0.92" stroke="#333" stroke-opacity="0.45" stroke-width="0.4"/>
<circle cx="606.2" cy="298.6" r="2.05" fill="#4DB36A" fill-opacity="0.92" stroke="#333" stroke-opacity="0.45" stroke-width="0.4"/>
<circle cx="607.5" cy="301.2" r="2.05" fill="#4DB36A" fill-opacity="0.92" stroke="#333" stroke-opacity="0.45" stroke-width="0.4"/>
<circle cx="608.8" cy="296.5" r="2.05" fill="#3A9BD2" fill-opacity="0.92" stroke="#333" stroke-opacity="0.45" stroke-width="0.4"/>
<circle cx="613.3" cy="298.0" r="2.05" fill="#E8475A" fill-opacity="0.92" stroke="#333" stroke-opacity="0.45" stroke-width="0.4"/>
<circle cx="615.4" cy="299.9" r="2.05" fill="#3A9BD2" fill-opacity="0.92" stroke="#333" stroke-opacity="0.45" stroke-width="0.4"/>
<circle cx="624.5" cy="298.6" r="2.05" fill="#3A9BD2" fill-opacity="0.92" stroke="#333" stroke-opacity="0.45" stroke-width="0.4"/>
<circle cx="627.2" cy="298.0" r="2.05" fill="#4DB36A" fill-opacity="0.92" stroke="#333" stroke-opacity="0.45" stroke-width="0.4"/>
<circle cx="631.1" cy="301.2" r="2.05" fill="#4DB36A" fill-opacity="0.92" stroke="#333" stroke-opacity="0.45" stroke-width="0.4"/>
<circle cx="636.4" cy="299.9" r="2.05" fill="#3A9BD2" fill-opacity="0.92" stroke="#333" stroke-opacity="0.45" stroke-width="0.4"/>
<circle cx="641.1" cy="299.9" r="2.05" fill="#4DB36A" fill-opacity="0.92" stroke="#333" stroke-opacity="0.45" stroke-width="0.4"/>
<circle cx="582.5" cy="301.2" r="2.05" fill="#4DB36A" fill-opacity="0.92" stroke="#333" stroke-opacity="0.45" stroke-width="0.4"/>
<circle cx="583.3" cy="307.2" r="2.05" fill="#E8475A" fill-opacity="0.92" stroke="#333" stroke-opacity="0.45" stroke-width="0.4"/>
<circle cx="587.0" cy="305.1" r="2.05" fill="#E8475A" fill-opacity="0.92" stroke="#333" stroke-opacity="0.45" stroke-width="0.4"/>
<circle cx="598.3" cy="299.4" r="2.05" fill="#4DB36A" fill-opacity="0.92" stroke="#333" stroke-opacity="0.45" stroke-width="0.4"/>
<circle cx="600.4" cy="303.3" r="2.05" fill="#E8475A" fill-opacity="0.92" stroke="#333" stroke-opacity="0.45" stroke-width="0.4"/>
<circle cx="611.4" cy="302.5" r="2.05" fill="#4DB36A" fill-opacity="0.92" stroke="#333" stroke-opacity="0.45" stroke-width="0.4"/>
<circle cx="613.5" cy="304.3" r="2.05" fill="#4DB36A" fill-opacity="0.92" stroke="#333" stroke-opacity="0.45" stroke-width="0.4"/>
<circle cx="617.2" cy="303.3" r="2.05" fill="#4DB36A" fill-opacity="0.92" stroke="#333" stroke-opacity="0.45" stroke-width="0.4"/>
<circle cx="621.9" cy="301.2" r="2.05" fill="#3A9BD2" fill-opacity="0.92" stroke="#333" stroke-opacity="0.45" stroke-width="0.4"/>
<circle cx="628.5" cy="303.8" r="2.05" fill="#E8475A" fill-opacity="0.92" stroke="#333" stroke-opacity="0.45" stroke-width="0.4"/>
<circle cx="631.1" cy="306.5" r="2.05" fill="#3A9BD2" fill-opacity="0.92" stroke="#333" stroke-opacity="0.45" stroke-width="0.4"/>
<circle cx="635.6" cy="303.8" r="2.05" fill="#4DB36A" fill-opacity="0.92" stroke="#333" stroke-opacity="0.45" stroke-width="0.4"/>
<circle cx="639.8" cy="305.1" r="2.05" fill="#4DB36A" fill-opacity="0.92" stroke="#333" stroke-opacity="0.45" stroke-width="0.4"/>
<circle cx="642.9" cy="304.3" r="2.05" fill="#4DB36A" fill-opacity="0.92" stroke="#333" stroke-opacity="0.45" stroke-width="0.4"/>
<circle cx="643.7" cy="310.4" r="2.05" fill="#4DB36A" fill-opacity="0.92" stroke="#333" stroke-opacity="0.45" stroke-width="0.4"/>
<circle cx="559.7" cy="310.9" r="2.05" fill="#E8475A" fill-opacity="0.92" stroke="#333" stroke-opacity="0.45" stroke-width="0.4"/>
<circle cx="570.7" cy="316.4" r="2.05" fill="#E8475A" fill-opacity="0.92" stroke="#333" stroke-opacity="0.45" stroke-width="0.4"/>
<circle cx="574.4" cy="318.8" r="2.05" fill="#3A9BD2" fill-opacity="0.92" stroke="#333" stroke-opacity="0.45" stroke-width="0.4"/>
<circle cx="577.8" cy="319.6" r="2.05" fill="#3A9BD2" fill-opacity="0.92" stroke="#333" stroke-opacity="0.45" stroke-width="0.4"/>
<circle cx="579.4" cy="317.7" r="2.05" fill="#3A9BD2" fill-opacity="0.92" stroke="#333" stroke-opacity="0.45" stroke-width="0.4"/>
<circle cx="587.2" cy="316.4" r="2.05" fill="#E8475A" fill-opacity="0.92" stroke="#333" stroke-opacity="0.45" stroke-width="0.4"/>
<circle cx="594.3" cy="309.1" r="2.05" fill="#E8475A" fill-opacity="0.92" stroke="#333" stroke-opacity="0.45" stroke-width="0.4"/>
<circle cx="596.4" cy="310.4" r="2.05" fill="#E8475A" fill-opacity="0.92" stroke="#333" stroke-opacity="0.45" stroke-width="0.4"/>
<circle cx="597.0" cy="314.3" r="2.05" fill="#4DB36A" fill-opacity="0.92" stroke="#333" stroke-opacity="0.45" stroke-width="0.4"/>
<circle cx="599.6" cy="315.6" r="2.05" fill="#4DB36A" fill-opacity="0.92" stroke="#333" stroke-opacity="0.45" stroke-width="0.4"/>
<circle cx="602.7" cy="317.5" r="2.05" fill="#4DB36A" fill-opacity="0.92" stroke="#333" stroke-opacity="0.45" stroke-width="0.4"/>
<circle cx="606.2" cy="316.4" r="2.05" fill="#E8475A" fill-opacity="0.92" stroke="#333" stroke-opacity="0.45" stroke-width="0.4"/>
<circle cx="610.1" cy="317.5" r="2.05" fill="#3A9BD2" fill-opacity="0.92" stroke="#333" stroke-opacity="0.45" stroke-width="0.4"/>
<circle cx="611.7" cy="312.2" r="2.05" fill="#3A9BD2" fill-opacity="0.92" stroke="#333" stroke-opacity="0.45" stroke-width="0.4"/>
<circle cx="615.9" cy="310.4" r="2.05" fill="#E8475A" fill-opacity="0.92" stroke="#333" stroke-opacity="0.45" stroke-width="0.4"/>
<circle cx="619.3" cy="316.4" r="2.05" fill="#4DB36A" fill-opacity="0.92" stroke="#333" stroke-opacity="0.45" stroke-width="0.4"/>
<circle cx="621.1" cy="309.6" r="2.05" fill="#E8475A" fill-opacity="0.92" stroke="#333" stroke-opacity="0.45" stroke-width="0.4"/>
<circle cx="624.5" cy="309.1" r="2.05" fill="#E8475A" fill-opacity="0.92" stroke="#333" stroke-opacity="0.45" stroke-width="0.4"/>
<circle cx="627.7" cy="309.6" r="2.05" fill="#E8475A" fill-opacity="0.92" stroke="#333" stroke-opacity="0.45" stroke-width="0.4"/>
<circle cx="629.8" cy="318.3" r="2.05" fill="#3A9BD2" fill-opacity="0.92" stroke="#333" stroke-opacity="0.45" stroke-width="0.4"/>
<circle cx="633.2" cy="316.2" r="2.05" fill="#E8475A" fill-opacity="0.92" stroke="#333" stroke-opacity="0.45" stroke-width="0.4"/>
<circle cx="635.6" cy="313.0" r="2.05" fill="#E8475A" fill-opacity="0.92" stroke="#333" stroke-opacity="0.45" stroke-width="0.4"/>
<circle cx="530.0" cy="322.7" r="2.05" fill="#E8475A" fill-opacity="0.92" stroke="#333" stroke-opacity="0.45" stroke-width="0.4"/>
<circle cx="535.2" cy="319.6" r="2.05" fill="#E8475A" fill-opacity="0.92" stroke="#333" stroke-opacity="0.45" stroke-width="0.4"/>
<circle cx="540.5" cy="325.4" r="2.05" fill="#E8475A" fill-opacity="0.92" stroke="#333" stroke-opacity="0.45" stroke-width="0.4"/>
<circle cx="551.0" cy="325.4" r="2.05" fill="#3A9BD2" fill-opacity="0.92" stroke="#333" stroke-opacity="0.45" stroke-width="0.4"/>
<circle cx="557.5" cy="322.2" r="2.05" fill="#3A9BD2" fill-opacity="0.92" stroke="#333" stroke-opacity="0.45" stroke-width="0.4"/>
<circle cx="561.5" cy="325.6" r="2.05" fill="#3A9BD2" fill-opacity="0.92" stroke="#333" stroke-opacity="0.45" stroke-width="0.4"/>
<circle cx="563.3" cy="328.0" r="2.05" fill="#E8475A" fill-opacity="0.92" stroke="#333" stroke-opacity="0.45" stroke-width="0.4"/>
<circle cx="557.5" cy="330.1" r="2.05" fill="#E8475A" fill-opacity="0.92" stroke="#333" stroke-opacity="0.45" stroke-width="0.4"/>
<circle cx="565.4" cy="329.6" r="2.05" fill="#E8475A" fill-opacity="0.92" stroke="#333" stroke-opacity="0.45" stroke-width="0.4"/>
<circle cx="572.8" cy="327.5" r="2.05" fill="#3A9BD2" fill-opacity="0.92" stroke="#333" stroke-opacity="0.45" stroke-width="0.4"/>
<circle cx="577.8" cy="324.3" r="2.05" fill="#E8475A" fill-opacity="0.92" stroke="#333" stroke-opacity="0.45" stroke-width="0.4"/>
<circle cx="578.6" cy="326.7" r="2.05" fill="#E8475A" fill-opacity="0.92" stroke="#333" stroke-opacity="0.45" stroke-width="0.4"/>
<circle cx="587.8" cy="326.7" r="2.05" fill="#3A9BD2" fill-opacity="0.92" stroke="#333" stroke-opacity="0.45" stroke-width="0.4"/>
<circle cx="592.5" cy="323.0" r="2.05" fill="#3A9BD2" fill-opacity="0.92" stroke="#333" stroke-opacity="0.45" stroke-width="0.4"/>
<circle cx="597.7" cy="328.0" r="2.05" fill="#E8475A" fill-opacity="0.92" stroke="#333" stroke-opacity="0.45" stroke-width="0.4"/>
<circle cx="613.3" cy="322.2" r="2.05" fill="#3A9BD2" fill-opacity="0.92" stroke="#333" stroke-opacity="0.45" stroke-width="0.4"/>
<circle cx="549.7" cy="334.8" r="2.05" fill="#E8475A" fill-opacity="0.92" stroke="#333" stroke-opacity="0.45" stroke-width="0.4"/>
<circle cx="553.6" cy="334.0" r="2.05" fill="#3A9BD2" fill-opacity="0.92" stroke="#333" stroke-opacity="0.45" stroke-width="0.4"/>
<circle cx="554.9" cy="336.7" r="2.05" fill="#3A9BD2" fill-opacity="0.92" stroke="#333" stroke-opacity="0.45" stroke-width="0.4"/>
<circle cx="558.3" cy="337.2" r="2.05" fill="#3A9BD2" fill-opacity="0.92" stroke="#333" stroke-opacity="0.45" stroke-width="0.4"/>
<circle cx="562.3" cy="330.1" r="2.05" fill="#E8475A" fill-opacity="0.92" stroke="#333" stroke-opacity="0.45" stroke-width="0.4"/>
<circle cx="562.8" cy="331.4" r="2.05" fill="#3A9BD2" fill-opacity="0.92" stroke="#333" stroke-opacity="0.45" stroke-width="0.4"/>
<circle cx="571.2" cy="332.7" r="2.05" fill="#E8475A" fill-opacity="0.92" stroke="#333" stroke-opacity="0.45" stroke-width="0.4"/>
<circle cx="575.2" cy="332.2" r="2.05" fill="#E8475A" fill-opacity="0.92" stroke="#333" stroke-opacity="0.45" stroke-width="0.4"/>
<circle cx="581.2" cy="332.7" r="2.05" fill="#3A9BD2" fill-opacity="0.92" stroke="#333" stroke-opacity="0.45" stroke-width="0.4"/>
<circle cx="587.0" cy="331.7" r="2.05" fill="#3A9BD2" fill-opacity="0.92" stroke="#333" stroke-opacity="0.45" stroke-width="0.4"/>
<circle cx="545.7" cy="333.5" r="2.05" fill="#E8475A" fill-opacity="0.92" stroke="#333" stroke-opacity="0.45" stroke-width="0.4"/>
<circle cx="547.0" cy="332.7" r="2.05" fill="#3A9BD2" fill-opacity="0.92" stroke="#333" stroke-opacity="0.45" stroke-width="0.4"/>
<circle cx="541.8" cy="336.7" r="2.05" fill="#E8475A" fill-opacity="0.92" stroke="#333" stroke-opacity="0.45" stroke-width="0.4"/>
<g clip-path="url(#ch)">
<path d="M529.5,332.0 L536.0,329.3 L542.5,326.6 L549.0,323.8 L555.5,321.1 L562.0,318.3 L568.5,315.5 L575.0,312.6 L581.5,309.8 L588.0,306.9 L594.5,304.0 L601.0,301.1 L607.5,298.1 L614.0,295.1 L620.5,292.1 L627.0,289.1 L633.5,286.0 L640.0,283.0 L646.5,279.9 L653.0,276.7 L659.5,273.6 L659.5,280.7 L653.0,283.4 L646.5,286.1 L640.0,288.8 L633.5,291.7 L627.0,294.5 L620.5,297.5 L614.0,300.5 L607.5,303.5 L601.0,306.6 L594.5,309.8 L588.0,313.0 L581.5,316.3 L575.0,319.6 L568.5,323.0 L562.0,326.4 L555.5,329.9 L549.0,333.5 L542.5,337.1 L536.0,340.8 L529.5,344.5 Z" fill="#8c8c8c" fill-opacity="0.62"/>
<line x1="529.5" y1="336.7" x2="659.5" y2="277.5" stroke="#fff" stroke-width="1"/>
</g>
<rect x="529.5" y="236.8" width="130.00" height="114.30" fill="none" stroke="#333" stroke-width="1"/>
<text transform="translate(527.5,241.1) scale(0.88,1)" font-size="6.6" text-anchor="end" fill="#4a4a4a" font-family="Liberation Sans, sans-serif">0.25</text>
<text transform="translate(527.5,273.4) scale(0.88,1)" font-size="6.6" text-anchor="end" fill="#4a4a4a" font-family="Liberation Sans, sans-serif">0.20</text>
<text transform="translate(527.5,307.0) scale(0.88,1)" font-size="6.6" text-anchor="end" fill="#4a4a4a" font-family="Liberation Sans, sans-serif">0.15</text>
<text transform="translate(527.5,340.4) scale(0.88,1)" font-size="6.6" text-anchor="end" fill="#4a4a4a" font-family="Liberation Sans, sans-serif">0.10</text>
<text transform="translate(540.1,358.8) scale(0.88,1)" font-size="6.6" text-anchor="middle" fill="#4a4a4a" font-family="Liberation Sans, sans-serif">3.3</text>
<text transform="translate(584.3,358.8) scale(0.88,1)" font-size="6.6" text-anchor="middle" fill="#4a4a4a" font-family="Liberation Sans, sans-serif">3.4</text>
<text transform="translate(628.8,358.8) scale(0.88,1)" font-size="6.6" text-anchor="middle" fill="#4a4a4a" font-family="Liberation Sans, sans-serif">3.5</text>
<text x="594.2" y="370.7" font-size="8.55" text-anchor="middle" fill="#222" font-family="Liberation Sans, sans-serif">Shannon index of CAZyme genes</text>
<circle cx="667.9" cy="329.3" r="3.2" fill="#E8475A" fill-opacity="0.9"/>
<text x="675.6" y="332.1" font-size="7.4" fill="#222" font-family="Liberation Sans, sans-serif">D1</text>
<circle cx="667.9" cy="338.8" r="3.2" fill="#3A9BD2" fill-opacity="0.9"/>
<text x="675.6" y="341.6" font-size="7.4" fill="#222" font-family="Liberation Sans, sans-serif">D3</text>
<circle cx="667.9" cy="347.7" r="3.2" fill="#4DB36A" fill-opacity="0.9"/>
<text x="675.6" y="350.5" font-size="7.4" fill="#222" font-family="Liberation Sans, sans-serif">D6</text>
<text x="21.4" y="391" font-size="12.4" font-weight="normal" font-style="normal" text-anchor="start" fill="#3a3a3a" font-family="Liberation Sans, sans-serif">i</text>
<path d="M58.00,393.30 C60.00,393.30 61.00,393.80 61.80,394.40 L81.20,408.90 L100.60,394.40 C101.40,393.80 102.40,393.30 104.40,393.30 C109.00,393.30 114.50,395.50 114.50,399.10 C114.50,401.50 113.00,403.00 111.70,403.80 L95.10,415.70 C92.00,418.00 90.10,420.50 90.10,424.60 A8.9,6.7 0 0 1 72.30,424.60 C72.30,420.50 70.40,418.00 67.30,415.70 L50.70,403.80 C49.40,403.00 47.90,401.50 47.90,399.10 C47.90,395.50 53.40,393.30 58.00,393.30 Z" fill="#7AC68B"/>
<path d="M142.00,393.30 C144.00,393.30 145.00,393.80 145.80,394.40 L165.20,408.90 L184.60,394.40 C185.40,393.80 186.40,393.30 188.40,393.30 C193.00,393.30 198.50,395.50 198.50,399.10 C198.50,401.50 197.00,403.00 195.70,403.80 L179.10,415.70 C176.00,418.00 174.10,420.50 174.10,424.60 A8.9,6.7 0 0 1 156.30,424.60 C156.30,420.50 154.40,418.00 151.30,415.70 L134.70,403.80 C133.40,403.00 131.90,401.50 131.90,399.10 C131.90,395.50 137.40,393.30 142.00,393.30 Z" fill="#7AC68B"/>
<path d="M226.00,393.30 C228.00,393.30 229.00,393.80 229.80,394.40 L249.20,408.90 L268.60,394.40 C269.40,393.80 270.40,393.30 272.40,393.30 C277.00,393.30 282.50,395.50 282.50,399.10 C282.50,401.50 281.00,403.00 279.70,403.80 L263.10,415.70 C260.00,418.00 258.10,420.50 258.10,424.60 A8.9,6.7 0 0 1 240.30,424.60 C240.30,420.50 238.40,418.00 235.30,415.70 L218.70,403.80 C217.40,403.00 215.90,401.50 215.90,399.10 C215.90,395.50 221.40,393.30 226.00,393.30 Z" fill="#7AC68B"/>
<path d="M310.00,393.30 C312.00,393.30 313.00,393.80 313.80,394.40 L333.20,408.90 L352.60,394.40 C353.40,393.80 354.40,393.30 356.40,393.30 C361.00,393.30 366.50,395.50 366.50,399.10 C366.50,401.50 365.00,403.00 363.70,403.80 L347.10,415.70 C344.00,418.00 342.10,420.50 342.10,424.60 A8.9,6.7 0 0 1 324.30,424.60 C324.30,420.50 322.40,418.00 319.30,415.70 L302.70,403.80 C301.40,403.00 299.90,401.50 299.90,399.10 C299.90,395.50 305.40,393.30 310.00,393.30 Z" fill="#7AC68B"/>
<path d="M394.00,393.30 C396.00,393.30 397.00,393.80 397.80,394.40 L417.20,408.90 L436.60,394.40 C437.40,393.80 438.40,393.30 440.40,393.30 C445.00,393.30 450.50,395.50 450.50,399.10 C450.50,401.50 449.00,403.00 447.70,403.80 L431.10,415.70 C428.00,418.00 426.10,420.50 426.10,424.60 A8.9,6.7 0 0 1 408.30,424.60 C408.30,420.50 406.40,418.00 403.30,415.70 L386.70,403.80 C385.40,403.00 383.90,401.50 383.90,399.10 C383.90,395.50 389.40,393.30 394.00,393.30 Z" fill="#7AC68B"/>
<path d="M478.00,393.30 C480.00,393.30 481.00,393.80 481.80,394.40 L501.20,408.90 L520.60,394.40 C521.40,393.80 522.40,393.30 524.40,393.30 C529.00,393.30 534.50,395.50 534.50,399.10 C534.50,401.50 533.00,403.00 531.70,403.80 L515.10,415.70 C512.00,418.00 510.10,420.50 510.10,424.60 A8.9,6.7 0 0 1 492.30,424.60 C492.30,420.50 490.40,418.00 487.30,415.70 L470.70,403.80 C469.40,403.00 467.90,401.50 467.90,399.10 C467.90,395.50 473.40,393.30 478.00,393.30 Z" fill="#7AC68B"/>
<path d="M562.00,393.30 C564.00,393.30 565.00,393.80 565.80,394.40 L585.20,408.90 L604.60,394.40 C605.40,393.80 606.40,393.30 608.40,393.30 C613.00,393.30 618.50,395.50 618.50,399.10 C618.50,401.50 617.00,403.00 615.70,403.80 L599.10,415.70 C596.00,418.00 594.10,420.50 594.10,424.60 A8.9,6.7 0 0 1 576.30,424.60 C576.30,420.50 574.40,418.00 571.30,415.70 L554.70,403.80 C553.40,403.00 551.90,401.50 551.90,399.10 C551.90,395.50 557.40,393.30 562.00,393.30 Z" fill="#7AC68B"/>
<rect x="6" y="415.9" width="654" height="290.6" rx="9" ry="9" fill="#D9E7B1"/>
<clipPath id="bandclip"><rect x="6" y="415.9" width="654" height="41.7"/></clipPath>
<g clip-path="url(#bandclip)"><path d="M58.00,393.30 C60.00,393.30 61.00,393.80 61.80,394.40 L81.20,408.90 L100.60,394.40 C101.40,393.80 102.40,393.30 104.40,393.30 C109.00,393.30 114.50,395.50 114.50,399.10 C114.50,401.50 113.00,403.00 111.70,403.80 L95.10,415.70 C92.00,418.00 90.10,420.50 90.10,424.60 A8.9,6.7 0 0 1 72.30,424.60 C72.30,420.50 70.40,418.00 67.30,415.70 L50.70,403.80 C49.40,403.00 47.90,401.50 47.90,399.10 C47.90,395.50 53.40,393.30 58.00,393.30 Z" fill="#A0D288"/><path d="M142.00,393.30 C144.00,393.30 145.00,393.80 145.80,394.40 L165.20,408.90 L184.60,394.40 C185.40,393.80 186.40,393.30 188.40,393.30 C193.00,393.30 198.50,395.50 198.50,399.10 C198.50,401.50 197.00,403.00 195.70,403.80 L179.10,415.70 C176.00,418.00 174.10,420.50 174.10,424.60 A8.9,6.7 0 0 1 156.30,424.60 C156.30,420.50 154.40,418.00 151.30,415.70 L134.70,403.80 C133.40,403.00 131.90,401.50 131.90,399.10 C131.90,395.50 137.40,393.30 142.00,393.30 Z" fill="#A0D288"/><path d="M226.00,393.30 C228.00,393.30 229.00,393.80 229.80,394.40 L249.20,408.90 L268.60,394.40 C269.40,393.80 270.40,393.30 272.40,393.30 C277.00,393.30 282.50,395.50 282.50,399.10 C282.50,401.50 281.00,403.00 279.70,403.80 L263.10,415.70 C260.00,418.00 258.10,420.50 258.10,424.60 A8.9,6.7 0 0 1 240.30,424.60 C240.30,420.50 238.40,418.00 235.30,415.70 L218.70,403.80 C217.40,403.00 215.90,401.50 215.90,399.10 C215.90,395.50 221.40,393.30 226.00,393.30 Z" fill="#A0D288"/><path d="M310.00,393.30 C312.00,393.30 313.00,393.80 313.80,394.40 L333.20,408.90 L352.60,394.40 C353.40,393.80 354.40,393.30 356.40,393.30 C361.00,393.30 366.50,395.50 366.50,399.10 C366.50,401.50 365.00,403.00 363.70,403.80 L347.10,415.70 C344.00,418.00 342.10,420.50 342.10,424.60 A8.9,6.7 0 0 1 324.30,424.60 C324.30,420.50 322.40,418.00 319.30,415.70 L302.70,403.80 C301.40,403.00 299.90,401.50 299.90,399.10 C299.90,395.50 305.40,393.30 310.00,393.30 Z" fill="#A0D288"/><path d="M394.00,393.30 C396.00,393.30 397.00,393.80 397.80,394.40 L417.20,408.90 L436.60,394.40 C437.40,393.80 438.40,393.30 440.40,393.30 C445.00,393.30 450.50,395.50 450.50,399.10 C450.50,401.50 449.00,403.00 447.70,403.80 L431.10,415.70 C428.00,418.00 426.10,420.50 426.10,424.60 A8.9,6.7 0 0 1 408.30,424.60 C408.30,420.50 406.40,418.00 403.30,415.70 L386.70,403.80 C385.40,403.00 383.90,401.50 383.90,399.10 C383.90,395.50 389.40,393.30 394.00,393.30 Z" fill="#A0D288"/><path d="M478.00,393.30 C480.00,393.30 481.00,393.80 481.80,394.40 L501.20,408.90 L520.60,394.40 C521.40,393.80 522.40,393.30 524.40,393.30 C529.00,393.30 534.50,395.50 534.50,399.10 C534.50,401.50 533.00,403.00 531.70,403.80 L515.10,415.70 C512.00,418.00 510.10,420.50 510.10,424.60 A8.9,6.7 0 0 1 492.30,424.60 C492.30,420.50 490.40,418.00 487.30,415.70 L470.70,403.80 C469.40,403.00 467.90,401.50 467.90,399.10 C467.90,395.50 473.40,393.30 478.00,393.30 Z" fill="#A0D288"/><path d="M562.00,393.30 C564.00,393.30 565.00,393.80 565.80,394.40 L585.20,408.90 L604.60,394.40 C605.40,393.80 606.40,393.30 608.40,393.30 C613.00,393.30 618.50,395.50 618.50,399.10 C618.50,401.50 617.00,403.00 615.70,403.80 L599.10,415.70 C596.00,418.00 594.10,420.50 594.10,424.60 A8.9,6.7 0 0 1 576.30,424.60 C576.30,420.50 574.40,418.00 571.30,415.70 L554.70,403.80 C553.40,403.00 551.90,401.50 551.90,399.10 C551.90,395.50 557.40,393.30 562.00,393.30 Z" fill="#A0D288"/></g>
<path d="M6,457.6 H660 V697 A9.5,9.5 0 0 1 650.5,706.5 H15.5 A9.5,9.5 0 0 1 6,697 Z" fill="#F5C2B3"/>
<text x="51.3" y="448.1" font-size="12.2" font-weight="bold" font-style="normal" text-anchor="start" fill="#231f20" font-family="Liberation Sans, sans-serif">Diverse MPs</text>
<polygon points="130.6,451.3 147.7,436.0 153.5,438.1 137.2,455.2" fill="#2E7BC4" />
<polygon points="159.5,439.5 170.0,437.6 170.8,443.4 167.4,448.1" fill="#E8622A" />
<polygon points="166.1,453.9 177.9,442.9 175.3,481.0 167.4,476.2" fill="#E9AA35" />
<polygon points="145.1,452.6 160.9,448.1 163.0,456.5 162.2,468.4 143.8,470.2" fill="#7B2D8E" />
<polygon points="126.7,467.0 138.5,459.2 139.3,473.1" fill="#4DB848" />
<polygon points="139.3,480.2 145.1,474.9 163.0,473.6 163.5,479.6 152.5,488.1" fill="#E8246A" />
<path d="M188.1,456.2 C195,456.5 203,459.5 208.5,466 C212,471 212.8,475.5 212.4,479.4 L215,478.8 L206.8,497.4 L196.7,480.3 L199.5,480.9 C200.5,474 198.5,466 190.7,460.1 Z" fill="#F6D0C4" fill-opacity="0.5" stroke="#231f20" stroke-width="0.7" stroke-linejoin="round"/><path d="M190,457.8 C197,459 204.5,463 207.5,469.5 C209.5,474 209.8,477 209.5,481.5 L206.8,491" fill="none" stroke="#231f20" stroke-width="0.45"/>
<path d="M155.5,548.6 L162.2,543.6 L162.4,546.4 C168,546.9 175,546 180.3,543.6 C178.5,549.5 171,553.5 162.5,552 L162.6,554.2 Z" fill="#F6D0C4" fill-opacity="0.5" stroke="#231f20" stroke-width="0.7" stroke-linejoin="round"/><path d="M163,548.6 C169,549.3 175,548 179,545.3" fill="none" stroke="#231f20" stroke-width="0.45"/>
<path d="M367.2,542.6 C368.5,536.5 374,532 382.6,532.2 L382.8,527.4 L390.4,533.6 L384.4,538.8 L384.2,535.9 C377,535.6 371,538.5 367.2,542.6 Z" fill="#F6D0C4" fill-opacity="0.5" stroke="#231f20" stroke-width="0.7" stroke-linejoin="round"/><path d="M368.5,540.5 C371,535.5 376,533.6 384,534" fill="none" stroke="#231f20" stroke-width="0.45"/>
<path d="M371.3,597.7 L373.8,596.9 C375.5,601.5 379.5,603.8 386.2,603.2 L386.1,600.2 L393.9,606.8 L388.2,612 L388.1,609 C380,609.8 373.5,606 371.3,597.7 Z" fill="#F6D0C4" fill-opacity="0.5" stroke="#231f20" stroke-width="0.7" stroke-linejoin="round"/><path d="M372.5,598.5 C375,604.5 380,606.5 387,606" fill="none" stroke="#231f20" stroke-width="0.45"/>
<text x="50" y="509.7" font-size="12.2" font-weight="bold" font-style="normal" text-anchor="start" fill="#231f20" font-family="Liberation Sans, sans-serif">(a) Formation of biofilm</text>
<circle cx="109.8" cy="544.8" r="29.6" fill="#BDC5D7"/>
<rect x="106.0" y="540.9" width="1.7" height="0.8" fill="#A0ABC4"/>
<rect x="115.1" y="551.6" width="1.4" height="0.7" fill="#B2BBD0"/>
<rect x="104.6" y="546.7" width="1.7" height="0.8" fill="#CDD3E1"/>
<rect x="91.4" y="531.3" width="2.0" height="1.0" fill="#B2BBD0"/>
<rect x="93.9" y="548.9" width="2.7" height="1.4" fill="#A7B1C8"/>
<rect x="119.2" y="560.3" width="1.5" height="0.8" fill="#A0ABC4"/>
<rect x="125.0" y="539.8" width="2.0" height="1.0" fill="#A7B1C8"/>
<rect x="97.6" y="557.3" width="2.8" height="1.4" fill="#A0ABC4"/>
<rect x="106.4" y="523.4" width="1.4" height="0.7" fill="#D4D9E5"/>
<rect x="102.5" y="566.4" width="2.4" height="1.2" fill="#A0ABC4"/>
<rect x="106.7" y="538.2" width="2.7" height="1.4" fill="#CDD3E1"/>
<rect x="135.5" y="541.8" width="2.0" height="1.0" fill="#A7B1C8"/>
<rect x="83.5" y="552.0" width="1.9" height="1.0" fill="#CDD3E1"/>
<rect x="112.4" y="558.7" width="2.4" height="1.2" fill="#A7B1C8"/>
<rect x="120.5" y="566.1" width="2.1" height="1.1" fill="#CDD3E1"/>
<rect x="105.5" y="572.1" width="1.6" height="0.8" fill="#B2BBD0"/>
<rect x="97.5" y="567.1" width="1.7" height="0.8" fill="#A7B1C8"/>
<rect x="125.1" y="547.7" width="1.3" height="0.7" fill="#A0ABC4"/>
<rect x="127.7" y="533.1" width="1.6" height="0.8" fill="#A0ABC4"/>
<rect x="81.8" y="544.6" width="1.5" height="0.7" fill="#D4D9E5"/>
<rect x="124.9" y="563.6" width="1.7" height="0.9" fill="#B2BBD0"/>
<rect x="85.1" y="530.4" width="1.9" height="1.0" fill="#D4D9E5"/>
<rect x="119.9" y="544.3" width="1.4" height="0.7" fill="#D4D9E5"/>
<rect x="117.6" y="546.9" width="2.8" height="1.4" fill="#CDD3E1"/>
<rect x="102.1" y="547.6" width="2.4" height="1.2" fill="#D4D9E5"/>
<rect x="94.1" y="547.0" width="2.9" height="1.5" fill="#B2BBD0"/>
<rect x="133.0" y="545.9" width="2.7" height="1.4" fill="#B2BBD0"/>
<rect x="110.7" y="527.5" width="2.1" height="1.0" fill="#A0ABC4"/>
<rect x="81.1" y="552.1" width="3.1" height="1.6" fill="#A0ABC4"/>
<rect x="109.9" y="523.5" width="2.9" height="1.5" fill="#A7B1C8"/>
<rect x="102.1" y="566.5" width="1.6" height="0.8" fill="#B2BBD0"/>
<rect x="100.1" y="552.3" width="3.0" height="1.5" fill="#B2BBD0"/>
<rect x="91.8" y="532.2" width="3.1" height="1.5" fill="#A7B1C8"/>
<rect x="128.1" y="526.1" width="1.7" height="0.8" fill="#A0ABC4"/>
<rect x="110.4" y="566.3" width="1.4" height="0.7" fill="#A7B1C8"/>
<rect x="100.8" y="544.8" width="2.7" height="1.4" fill="#B2BBD0"/>
<rect x="122.9" y="558.9" width="1.5" height="0.8" fill="#B2BBD0"/>
<rect x="86.0" y="540.1" width="3.1" height="1.5" fill="#CDD3E1"/>
<rect x="109.6" y="520.2" width="2.0" height="1.0" fill="#A0ABC4"/>
<rect x="100.4" y="528.7" width="2.1" height="1.1" fill="#B2BBD0"/>
<rect x="108.7" y="551.5" width="2.4" height="1.2" fill="#A7B1C8"/>
<rect x="110.2" y="557.7" width="2.6" height="1.3" fill="#A7B1C8"/>
<rect x="115.4" y="546.8" width="2.9" height="1.5" fill="#A7B1C8"/>
<rect x="121.8" y="550.5" width="1.6" height="0.8" fill="#D4D9E5"/>
<rect x="127.5" y="564.9" width="2.4" height="1.2" fill="#B2BBD0"/>
<rect x="109.9" y="564.3" width="1.6" height="0.8" fill="#D4D9E5"/>
<rect x="124.4" y="555.2" width="2.0" height="1.0" fill="#D4D9E5"/>
<rect x="113.6" y="539.4" width="1.3" height="0.7" fill="#A7B1C8"/>
<rect x="105.4" y="518.7" width="1.7" height="0.8" fill="#A7B1C8"/>
<rect x="116.1" y="562.5" width="1.6" height="0.8" fill="#D4D9E5"/>
<rect x="82.4" y="550.6" width="2.1" height="1.0" fill="#A7B1C8"/>
<rect x="122.4" y="527.7" width="2.5" height="1.3" fill="#A7B1C8"/>
<rect x="104.9" y="543.1" width="3.1" height="1.5" fill="#A7B1C8"/>
<rect x="115.6" y="534.6" width="2.2" height="1.1" fill="#D4D9E5"/>
<rect x="127.0" y="523.6" width="2.0" height="1.0" fill="#CDD3E1"/>
<rect x="123.8" y="543.0" width="1.8" height="0.9" fill="#D4D9E5"/>
<rect x="100.4" y="520.8" width="2.5" height="1.3" fill="#B2BBD0"/>
<rect x="95.6" y="545.1" width="3.1" height="1.6" fill="#CDD3E1"/>
<rect x="90.4" y="534.3" width="1.3" height="0.7" fill="#A0ABC4"/>
<rect x="91.3" y="534.0" width="1.5" height="0.8" fill="#B2BBD0"/>
<rect x="117.1" y="542.5" width="1.3" height="0.7" fill="#CDD3E1"/>
<rect x="133.6" y="555.6" width="1.4" height="0.7" fill="#D4D9E5"/>
<rect x="120.3" y="535.3" width="1.3" height="0.6" fill="#B2BBD0"/>
<rect x="129.1" y="555.8" width="2.2" height="1.1" fill="#B2BBD0"/>
<rect x="121.0" y="539.2" width="1.7" height="0.8" fill="#A0ABC4"/>
<rect x="89.9" y="558.7" width="2.1" height="1.1" fill="#A0ABC4"/>
<rect x="134.1" y="532.2" width="2.1" height="1.1" fill="#A7B1C8"/>
<rect x="137.6" y="544.0" width="2.3" height="1.1" fill="#A7B1C8"/>
<rect x="97.8" y="543.7" width="3.0" height="1.5" fill="#A0ABC4"/>
<rect x="121.6" y="532.2" width="2.1" height="1.0" fill="#CDD3E1"/>
<rect x="93.8" y="540.2" width="1.2" height="0.6" fill="#B2BBD0"/>
<rect x="114.8" y="529.5" width="3.1" height="1.5" fill="#A7B1C8"/>
<rect x="115.0" y="551.5" width="2.7" height="1.3" fill="#A7B1C8"/>
<rect x="117.1" y="556.9" width="2.6" height="1.3" fill="#CDD3E1"/>
<rect x="115.3" y="566.4" width="2.2" height="1.1" fill="#A0ABC4"/>
<rect x="108.9" y="572.1" width="1.4" height="0.7" fill="#A7B1C8"/>
<rect x="95.3" y="551.4" width="1.9" height="0.9" fill="#A7B1C8"/>
<rect x="128.0" y="565.2" width="2.7" height="1.3" fill="#CDD3E1"/>
<rect x="91.1" y="538.4" width="1.4" height="0.7" fill="#A7B1C8"/>
<rect x="131.3" y="536.1" width="2.3" height="1.1" fill="#CDD3E1"/>
<rect x="120.0" y="525.2" width="2.1" height="1.0" fill="#CDD3E1"/>
<rect x="125.2" y="548.6" width="3.0" height="1.5" fill="#A7B1C8"/>
<rect x="112.4" y="558.4" width="1.9" height="1.0" fill="#A7B1C8"/>
<rect x="83.2" y="534.2" width="2.7" height="1.3" fill="#B2BBD0"/>
<rect x="120.8" y="537.7" width="3.2" height="1.6" fill="#CDD3E1"/>
<rect x="119.2" y="519.1" width="1.6" height="0.8" fill="#A7B1C8"/>
<rect x="131.2" y="532.4" width="2.8" height="1.4" fill="#D4D9E5"/>
<rect x="126.2" y="524.7" width="1.5" height="0.8" fill="#A0ABC4"/>
<rect x="102.9" y="527.0" width="2.9" height="1.5" fill="#A7B1C8"/>
<rect x="113.4" y="570.1" width="1.9" height="0.9" fill="#D4D9E5"/>
<rect x="120.8" y="520.0" width="1.2" height="0.6" fill="#CDD3E1"/>
<rect x="114.0" y="559.6" width="3.1" height="1.6" fill="#A7B1C8"/>
<rect x="104.3" y="567.0" width="2.6" height="1.3" fill="#D4D9E5"/>
<rect x="118.4" y="530.6" width="1.4" height="0.7" fill="#A7B1C8"/>
<rect x="121.2" y="542.2" width="1.3" height="0.6" fill="#A0ABC4"/>
<rect x="94.8" y="534.6" width="2.1" height="1.0" fill="#A0ABC4"/>
<rect x="118.8" y="543.4" width="1.6" height="0.8" fill="#B2BBD0"/>
<rect x="126.7" y="549.3" width="3.1" height="1.5" fill="#B2BBD0"/>
<rect x="84.9" y="538.4" width="1.9" height="1.0" fill="#CDD3E1"/>
<rect x="130.0" y="554.3" width="2.4" height="1.2" fill="#A0ABC4"/>
<rect x="103.4" y="535.5" width="2.2" height="1.1" fill="#A0ABC4"/>
<rect x="100.4" y="529.9" width="2.3" height="1.2" fill="#A0ABC4"/>
<rect x="117.0" y="566.3" width="2.6" height="1.3" fill="#D4D9E5"/>
<rect x="127.4" y="531.2" width="2.0" height="1.0" fill="#A0ABC4"/>
<rect x="116.8" y="530.5" width="2.1" height="1.0" fill="#CDD3E1"/>
<rect x="88.2" y="533.0" width="2.1" height="1.0" fill="#D4D9E5"/>
<rect x="99.2" y="525.7" width="2.5" height="1.3" fill="#CDD3E1"/>
<rect x="103.9" y="567.4" width="1.9" height="0.9" fill="#B2BBD0"/>
<rect x="119.5" y="521.5" width="1.6" height="0.8" fill="#A0ABC4"/>
<rect x="109.6" y="548.3" width="3.2" height="1.6" fill="#CDD3E1"/>
<rect x="89.3" y="527.9" width="2.0" height="1.0" fill="#D4D9E5"/>
<rect x="99.9" y="534.9" width="2.2" height="1.1" fill="#D4D9E5"/>
<rect x="109.2" y="567.5" width="3.0" height="1.5" fill="#A7B1C8"/>
<rect x="126.4" y="523.4" width="1.6" height="0.8" fill="#D4D9E5"/>
<rect x="117.2" y="521.7" width="1.3" height="0.7" fill="#D4D9E5"/>
<rect x="109.2" y="571.2" width="1.5" height="0.7" fill="#D4D9E5"/>
<rect x="88.0" y="548.9" width="2.4" height="1.2" fill="#B2BBD0"/>
<rect x="134.4" y="535.6" width="2.8" height="1.4" fill="#B2BBD0"/>
<rect x="123.5" y="532.4" width="2.1" height="1.0" fill="#B2BBD0"/>
<rect x="123.5" y="567.0" width="1.7" height="0.9" fill="#D4D9E5"/>
<rect x="109.1" y="567.4" width="2.2" height="1.1" fill="#B2BBD0"/>
<rect x="110.3" y="563.6" width="1.7" height="0.8" fill="#A0ABC4"/>
<rect x="95.0" y="568.0" width="1.5" height="0.7" fill="#A7B1C8"/>
<rect x="112.0" y="568.5" width="1.3" height="0.7" fill="#CDD3E1"/>
<rect x="91.3" y="556.2" width="1.3" height="0.7" fill="#D4D9E5"/>
<rect x="117.3" y="528.3" width="3.1" height="1.5" fill="#B2BBD0"/>
<rect x="135.8" y="547.6" width="2.0" height="1.0" fill="#B2BBD0"/>
<rect x="125.5" y="544.7" width="2.9" height="1.5" fill="#D4D9E5"/>
<rect x="126.4" y="538.7" width="2.8" height="1.4" fill="#B2BBD0"/>
<rect x="125.0" y="532.1" width="2.1" height="1.0" fill="#A0ABC4"/>
<rect x="125.0" y="547.2" width="2.6" height="1.3" fill="#D4D9E5"/>
<rect x="123.6" y="520.8" width="2.3" height="1.1" fill="#B2BBD0"/>
<rect x="127.7" y="532.1" width="1.4" height="0.7" fill="#A7B1C8"/>
<rect x="84.8" y="556.2" width="1.3" height="0.7" fill="#CDD3E1"/>
<rect x="99.2" y="553.5" width="1.9" height="0.9" fill="#A0ABC4"/>
<rect x="120.1" y="533.9" width="1.7" height="0.9" fill="#D4D9E5"/>
<rect x="112.7" y="546.5" width="1.3" height="0.7" fill="#B2BBD0"/>
<rect x="121.5" y="540.0" width="2.8" height="1.4" fill="#A7B1C8"/>
<rect x="94.4" y="523.9" width="1.6" height="0.8" fill="#CDD3E1"/>
<rect x="120.0" y="545.7" width="2.1" height="1.1" fill="#CDD3E1"/>
<rect x="129.8" y="562.7" width="2.6" height="1.3" fill="#D4D9E5"/>
<rect x="109.5" y="532.2" width="3.1" height="1.6" fill="#B2BBD0"/>
<rect x="103.2" y="518.9" width="3.1" height="1.6" fill="#CDD3E1"/>
<rect x="112.2" y="547.1" width="2.4" height="1.2" fill="#A0ABC4"/>
<rect x="124.0" y="534.8" width="1.4" height="0.7" fill="#CDD3E1"/>
<rect x="100.1" y="522.8" width="2.6" height="1.3" fill="#A7B1C8"/>
<rect x="100.8" y="566.8" width="2.8" height="1.4" fill="#A7B1C8"/>
<rect x="103.4" y="541.9" width="2.1" height="1.0" fill="#B2BBD0"/>
<rect x="95.0" y="559.5" width="1.2" height="0.6" fill="#A0ABC4"/>
<rect x="90.4" y="553.8" width="3.1" height="1.6" fill="#D4D9E5"/>
<rect x="91.4" y="524.4" width="2.1" height="1.0" fill="#CDD3E1"/>
<rect x="105.7" y="515.8" width="2.4" height="1.2" fill="#A0ABC4"/>
<rect x="131.1" y="531.9" width="2.1" height="1.0" fill="#D4D9E5"/>
<rect x="106.6" y="529.2" width="2.9" height="1.4" fill="#CDD3E1"/>
<rect x="131.7" y="558.2" width="2.7" height="1.4" fill="#CDD3E1"/>
<rect x="87.7" y="534.4" width="1.3" height="0.6" fill="#A0ABC4"/>
<rect x="116.2" y="534.4" width="1.9" height="1.0" fill="#CDD3E1"/>
<rect x="107.7" y="559.5" width="2.6" height="1.3" fill="#B2BBD0"/>
<rect x="108.6" y="547.3" width="1.4" height="0.7" fill="#CDD3E1"/>
<rect x="104.7" y="524.2" width="2.6" height="1.3" fill="#CDD3E1"/>
<rect x="96.7" y="528.3" width="1.4" height="0.7" fill="#A7B1C8"/>
<rect x="112.8" y="567.9" width="2.5" height="1.3" fill="#A0ABC4"/>
<rect x="94.1" y="560.1" width="2.1" height="1.0" fill="#A0ABC4"/>
<rect x="108.5" y="527.7" width="1.7" height="0.9" fill="#D4D9E5"/>
<rect x="108.8" y="554.4" width="1.8" height="0.9" fill="#CDD3E1"/>
<rect x="107.7" y="516.1" width="1.6" height="0.8" fill="#CDD3E1"/>
<rect x="107.1" y="528.8" width="3.2" height="1.6" fill="#B2BBD0"/>
<rect x="93.1" y="541.7" width="2.9" height="1.4" fill="#A7B1C8"/>
<rect x="104.2" y="561.2" width="1.2" height="0.6" fill="#A0ABC4"/>
<rect x="93.8" y="541.0" width="2.3" height="1.2" fill="#A7B1C8"/>
<rect x="105.8" y="534.7" width="1.4" height="0.7" fill="#D4D9E5"/>
<rect x="124.2" y="545.5" width="2.1" height="1.0" fill="#D4D9E5"/>
<rect x="111.7" y="550.5" width="1.4" height="0.7" fill="#D4D9E5"/>
<rect x="127.2" y="552.3" width="2.5" height="1.2" fill="#B2BBD0"/>
<rect x="118.8" y="547.7" width="3.1" height="1.5" fill="#B2BBD0"/>
<rect x="120.9" y="551.5" width="2.7" height="1.4" fill="#B2BBD0"/>
<rect x="88.2" y="528.1" width="2.8" height="1.4" fill="#CDD3E1"/>
<rect x="88.1" y="562.9" width="2.9" height="1.5" fill="#A0ABC4"/>
<rect x="125.1" y="543.5" width="1.3" height="0.7" fill="#B2BBD0"/>
<rect x="117.4" y="541.9" width="2.5" height="1.2" fill="#CDD3E1"/>
<rect x="108.3" y="552.6" width="1.5" height="0.8" fill="#CDD3E1"/>
<rect x="109.8" y="544.8" width="2.6" height="1.3" fill="#D4D9E5"/>
<rect x="103.3" y="545.1" width="2.6" height="1.3" fill="#A0ABC4"/>
<rect x="102.6" y="525.3" width="3.0" height="1.5" fill="#CDD3E1"/>
<rect x="114.2" y="522.0" width="2.1" height="1.0" fill="#CDD3E1"/>
<rect x="85.9" y="537.6" width="2.9" height="1.4" fill="#A0ABC4"/>
<rect x="119.3" y="549.3" width="2.4" height="1.2" fill="#A0ABC4"/>
<rect x="121.6" y="519.6" width="1.4" height="0.7" fill="#D4D9E5"/>
<rect x="99.6" y="521.8" width="2.2" height="1.1" fill="#A0ABC4"/>
<rect x="100.1" y="544.4" width="3.0" height="1.5" fill="#A7B1C8"/>
<rect x="106.9" y="522.0" width="1.4" height="0.7" fill="#A7B1C8"/>
<rect x="134.4" y="537.9" width="2.4" height="1.2" fill="#B2BBD0"/>
<rect x="133.8" y="547.5" width="2.4" height="1.2" fill="#A0ABC4"/>
<rect x="109.5" y="532.1" width="2.5" height="1.3" fill="#B2BBD0"/>
<rect x="119.4" y="538.1" width="2.1" height="1.0" fill="#B2BBD0"/>
<rect x="120.1" y="518.1" width="1.9" height="0.9" fill="#D4D9E5"/>
<rect x="97.0" y="564.9" width="1.9" height="0.9" fill="#CDD3E1"/>
<rect x="103.0" y="529.5" width="2.8" height="1.4" fill="#D4D9E5"/>
<rect x="90.3" y="538.3" width="1.7" height="0.9" fill="#A0ABC4"/>
<rect x="127.4" y="561.1" width="2.8" height="1.4" fill="#B2BBD0"/>
<rect x="135.8" y="544.5" width="2.0" height="1.0" fill="#D4D9E5"/>
<rect x="115.2" y="560.3" width="2.5" height="1.2" fill="#D4D9E5"/>
<rect x="109.9" y="531.4" width="1.5" height="0.7" fill="#B2BBD0"/>
<rect x="102.6" y="570.9" width="1.4" height="0.7" fill="#D4D9E5"/>
<rect x="130.8" y="540.3" width="2.6" height="1.3" fill="#CDD3E1"/>
<rect x="107.8" y="547.6" width="1.4" height="0.7" fill="#D4D9E5"/>
<rect x="135.9" y="542.7" width="3.1" height="1.5" fill="#D4D9E5"/>
<rect x="101.9" y="535.1" width="2.2" height="1.1" fill="#A0ABC4"/>
<rect x="105.1" y="570.6" width="1.7" height="0.8" fill="#D4D9E5"/>
<rect x="91.6" y="538.6" width="2.2" height="1.1" fill="#B2BBD0"/>
<rect x="128.0" y="525.6" width="2.7" height="1.4" fill="#A0ABC4"/>
<rect x="119.2" y="531.0" width="1.7" height="0.9" fill="#B2BBD0"/>
<rect x="133.3" y="544.6" width="2.4" height="1.2" fill="#B2BBD0"/>
<rect x="94.2" y="521.5" width="2.3" height="1.1" fill="#D4D9E5"/>
<rect x="96.7" y="562.1" width="2.0" height="1.0" fill="#B2BBD0"/>
<rect x="133.3" y="533.1" width="2.3" height="1.2" fill="#CDD3E1"/>
<rect x="111.5" y="569.8" width="1.8" height="0.9" fill="#A7B1C8"/>
<rect x="81.5" y="549.0" width="2.0" height="1.0" fill="#D4D9E5"/>
<rect x="95.1" y="521.7" width="2.2" height="1.1" fill="#CDD3E1"/>
<rect x="128.9" y="549.1" width="1.9" height="0.9" fill="#B2BBD0"/>
<rect x="130.2" y="560.0" width="2.3" height="1.1" fill="#A7B1C8"/>
<rect x="84.6" y="550.7" width="2.9" height="1.5" fill="#D4D9E5"/>
<rect x="116.7" y="542.8" width="1.9" height="0.9" fill="#A0ABC4"/>
<rect x="100.1" y="522.2" width="2.9" height="1.5" fill="#A0ABC4"/>
<rect x="119.9" y="530.4" width="2.5" height="1.2" fill="#A0ABC4"/>
<rect x="124.6" y="531.3" width="1.3" height="0.6" fill="#B2BBD0"/>
<rect x="129.2" y="553.6" width="3.2" height="1.6" fill="#A0ABC4"/>
<rect x="108.1" y="525.0" width="2.7" height="1.4" fill="#A7B1C8"/>
<rect x="105.9" y="535.3" width="2.6" height="1.3" fill="#CDD3E1"/>
<rect x="114.0" y="540.8" width="1.8" height="0.9" fill="#A7B1C8"/>
<rect x="101.0" y="552.1" width="2.0" height="1.0" fill="#B2BBD0"/>
<rect x="104.0" y="533.3" width="1.4" height="0.7" fill="#CDD3E1"/>
<rect x="124.4" y="527.7" width="2.2" height="1.1" fill="#CDD3E1"/>
<rect x="96.6" y="537.3" width="2.1" height="1.1" fill="#A0ABC4"/>
<rect x="94.6" y="520.2" width="3.0" height="1.5" fill="#D4D9E5"/>
<rect x="103.2" y="533.7" width="3.1" height="1.5" fill="#D4D9E5"/>
<rect x="124.3" y="542.9" width="2.6" height="1.3" fill="#D4D9E5"/>
<rect x="93.0" y="548.3" width="2.9" height="1.5" fill="#D4D9E5"/>
<rect x="122.7" y="555.3" width="2.3" height="1.2" fill="#A0ABC4"/>
<rect x="124.7" y="543.6" width="1.7" height="0.9" fill="#D4D9E5"/>
<rect x="86.3" y="534.4" width="3.0" height="1.5" fill="#A7B1C8"/>
<rect x="107.6" y="517.7" width="2.8" height="1.4" fill="#A0ABC4"/>
<rect x="111.8" y="570.0" width="2.5" height="1.2" fill="#CDD3E1"/>
<rect x="91.3" y="527.7" width="2.5" height="1.2" fill="#CDD3E1"/>
<rect x="127.6" y="530.8" width="2.8" height="1.4" fill="#A0ABC4"/>
<rect x="126.2" y="548.1" width="1.4" height="0.7" fill="#CDD3E1"/>
<rect x="102.0" y="568.5" width="1.6" height="0.8" fill="#CDD3E1"/>
<rect x="114.8" y="517.8" width="2.3" height="1.1" fill="#A0ABC4"/>
<rect x="130.9" y="530.4" width="3.0" height="1.5" fill="#A0ABC4"/>
<rect x="135.2" y="534.3" width="2.7" height="1.3" fill="#A0ABC4"/>
<rect x="103.9" y="552.8" width="1.5" height="0.7" fill="#A7B1C8"/>
<rect x="134.5" y="538.4" width="3.1" height="1.6" fill="#D4D9E5"/>
<rect x="115.1" y="528.0" width="1.2" height="0.6" fill="#D4D9E5"/>
<rect x="89.6" y="539.8" width="2.4" height="1.2" fill="#A0ABC4"/>
<rect x="120.9" y="518.9" width="2.5" height="1.3" fill="#A7B1C8"/>
<rect x="86.4" y="548.4" width="1.9" height="0.9" fill="#B2BBD0"/>
<rect x="90.3" y="529.2" width="3.0" height="1.5" fill="#D4D9E5"/>
<rect x="103.2" y="562.0" width="1.3" height="0.6" fill="#CDD3E1"/>
<rect x="137.3" y="551.2" width="1.4" height="0.7" fill="#A7B1C8"/>
<rect x="116.9" y="537.4" width="1.9" height="1.0" fill="#D4D9E5"/>
<ellipse cx="96.4" cy="528.6" rx="5.6" ry="2.9" transform="rotate(-55 96.4 528.6)" fill="#8ED8D6" stroke="#3FB8B8" stroke-width="0.6"/>
<ellipse cx="132.7" cy="546.7" rx="2.5" ry="5" fill="#8ED8D6" stroke="#3FB8B8" stroke-width="0.6"/>
<line x1="105.9" y1="522.6" x2="108.8" y2="523.1" stroke="#4A98D8" stroke-width="0.8" stroke-linecap="round"/><line x1="105.9" y1="522.6" x2="108.2" y2="524.3" stroke="#4A98D8" stroke-width="0.8" stroke-linecap="round"/><line x1="105.9" y1="522.6" x2="106.6" y2="525.8" stroke="#4A98D8" stroke-width="0.8" stroke-linecap="round"/><line x1="105.9" y1="522.6" x2="104.7" y2="525.6" stroke="#4A98D8" stroke-width="0.8" stroke-linecap="round"/><line x1="105.9" y1="522.6" x2="103.1" y2="524.4" stroke="#4A98D8" stroke-width="0.8" stroke-linecap="round"/><line x1="105.9" y1="522.6" x2="102.9" y2="522.9" stroke="#4A98D8" stroke-width="0.8" stroke-linecap="round"/><line x1="105.9" y1="522.6" x2="103.6" y2="521.3" stroke="#4A98D8" stroke-width="0.8" stroke-linecap="round"/><line x1="105.9" y1="522.6" x2="104.9" y2="520.3" stroke="#4A98D8" stroke-width="0.8" stroke-linecap="round"/><line x1="105.9" y1="522.6" x2="107.1" y2="520.4" stroke="#4A98D8" stroke-width="0.8" stroke-linecap="round"/><line x1="105.9" y1="522.6" x2="108.5" y2="521.3" stroke="#4A98D8" stroke-width="0.8" stroke-linecap="round"/>
<circle cx="105.9" cy="522.6" r="2.6" fill="#5AA8E0"/><circle cx="105.9" cy="522.6" r="1.3" fill="#A8D8F0"/>
<line x1="121" y1="546.7" x2="123.4" y2="546.3" stroke="#4A98D8" stroke-width="0.8" stroke-linecap="round"/><line x1="121" y1="546.7" x2="123.3" y2="549.1" stroke="#4A98D8" stroke-width="0.8" stroke-linecap="round"/><line x1="121" y1="546.7" x2="121.4" y2="548.8" stroke="#4A98D8" stroke-width="0.8" stroke-linecap="round"/><line x1="121" y1="546.7" x2="120.4" y2="549.6" stroke="#4A98D8" stroke-width="0.8" stroke-linecap="round"/><line x1="121" y1="546.7" x2="119.1" y2="547.6" stroke="#4A98D8" stroke-width="0.8" stroke-linecap="round"/><line x1="121" y1="546.7" x2="117.6" y2="546.9" stroke="#4A98D8" stroke-width="0.8" stroke-linecap="round"/><line x1="121" y1="546.7" x2="119.3" y2="545.1" stroke="#4A98D8" stroke-width="0.8" stroke-linecap="round"/><line x1="121" y1="546.7" x2="120.5" y2="544.0" stroke="#4A98D8" stroke-width="0.8" stroke-linecap="round"/><line x1="121" y1="546.7" x2="122.1" y2="543.7" stroke="#4A98D8" stroke-width="0.8" stroke-linecap="round"/><line x1="121" y1="546.7" x2="123.3" y2="544.6" stroke="#4A98D8" stroke-width="0.8" stroke-linecap="round"/>
<circle cx="121" cy="546.7" r="2.6" fill="#5AA8E0"/><circle cx="121" cy="546.7" r="1.3" fill="#A8D8F0"/>
<line x1="98.2" y1="554.3" x2="101.0" y2="554.6" stroke="#4A98D8" stroke-width="0.8" stroke-linecap="round"/><line x1="98.2" y1="554.3" x2="101.1" y2="556.0" stroke="#4A98D8" stroke-width="0.8" stroke-linecap="round"/><line x1="98.2" y1="554.3" x2="98.5" y2="557.1" stroke="#4A98D8" stroke-width="0.8" stroke-linecap="round"/><line x1="98.2" y1="554.3" x2="97.3" y2="556.3" stroke="#4A98D8" stroke-width="0.8" stroke-linecap="round"/><line x1="98.2" y1="554.3" x2="96.2" y2="555.3" stroke="#4A98D8" stroke-width="0.8" stroke-linecap="round"/><line x1="98.2" y1="554.3" x2="95.1" y2="554.5" stroke="#4A98D8" stroke-width="0.8" stroke-linecap="round"/><line x1="98.2" y1="554.3" x2="96.6" y2="553.0" stroke="#4A98D8" stroke-width="0.8" stroke-linecap="round"/><line x1="98.2" y1="554.3" x2="97.3" y2="552.3" stroke="#4A98D8" stroke-width="0.8" stroke-linecap="round"/><line x1="98.2" y1="554.3" x2="98.8" y2="552.2" stroke="#4A98D8" stroke-width="0.8" stroke-linecap="round"/><line x1="98.2" y1="554.3" x2="100.0" y2="552.4" stroke="#4A98D8" stroke-width="0.8" stroke-linecap="round"/>
<circle cx="98.2" cy="554.3" r="2.6" fill="#5AA8E0"/><circle cx="98.2" cy="554.3" r="1.3" fill="#A8D8F0"/>
<line x1="119.3" y1="536.6" x2="122.3" y2="536.4" stroke="#4AA050" stroke-width="0.8" stroke-linecap="round"/><line x1="119.3" y1="536.6" x2="121.3" y2="538.0" stroke="#4AA050" stroke-width="0.8" stroke-linecap="round"/><line x1="119.3" y1="536.6" x2="120.1" y2="539.7" stroke="#4AA050" stroke-width="0.8" stroke-linecap="round"/><line x1="119.3" y1="536.6" x2="117.9" y2="539.4" stroke="#4AA050" stroke-width="0.8" stroke-linecap="round"/><line x1="119.3" y1="536.6" x2="117.0" y2="538.6" stroke="#4AA050" stroke-width="0.8" stroke-linecap="round"/><line x1="119.3" y1="536.6" x2="115.8" y2="537.3" stroke="#4AA050" stroke-width="0.8" stroke-linecap="round"/><line x1="119.3" y1="536.6" x2="117.3" y2="534.7" stroke="#4AA050" stroke-width="0.8" stroke-linecap="round"/><line x1="119.3" y1="536.6" x2="117.9" y2="533.8" stroke="#4AA050" stroke-width="0.8" stroke-linecap="round"/><line x1="119.3" y1="536.6" x2="120.3" y2="533.3" stroke="#4AA050" stroke-width="0.8" stroke-linecap="round"/><line x1="119.3" y1="536.6" x2="121.1" y2="535.1" stroke="#4AA050" stroke-width="0.8" stroke-linecap="round"/>
<circle cx="119.3" cy="536.6" r="2.6" fill="#6AB860"/><circle cx="119.3" cy="536.6" r="1.4" fill="#B8E0A8"/>
<line x1="92" y1="544.5" x2="95.0" y2="544.0" stroke="#4AA050" stroke-width="0.8" stroke-linecap="round"/><line x1="92" y1="544.5" x2="94.5" y2="546.5" stroke="#4AA050" stroke-width="0.8" stroke-linecap="round"/><line x1="92" y1="544.5" x2="93.1" y2="547.3" stroke="#4AA050" stroke-width="0.8" stroke-linecap="round"/><line x1="92" y1="544.5" x2="91.3" y2="547.3" stroke="#4AA050" stroke-width="0.8" stroke-linecap="round"/><line x1="92" y1="544.5" x2="89.4" y2="546.5" stroke="#4AA050" stroke-width="0.8" stroke-linecap="round"/><line x1="92" y1="544.5" x2="88.9" y2="545.0" stroke="#4AA050" stroke-width="0.8" stroke-linecap="round"/><line x1="92" y1="544.5" x2="89.9" y2="542.4" stroke="#4AA050" stroke-width="0.8" stroke-linecap="round"/><line x1="92" y1="544.5" x2="91.5" y2="541.8" stroke="#4AA050" stroke-width="0.8" stroke-linecap="round"/><line x1="92" y1="544.5" x2="93.2" y2="542.0" stroke="#4AA050" stroke-width="0.8" stroke-linecap="round"/><line x1="92" y1="544.5" x2="94.4" y2="543.2" stroke="#4AA050" stroke-width="0.8" stroke-linecap="round"/>
<circle cx="92" cy="544.5" r="2.6" fill="#6AB860"/><circle cx="92" cy="544.5" r="1.4" fill="#B8E0A8"/>
<ellipse cx="128.9" cy="533.9" rx="4.1" ry="2.6" transform="rotate(22 128.9 533.9)" fill="#F8B080" stroke="#F08850" stroke-width="0.6"/>
<ellipse cx="107.1" cy="547.2" rx="4.1" ry="2.6" transform="rotate(22 107.1 547.2)" fill="#F8B080" stroke="#F08850" stroke-width="0.6"/>
<line x1="119.9" y1="525.9" x2="123.1" y2="526.2" stroke="#5AA858" stroke-width="0.9" stroke-linecap="round"/><line x1="119.9" y1="525.9" x2="122.7" y2="527.3" stroke="#5AA858" stroke-width="0.9" stroke-linecap="round"/><line x1="119.9" y1="525.9" x2="121.2" y2="529.6" stroke="#5AA858" stroke-width="0.9" stroke-linecap="round"/><line x1="119.9" y1="525.9" x2="119.9" y2="528.8" stroke="#5AA858" stroke-width="0.9" stroke-linecap="round"/><line x1="119.9" y1="525.9" x2="118.7" y2="529.2" stroke="#5AA858" stroke-width="0.9" stroke-linecap="round"/><line x1="119.9" y1="525.9" x2="116.8" y2="527.3" stroke="#5AA858" stroke-width="0.9" stroke-linecap="round"/><line x1="119.9" y1="525.9" x2="117.1" y2="526.3" stroke="#5AA858" stroke-width="0.9" stroke-linecap="round"/><line x1="119.9" y1="525.9" x2="117.1" y2="523.5" stroke="#5AA858" stroke-width="0.9" stroke-linecap="round"/><line x1="119.9" y1="525.9" x2="118.4" y2="522.8" stroke="#5AA858" stroke-width="0.9" stroke-linecap="round"/><line x1="119.9" y1="525.9" x2="120.6" y2="521.6" stroke="#5AA858" stroke-width="0.9" stroke-linecap="round"/><line x1="119.9" y1="525.9" x2="122.0" y2="522.1" stroke="#5AA858" stroke-width="0.9" stroke-linecap="round"/><line x1="119.9" y1="525.9" x2="122.4" y2="523.8" stroke="#5AA858" stroke-width="0.9" stroke-linecap="round"/>
<line x1="106.2" y1="535.7" x2="109.7" y2="535.4" stroke="#B8C040" stroke-width="1.3" stroke-linecap="round"/><line x1="106.2" y1="535.7" x2="109.0" y2="538.0" stroke="#B8C040" stroke-width="1.3" stroke-linecap="round"/><line x1="106.2" y1="535.7" x2="107.1" y2="540.8" stroke="#B8C040" stroke-width="1.3" stroke-linecap="round"/><line x1="106.2" y1="535.7" x2="104.2" y2="539.7" stroke="#B8C040" stroke-width="1.3" stroke-linecap="round"/><line x1="106.2" y1="535.7" x2="102.8" y2="537.6" stroke="#B8C040" stroke-width="1.3" stroke-linecap="round"/><line x1="106.2" y1="535.7" x2="102.1" y2="534.7" stroke="#B8C040" stroke-width="1.3" stroke-linecap="round"/><line x1="106.2" y1="535.7" x2="103.8" y2="531.3" stroke="#B8C040" stroke-width="1.3" stroke-linecap="round"/><line x1="106.2" y1="535.7" x2="107.3" y2="531.0" stroke="#B8C040" stroke-width="1.3" stroke-linecap="round"/><line x1="106.2" y1="535.7" x2="109.8" y2="532.8" stroke="#B8C040" stroke-width="1.3" stroke-linecap="round"/>
<line x1="117.2" y1="561.5" x2="121.1" y2="561.7" stroke="#B080D0" stroke-width="0.9" stroke-linecap="round"/><line x1="117.2" y1="561.5" x2="120.1" y2="562.9" stroke="#B080D0" stroke-width="0.9" stroke-linecap="round"/><line x1="117.2" y1="561.5" x2="118.1" y2="565.8" stroke="#B080D0" stroke-width="0.9" stroke-linecap="round"/><line x1="117.2" y1="561.5" x2="116.4" y2="564.4" stroke="#B080D0" stroke-width="0.9" stroke-linecap="round"/><line x1="117.2" y1="561.5" x2="114.4" y2="564.2" stroke="#B080D0" stroke-width="0.9" stroke-linecap="round"/><line x1="117.2" y1="561.5" x2="113.2" y2="562.2" stroke="#B080D0" stroke-width="0.9" stroke-linecap="round"/><line x1="117.2" y1="561.5" x2="115.2" y2="559.4" stroke="#B080D0" stroke-width="0.9" stroke-linecap="round"/><line x1="117.2" y1="561.5" x2="116.2" y2="558.3" stroke="#B080D0" stroke-width="0.9" stroke-linecap="round"/><line x1="117.2" y1="561.5" x2="118.1" y2="558.6" stroke="#B080D0" stroke-width="0.9" stroke-linecap="round"/><line x1="117.2" y1="561.5" x2="119.7" y2="559.4" stroke="#B080D0" stroke-width="0.9" stroke-linecap="round"/>
<line x1="96.9" y1="563.7" x2="101.9" y2="564.6" stroke="#A08040" stroke-width="0.7" stroke-linecap="round"/><line x1="96.9" y1="563.7" x2="100.0" y2="566.2" stroke="#A08040" stroke-width="0.7" stroke-linecap="round"/><line x1="96.9" y1="563.7" x2="98.4" y2="567.1" stroke="#A08040" stroke-width="0.7" stroke-linecap="round"/><line x1="96.9" y1="563.7" x2="97.7" y2="568.3" stroke="#A08040" stroke-width="0.7" stroke-linecap="round"/><line x1="96.9" y1="563.7" x2="94.5" y2="568.2" stroke="#A08040" stroke-width="0.7" stroke-linecap="round"/><line x1="96.9" y1="563.7" x2="93.4" y2="565.9" stroke="#A08040" stroke-width="0.7" stroke-linecap="round"/><line x1="96.9" y1="563.7" x2="92.5" y2="563.7" stroke="#A08040" stroke-width="0.7" stroke-linecap="round"/><line x1="96.9" y1="563.7" x2="92.0" y2="561.8" stroke="#A08040" stroke-width="0.7" stroke-linecap="round"/><line x1="96.9" y1="563.7" x2="94.6" y2="559.4" stroke="#A08040" stroke-width="0.7" stroke-linecap="round"/><line x1="96.9" y1="563.7" x2="96.6" y2="559.6" stroke="#A08040" stroke-width="0.7" stroke-linecap="round"/><line x1="96.9" y1="563.7" x2="99.4" y2="560.9" stroke="#A08040" stroke-width="0.7" stroke-linecap="round"/><line x1="96.9" y1="563.7" x2="101.6" y2="560.2" stroke="#A08040" stroke-width="0.7" stroke-linecap="round"/>
<circle cx="84.3" cy="536.3" r="1" fill="#D09070"/>
<circle cx="84.3" cy="538.6" r="1" fill="#D09070"/>
<circle cx="84.3" cy="540.9" r="1" fill="#D09070"/>
<circle cx="84.3" cy="543.2" r="1" fill="#D09070"/>
<circle cx="84.3" cy="545.5" r="1" fill="#D09070"/>
<circle cx="84.3" cy="547.8" r="1" fill="#D09070"/>
<path d="M105.5,554.5 L117.5,552 M110.5,554 L109.5,558.5" stroke="#E05058" stroke-width="1.6" stroke-linecap="round" fill="none"/>
<path d="M123,565.5 L128,557 M128,557 L131.5,558 M126.5,559.5 L123,556.5" stroke="#E05058" stroke-width="1.6" stroke-linecap="round" fill="none"/>
<rect x="94.3" y="581.5" width="76.40" height="60.40" fill="#F5C2B3"/>
<line x1="107" y1="581.5" x2="107" y2="641.9" stroke="#F9D8CD" stroke-width="0.6"/>
<line x1="131.6" y1="581.5" x2="131.6" y2="641.9" stroke="#F9D8CD" stroke-width="0.6"/>
<line x1="155.5" y1="581.5" x2="155.5" y2="641.9" stroke="#F9D8CD" stroke-width="0.6"/>
<line x1="94.3" y1="592.9" x2="170.7" y2="592.9" stroke="#F9D8CD" stroke-width="0.6"/>
<line x1="94.3" y1="611.8" x2="170.7" y2="611.8" stroke="#F9D8CD" stroke-width="0.6"/>
<line x1="94.3" y1="630.7" x2="170.7" y2="630.7" stroke="#F9D8CD" stroke-width="0.6"/>
<circle cx="107" cy="592.9" r="5.0" fill="#7AAFD4"/>
<circle cx="131.6" cy="592.9" r="5.2" fill="#4A80BC"/>
<circle cx="155.5" cy="592.9" r="5.6" fill="#2E3E92"/>
<circle cx="107" cy="611.8" r="5.1" fill="#4A7FBE"/>
<circle cx="131.6" cy="611.8" r="5.3" fill="#3A5DAA"/>
<circle cx="155.5" cy="611.8" r="5.6" fill="#30409A"/>
<circle cx="107" cy="630.7" r="1.0" fill="#C0302C"/>
<circle cx="131.6" cy="630.7" r="2.1" fill="#CC2E2E"/>
<circle cx="155.5" cy="630.7" r="2.5" fill="#D8413A"/>
<rect x="94.3" y="581.5" width="76.40" height="60.40" fill="none" stroke="#E0554D" stroke-width="0.9"/>
<line x1="107" y1="641.9" x2="107" y2="643.4" stroke="#888" stroke-width="0.5"/>
<line x1="131.6" y1="641.9" x2="131.6" y2="643.4" stroke="#888" stroke-width="0.5"/>
<line x1="155.5" y1="641.9" x2="155.5" y2="643.4" stroke="#888" stroke-width="0.5"/>
<text x="89.5" y="587.4" font-size="9.95" font-weight="normal" font-style="normal" text-anchor="end" fill="#231f20" font-family="Liberation Sans, sans-serif">Biofilm formation −</text>
<text x="92.9" y="595.4" font-size="9.95" font-weight="normal" font-style="italic" text-anchor="end" fill="#231f20" font-family="Liberation Sans, sans-serif">Vibrio cholerae</text>
<text x="92.4" y="606.4" font-size="9.95" font-weight="normal" font-style="normal" text-anchor="end" fill="#231f20" font-family="Liberation Sans, sans-serif">Biofilm formation −</text>
<text x="92.9" y="614.7" font-size="9.95" font-weight="normal" font-style="italic" text-anchor="end" fill="#231f20" font-family="Liberation Sans, sans-serif">Pseudomonas</text>
<text x="89.5" y="633.4" font-size="9.95" font-weight="normal" font-style="normal" text-anchor="end" fill="#231f20" font-family="Liberation Sans, sans-serif">Biofilm formation −</text>
<text x="92.9" y="641.4" font-size="9.95" font-weight="normal" font-style="italic" text-anchor="end" fill="#231f20" font-family="Liberation Sans, sans-serif">Escherichia coli</text>
<text x="29.6" y="622.2" font-size="9.95" font-weight="normal" font-style="italic" text-anchor="start" fill="#231f20" font-family="Liberation Sans, sans-serif">aeruginosa</text>
<text x="107" y="651.8" font-size="9.4" font-weight="normal" font-style="normal" text-anchor="middle" fill="#231f20" font-family="Liberation Sans, sans-serif">D1</text>
<text x="131.6" y="651.8" font-size="9.4" font-weight="normal" font-style="normal" text-anchor="middle" fill="#231f20" font-family="Liberation Sans, sans-serif">D3</text>
<text x="155.5" y="651.8" font-size="9.4" font-weight="normal" font-style="normal" text-anchor="middle" fill="#231f20" font-family="Liberation Sans, sans-serif">D6</text>
<text x="74.2" y="668.1" font-size="5.4" font-weight="bold" font-style="normal" text-anchor="middle" fill="#222" font-family="Liberation Sans, sans-serif">Relative</text>
<text x="74.2" y="675.7" font-size="5.4" font-weight="bold" font-style="normal" text-anchor="middle" fill="#222" font-family="Liberation Sans, sans-serif">abundance</text>
<text x="74.2" y="683.3000000000001" font-size="5.4" font-weight="bold" font-style="normal" text-anchor="middle" fill="#222" font-family="Liberation Sans, sans-serif">(TPM)</text>
<circle cx="98.7" cy="665.1" r="2.9" fill="#111"/>
<text x="105.7" y="666.6" font-size="4.9" font-weight="normal" font-style="normal" text-anchor="start" fill="#444" font-family="Liberation Sans, sans-serif">3000</text>
<circle cx="124.8" cy="665.1" r="4.1" fill="#111"/>
<text x="133.6" y="666.6" font-size="4.9" font-weight="normal" font-style="normal" text-anchor="start" fill="#444" font-family="Liberation Sans, sans-serif">3400</text>
<circle cx="153.6" cy="665.1" r="4.9" fill="#111"/>
<text x="163.1" y="666.6" font-size="4.9" font-weight="normal" font-style="normal" text-anchor="start" fill="#444" font-family="Liberation Sans, sans-serif">3800</text>
<linearGradient id="cb1" x1="0" x2="1" y1="0" y2="0"><stop offset="0" stop-color="#9C1B2E"/><stop offset="0.2" stop-color="#CF3B3A"/><stop offset="0.35" stop-color="#EC7A52"/><stop offset="0.5" stop-color="#F5DB92"/><stop offset="0.62" stop-color="#9ACFE0"/><stop offset="0.8" stop-color="#5B8EC4"/><stop offset="1" stop-color="#2F3C92"/></linearGradient>
<rect x="108" y="678.4" width="56.400000000000006" height="5.399999999999977" fill="url(#cb1)"/>
<text x="116" y="690.6" font-size="4.8" font-weight="normal" font-style="normal" text-anchor="start" fill="#444" font-family="Liberation Sans, sans-serif">3000</text>
<text x="130.3" y="690.6" font-size="4.8" font-weight="normal" font-style="normal" text-anchor="start" fill="#444" font-family="Liberation Sans, sans-serif">3400</text>
<text x="144.5" y="690.6" font-size="4.8" font-weight="normal" font-style="normal" text-anchor="start" fill="#444" font-family="Liberation Sans, sans-serif">3800</text>
<polygon points="258.6,513.9 271.5,514.5 271.6,513.6 259.1,510.3" fill="#9A7BC6" />
<circle cx="272.9" cy="514.2" r="1.7" fill="#9A7BC6"/>
<polygon points="255.3,519.2 266.1,526.1 266.7,525.4 257.5,516.4" fill="#9A7BC6" />
<circle cx="267.5" cy="526.6" r="1.7" fill="#9A7BC6"/>
<polygon points="249.7,522.1 255.6,533.6 256.5,533.2 253.1,520.8" fill="#9A7BC6" />
<circle cx="256.6" cy="534.7" r="1.7" fill="#9A7BC6"/>
<polygon points="243.4,521.9 242.8,534.8 243.7,534.9 247.0,522.4" fill="#9A7BC6" />
<circle cx="243.1" cy="536.2" r="1.7" fill="#9A7BC6"/>
<polygon points="238.1,518.6 231.2,529.4 231.9,530.0 240.9,520.8" fill="#9A7BC6" />
<circle cx="230.7" cy="530.8" r="1.7" fill="#9A7BC6"/>
<polygon points="235.2,513.0 223.7,518.9 224.1,519.8 236.5,516.4" fill="#9A7BC6" />
<circle cx="222.6" cy="519.9" r="1.7" fill="#9A7BC6"/>
<polygon points="235.4,506.7 222.5,506.1 222.4,507.0 234.9,510.3" fill="#9A7BC6" />
<circle cx="221.1" cy="506.4" r="1.7" fill="#9A7BC6"/>
<polygon points="238.7,501.4 227.9,494.5 227.3,495.2 236.5,504.2" fill="#9A7BC6" />
<circle cx="226.5" cy="494.0" r="1.7" fill="#9A7BC6"/>
<polygon points="244.3,498.5 238.4,487.0 237.5,487.4 240.9,499.8" fill="#9A7BC6" />
<circle cx="237.4" cy="485.9" r="1.7" fill="#9A7BC6"/>
<polygon points="250.6,498.7 251.2,485.8 250.3,485.7 247.0,498.2" fill="#9A7BC6" />
<circle cx="250.9" cy="484.4" r="1.7" fill="#9A7BC6"/>
<polygon points="255.9,502.0 262.8,491.2 262.1,490.6 253.1,499.8" fill="#9A7BC6" />
<circle cx="263.3" cy="489.8" r="1.7" fill="#9A7BC6"/>
<polygon points="258.8,507.6 270.3,501.7 269.9,500.8 257.5,504.2" fill="#9A7BC6" />
<circle cx="271.4" cy="500.7" r="1.7" fill="#9A7BC6"/>
<circle cx="247" cy="510.3" r="14.5" fill="#9A7BC6"/>
<circle cx="249.2" cy="500.0" r="3.4" fill="#7E5BB0"/>
<circle cx="236.8" cy="508.8" r="4.2" fill="#7E5BB0"/>
<circle cx="255" cy="512.4" r="4.3" fill="#7E5BB0"/>
<circle cx="246.3" cy="520.5" r="3.5" fill="#7E5BB0"/>
<circle cx="238.5" cy="504.3" r="0.9" fill="#F5D350"/>
<circle cx="241" cy="501.8" r="0.9" fill="#F5D350"/>
<circle cx="243.8" cy="500.3" r="0.9" fill="#F5D350"/>
<circle cx="247" cy="499.3" r="0.9" fill="#F5D350"/>
<circle cx="236" cy="511.8" r="0.9" fill="#F5D350"/>
<circle cx="237" cy="515.3" r="0.9" fill="#F5D350"/>
<circle cx="239.5" cy="517.8" r="0.9" fill="#F5D350"/>
<circle cx="255.5" cy="517.3" r="0.9" fill="#F5D350"/>
<circle cx="253" cy="519.8" r="0.9" fill="#F5D350"/>
<path d="M247.5,511.3 q2,-7 8,-7 M249.5,512.3 q2,-5 6.5,-5.5" stroke="#F8EDB0" stroke-width="0.8" fill="none"/>
<circle cx="244.5" cy="513.3" r="0.7" fill="#FFF8E0"/>
<circle cx="246" cy="515.3" r="0.7" fill="#FFF8E0"/>
<circle cx="248.2" cy="513.8" r="0.7" fill="#FFF8E0"/>
<circle cx="244" cy="516.8" r="0.7" fill="#FFF8E0"/>
<circle cx="248" cy="503.3" r="0.7" fill="#FFF8E0"/>
<circle cx="253" cy="502.8" r="0.7" fill="#FFF8E0"/>
<g transform="rotate(11 294.9 494.8)">
<line x1="316.4" y1="494.8" x2="321.2" y2="494.8" stroke="#EE7460" stroke-width="1.9" stroke-linecap="round"/>
<line x1="315.1" y1="498.4" x2="318.9" y2="501.2" stroke="#EE7460" stroke-width="1.9" stroke-linecap="round"/>
<line x1="311.4" y1="501.5" x2="313.8" y2="505.6" stroke="#EE7460" stroke-width="1.9" stroke-linecap="round"/>
<line x1="305.6" y1="503.8" x2="306.9" y2="508.4" stroke="#EE7460" stroke-width="1.9" stroke-linecap="round"/>
<line x1="298.6" y1="505.0" x2="299.0" y2="509.8" stroke="#EE7460" stroke-width="1.9" stroke-linecap="round"/>
<line x1="291.2" y1="505.0" x2="290.8" y2="509.8" stroke="#EE7460" stroke-width="1.9" stroke-linecap="round"/>
<line x1="284.1" y1="503.8" x2="282.9" y2="508.4" stroke="#EE7460" stroke-width="1.9" stroke-linecap="round"/>
<line x1="278.4" y1="501.5" x2="276.0" y2="505.6" stroke="#EE7460" stroke-width="1.9" stroke-linecap="round"/>
<line x1="274.7" y1="498.4" x2="270.9" y2="501.2" stroke="#EE7460" stroke-width="1.9" stroke-linecap="round"/>
<line x1="273.4" y1="494.8" x2="268.6" y2="494.8" stroke="#EE7460" stroke-width="1.9" stroke-linecap="round"/>
<line x1="274.7" y1="491.2" x2="270.9" y2="488.4" stroke="#EE7460" stroke-width="1.9" stroke-linecap="round"/>
<line x1="278.4" y1="488.1" x2="276.0" y2="484.0" stroke="#EE7460" stroke-width="1.9" stroke-linecap="round"/>
<line x1="284.1" y1="485.8" x2="282.9" y2="481.2" stroke="#EE7460" stroke-width="1.9" stroke-linecap="round"/>
<line x1="291.2" y1="484.6" x2="290.8" y2="479.8" stroke="#EE7460" stroke-width="1.9" stroke-linecap="round"/>
<line x1="298.6" y1="484.6" x2="299.0" y2="479.8" stroke="#EE7460" stroke-width="1.9" stroke-linecap="round"/>
<line x1="305.6" y1="485.8" x2="306.9" y2="481.2" stroke="#EE7460" stroke-width="1.9" stroke-linecap="round"/>
<line x1="311.4" y1="488.1" x2="313.8" y2="484.0" stroke="#EE7460" stroke-width="1.9" stroke-linecap="round"/>
<line x1="315.1" y1="491.2" x2="318.9" y2="488.4" stroke="#EE7460" stroke-width="1.9" stroke-linecap="round"/>
<ellipse cx="294.9" cy="494.8" rx="21.5" ry="10.4" fill="#EE7460"/>
<ellipse cx="294.9" cy="494.8" rx="19.9" ry="8.8" fill="#F08068"/>
<ellipse cx="294.9" cy="494.8" rx="18.5" ry="7.6" fill="#E8604A"/><circle cx="295.4" cy="496.0" r="4.6" fill="#F2CB3A"/><circle cx="281.4" cy="493.3" r="2.9" fill="#3FA0DA"/><circle cx="308.7" cy="496.0" r="2.9" fill="#3FA0DA"/><path d="M287.9,489.8 q4,-3 10,-1 M288.4,491.8 q4,-2.5 9,-0.5" stroke="#F8E08A" stroke-width="0.7" fill="none"/><circle cx="285.9" cy="497.8" r="0.8" fill="#F8E08A"/><circle cx="287.9" cy="499.8" r="0.8" fill="#F8E08A"/><circle cx="302.9" cy="491.8" r="0.8" fill="#F8E08A"/><circle cx="303.9" cy="493.8" r="0.8" fill="#F8E08A"/><path d="M299.9,499.3 h5 M299.9,500.8 h5" stroke="#F8E08A" stroke-width="0.6"/>
</g>
<circle cx="263.5" cy="481.8" r="3.6" fill="#F2CE45"/>
<rect x="201.6" y="511.4" width="12" height="5" rx="2.5" fill="#E0325A" transform="rotate(-40 207.6 513.9)"/>
<g transform="rotate(18 206.9 548.5)">
<line x1="219.4" y1="548.5" x2="224.4" y2="548.5" stroke="#22A07A" stroke-width="1.6" stroke-linecap="round"/>
<line x1="219.0" y1="553.8" x2="223.9" y2="554.6" stroke="#22A07A" stroke-width="1.6" stroke-linecap="round"/>
<line x1="217.7" y1="558.8" x2="222.4" y2="560.4" stroke="#22A07A" stroke-width="1.6" stroke-linecap="round"/>
<line x1="215.7" y1="563.0" x2="220.0" y2="565.6" stroke="#22A07A" stroke-width="1.6" stroke-linecap="round"/>
<line x1="213.2" y1="566.3" x2="216.6" y2="569.9" stroke="#22A07A" stroke-width="1.6" stroke-linecap="round"/>
<line x1="210.1" y1="568.3" x2="212.1" y2="572.9" stroke="#22A07A" stroke-width="1.6" stroke-linecap="round"/>
<line x1="206.9" y1="569.0" x2="206.9" y2="574.0" stroke="#22A07A" stroke-width="1.6" stroke-linecap="round"/>
<line x1="203.7" y1="568.3" x2="201.7" y2="572.9" stroke="#22A07A" stroke-width="1.6" stroke-linecap="round"/>
<line x1="200.7" y1="566.3" x2="197.2" y2="569.9" stroke="#22A07A" stroke-width="1.6" stroke-linecap="round"/>
<line x1="198.1" y1="563.0" x2="193.8" y2="565.6" stroke="#22A07A" stroke-width="1.6" stroke-linecap="round"/>
<line x1="196.1" y1="558.8" x2="191.4" y2="560.4" stroke="#22A07A" stroke-width="1.6" stroke-linecap="round"/>
<line x1="194.8" y1="553.8" x2="189.9" y2="554.6" stroke="#22A07A" stroke-width="1.6" stroke-linecap="round"/>
<line x1="194.4" y1="548.5" x2="189.4" y2="548.5" stroke="#22A07A" stroke-width="1.6" stroke-linecap="round"/>
<line x1="194.8" y1="543.2" x2="189.9" y2="542.4" stroke="#22A07A" stroke-width="1.6" stroke-linecap="round"/>
<line x1="196.1" y1="538.2" x2="191.4" y2="536.6" stroke="#22A07A" stroke-width="1.6" stroke-linecap="round"/>
<line x1="198.1" y1="534.0" x2="193.8" y2="531.4" stroke="#22A07A" stroke-width="1.6" stroke-linecap="round"/>
<line x1="200.7" y1="530.7" x2="197.2" y2="527.1" stroke="#22A07A" stroke-width="1.6" stroke-linecap="round"/>
<line x1="203.7" y1="528.7" x2="201.7" y2="524.1" stroke="#22A07A" stroke-width="1.6" stroke-linecap="round"/>
<line x1="206.9" y1="528.0" x2="206.9" y2="523.0" stroke="#22A07A" stroke-width="1.6" stroke-linecap="round"/>
<line x1="210.1" y1="528.7" x2="212.1" y2="524.1" stroke="#22A07A" stroke-width="1.6" stroke-linecap="round"/>
<line x1="213.2" y1="530.7" x2="216.6" y2="527.1" stroke="#22A07A" stroke-width="1.6" stroke-linecap="round"/>
<line x1="215.7" y1="534.0" x2="220.0" y2="531.4" stroke="#22A07A" stroke-width="1.6" stroke-linecap="round"/>
<line x1="217.7" y1="538.2" x2="222.4" y2="536.6" stroke="#22A07A" stroke-width="1.6" stroke-linecap="round"/>
<line x1="219.0" y1="543.2" x2="223.9" y2="542.4" stroke="#22A07A" stroke-width="1.6" stroke-linecap="round"/>
<ellipse cx="206.9" cy="548.5" rx="12.5" ry="20.5" fill="#22A07A"/>
<ellipse cx="206.9" cy="548.5" rx="10.9" ry="18.9" fill="#2A7D55"/>
<ellipse cx="206.9" cy="548.5" rx="9.5" ry="17" fill="#2A7D55"/><circle cx="205.9" cy="545.5" r="2.6" fill="#F8F0C0"/><circle cx="209.9" cy="536.5" r="2.2" fill="#F8F0C0"/><circle cx="202.9" cy="556.5" r="1.2" fill="#E8E080"/><circle cx="204.9" cy="558.5" r="1.2" fill="#E8E080"/><circle cx="210.9" cy="557.5" r="1" fill="#E8E080"/><circle cx="206.9" cy="555.5" r="1" fill="#E8E080"/>
</g>
<rect x="265.4" y="526.2" width="13" height="6" rx="3.0" fill="#48B2E6" transform="rotate(-55 271.9 529.2)"/>
<ellipse cx="273" cy="527.5" rx="3.5" ry="1.1" transform="rotate(-55 273 527.5)" fill="#A8E0F8"/>
<rect x="221.5" y="543.5" width="13" height="5" rx="2.5" fill="#E0325A" transform="rotate(-65 228 546)"/>
<rect x="230.3" y="540.6" width="13" height="5" rx="2.5" fill="#E0325A" transform="rotate(-50 236.8 543.1)"/>
<circle cx="227.3" cy="568.0" r="5.3" fill="#F2CE45"/>
<circle cx="234.6" cy="560.0" r="5.3" fill="#F2CE45"/>
<circle cx="242.7" cy="553.4" r="5.3" fill="#F2CE45"/>
<circle cx="250.7" cy="546.8" r="5.3" fill="#F2CE45"/>
<circle cx="260.2" cy="541.0" r="5.3" fill="#F2CE45"/>
<g transform="rotate(-39.6 263.5 561.6)">
<path d="M253.0,565.4 c-1,3 -4,5 -5,6 s-2,3 -1,5" fill="none" stroke="#9068B8" stroke-width="0.75"/>
<path d="M253.0,557.9 c-2,-3 -5,-4 -7,-5 s-3,-2 -5,-2" fill="none" stroke="#9068B8" stroke-width="0.75"/>
<path d="M256.5,565.4 c-1,3 -4,5 -5,6 s-2,3 -1,5" fill="none" stroke="#9068B8" stroke-width="0.75"/>
<path d="M256.5,557.9 c-2,-3 -5,-4 -7,-5 s-3,-2 -5,-2" fill="none" stroke="#9068B8" stroke-width="0.75"/>
<path d="M260.0,565.4 c-1,3 -4,5 -5,6 s-2,3 -1,5" fill="none" stroke="#9068B8" stroke-width="0.75"/>
<path d="M260.0,557.9 c-2,-3 -5,-4 -7,-5 s-3,-2 -5,-2" fill="none" stroke="#9068B8" stroke-width="0.75"/>
<path d="M263.5,565.4 c-1,3 -4,5 -5,6 s-2,3 -1,5" fill="none" stroke="#9068B8" stroke-width="0.75"/>
<path d="M263.5,557.9 c-2,-3 -5,-4 -7,-5 s-3,-2 -5,-2" fill="none" stroke="#9068B8" stroke-width="0.75"/>
<path d="M267.0,565.4 c-1,3 -4,5 -5,6 s-2,3 -1,5" fill="none" stroke="#9068B8" stroke-width="0.75"/>
<path d="M267.0,557.9 c-2,-3 -5,-4 -7,-5 s-3,-2 -5,-2" fill="none" stroke="#9068B8" stroke-width="0.75"/>
<path d="M270.5,565.4 c-1,3 -4,5 -5,6 s-2,3 -1,5" fill="none" stroke="#9068B8" stroke-width="0.75"/>
<path d="M270.5,557.9 c-2,-3 -5,-4 -7,-5 s-3,-2 -5,-2" fill="none" stroke="#9068B8" stroke-width="0.75"/>
<path d="M274.0,565.4 c-1,3 -4,5 -5,6 s-2,3 -1,5" fill="none" stroke="#9068B8" stroke-width="0.75"/>
<path d="M274.0,557.9 c-2,-3 -5,-4 -7,-5 s-3,-2 -5,-2" fill="none" stroke="#9068B8" stroke-width="0.75"/>
<path d="M276.0,559.6 c3,-3 5,-6 6,-9 s2,-3 4,-3" fill="none" stroke="#9068B8" stroke-width="0.75"/>
<path d="M276.0,562.6 c4,-1 7,-3 9,-5 s1,-4 2,-6" fill="none" stroke="#9068B8" stroke-width="0.75"/>
<rect x="249.0" y="556.9" width="29" height="9.5" rx="4.75" fill="#9068B8"/>
</g>
<g transform="rotate(-26.6 292.7 528.1)">
<path d="M302.7,526.8 c4,-3.0 7,0.1 11,-2.9 s7,-3.0 11,-3.9" fill="none" stroke="#D42A58" stroke-width="0.5"/>
<path d="M302.7,527.3 c4,-2.6 7,0.8 11,-1.8 s7,-2.6 11,-2.3" fill="none" stroke="#D42A58" stroke-width="0.5"/>
<path d="M302.7,527.8 c4,-2.2 7,1.6 11,-0.6 s7,-2.2 11,-0.8" fill="none" stroke="#D42A58" stroke-width="0.5"/>
<path d="M302.7,528.4 c4,-1.8 7,2.4 11,0.6 s7,-1.8 11,0.8" fill="none" stroke="#D42A58" stroke-width="0.5"/>
<path d="M302.7,528.9 c4,-1.4 7,3.2 11,1.8 s7,-1.4 11,2.3" fill="none" stroke="#D42A58" stroke-width="0.5"/>
<path d="M302.7,529.4 c4,-1.0 7,4.0 11,2.9 s7,-1.0 11,3.9" fill="none" stroke="#D42A58" stroke-width="0.5"/>
<path d="M283.7,523.85 c2,-4 6,-6 10,-6.5 s5,0 8,-1" fill="none" stroke="#D42A58" stroke-width="0.45"/>
<path d="M286.9,523.85 c2,-4 6,-6 10,-6.5 s5,0 8,-1" fill="none" stroke="#D42A58" stroke-width="0.45"/>
<path d="M290.1,523.85 c2,-4 6,-6 10,-6.5 s5,0 8,-1" fill="none" stroke="#D42A58" stroke-width="0.45"/>
<path d="M293.3,523.85 c2,-4 6,-6 10,-6.5 s5,0 8,-1" fill="none" stroke="#D42A58" stroke-width="0.45"/>
<path d="M296.5,523.85 c2,-4 6,-6 10,-6.5 s5,0 8,-1" fill="none" stroke="#D42A58" stroke-width="0.45"/>
<path d="M284.95,522.85 L302.2,524.6 A3.5,3.5 0 0 1 302.2,531.6 L284.95,533.35 A5.25,5.25 0 0 1 284.95,522.85 Z" fill="#DC2E5C"/>
<path d="M282.7,529.9 Q290.7,531.0 299.7,528.8" stroke="#F06A8E" stroke-width="1.3" stroke-linecap="round" fill="none"/>
</g>
<g stroke="#4DB8E8" stroke-width="5.5" stroke-linecap="round" fill="none"><path d="M277.8,539.8 L324.9,561"/><path d="M309.9,539.7 L296,562.3"/><path d="M328.2,521 L338.4,561.6"/><path d="M321.6,533.9 L335.5,533.9"/><path d="M321.6,546.3 L347.9,544.1"/></g>
<g stroke="#6DC043" stroke-width="4.2" stroke-linecap="round" fill="none"><path d="M339.5,503.5 Q346.5,507.5 351.3,517"/><path d="M341.3,521.5 Q349.5,526.5 353.5,536"/><path d="M355.5,524 Q361,531 362.8,541"/><path d="M354.3,541.5 Q352,552 345.7,558"/><path d="M361.5,554.3 Q359.5,565 353,571"/></g>
<rect x="321.3" y="496.0" width="13" height="5" rx="2.5" fill="#E0325A" transform="rotate(75 327.8 498.5)"/>
<rect x="328.5" y="507.6" width="13" height="5" rx="2.5" fill="#E0325A" transform="rotate(30 335 510.1)"/>
<circle cx="370.8" cy="564.5" r="5.2" fill="#9C7CC8"/>
<circle cx="191.6" cy="576" r="3.9" fill="#9C7CC8"/>
<g transform="rotate(-15.5 316.9 578.2)">
<path d="M327.4,576.9 c4,-3.0 7,0.1 11,-2.9 s7,-3.0 11,-3.9" fill="none" stroke="#D42A58" stroke-width="0.5"/>
<path d="M327.4,577.4 c4,-2.6 7,0.8 11,-1.8 s7,-2.6 11,-2.3" fill="none" stroke="#D42A58" stroke-width="0.5"/>
<path d="M327.4,577.9 c4,-2.2 7,1.6 11,-0.6 s7,-2.2 11,-0.8" fill="none" stroke="#D42A58" stroke-width="0.5"/>
<path d="M327.4,578.5 c4,-1.8 7,2.4 11,0.6 s7,-1.8 11,0.8" fill="none" stroke="#D42A58" stroke-width="0.5"/>
<path d="M327.4,579.0 c4,-1.4 7,3.2 11,1.8 s7,-1.4 11,2.3" fill="none" stroke="#D42A58" stroke-width="0.5"/>
<path d="M327.4,579.5 c4,-1.0 7,4.0 11,2.9 s7,-1.0 11,3.9" fill="none" stroke="#D42A58" stroke-width="0.5"/>
<path d="M307.4,573.7 c2,-4 6,-6 10,-6.5 s5,0 8,-1" fill="none" stroke="#D42A58" stroke-width="0.45"/>
<path d="M310.6,573.7 c2,-4 6,-6 10,-6.5 s5,0 8,-1" fill="none" stroke="#D42A58" stroke-width="0.45"/>
<path d="M313.8,573.7 c2,-4 6,-6 10,-6.5 s5,0 8,-1" fill="none" stroke="#D42A58" stroke-width="0.45"/>
<path d="M317.0,573.7 c2,-4 6,-6 10,-6.5 s5,0 8,-1" fill="none" stroke="#D42A58" stroke-width="0.45"/>
<path d="M320.2,573.7 c2,-4 6,-6 10,-6.5 s5,0 8,-1" fill="none" stroke="#D42A58" stroke-width="0.45"/>
<path d="M308.9,572.7 L326.7333333333333,574.5333333333334 A3.6666666666666665,3.6666666666666665 0 0 1 326.7333333333333,581.8666666666667 L308.9,583.7 A5.5,5.5 0 0 1 308.9,572.7 Z" fill="#DC2E5C"/>
<path d="M306.4,580.1 Q314.9,581.2 324.4,578.9" stroke="#F06A8E" stroke-width="1.3" stroke-linecap="round" fill="none"/>
</g>
<line x1="222.7" y1="600.1" x2="200.8" y2="586.1" stroke="#3BB6C8" stroke-width="1.6"/>
<circle cx="200.8" cy="586.1" r="4" fill="#3BB6C8"/>
<line x1="222.7" y1="600.1" x2="195.5" y2="598.9" stroke="#3BB6C8" stroke-width="1.6"/>
<circle cx="195.5" cy="598.9" r="4.5" fill="#3BB6C8"/>
<line x1="222.7" y1="600.1" x2="200.8" y2="610.1" stroke="#3BB6C8" stroke-width="1.6"/>
<circle cx="200.8" cy="610.1" r="3.3" fill="#3BB6C8"/>
<line x1="222.7" y1="600.1" x2="208.7" y2="618.2" stroke="#3BB6C8" stroke-width="1.6"/>
<circle cx="208.7" cy="618.2" r="3.3" fill="#3BB6C8"/>
<line x1="222.7" y1="600.1" x2="213.9" y2="628.2" stroke="#3BB6C8" stroke-width="1.6"/>
<circle cx="213.9" cy="628.2" r="3.3" fill="#3BB6C8"/>
<line x1="222.7" y1="600.1" x2="227" y2="622.9" stroke="#3BB6C8" stroke-width="1.6"/>
<circle cx="227" cy="622.9" r="4.5" fill="#3BB6C8"/>
<line x1="222.7" y1="600.1" x2="237.6" y2="614.2" stroke="#3BB6C8" stroke-width="1.6"/>
<circle cx="237.6" cy="614.2" r="3.5" fill="#3BB6C8"/>
<line x1="222.7" y1="600.1" x2="247.2" y2="611.2" stroke="#3BB6C8" stroke-width="1.6"/>
<circle cx="247.2" cy="611.2" r="3.2" fill="#3BB6C8"/>
<line x1="222.7" y1="600.1" x2="246.3" y2="596.6" stroke="#3BB6C8" stroke-width="1.6"/>
<circle cx="246.3" cy="596.6" r="3.5" fill="#3BB6C8"/>
<line x1="222.7" y1="600.1" x2="241" y2="581.8" stroke="#3BB6C8" stroke-width="1.6"/>
<circle cx="241" cy="581.8" r="4" fill="#3BB6C8"/>
<line x1="222.7" y1="600.1" x2="226.6" y2="577.4" stroke="#3BB6C8" stroke-width="1.6"/>
<circle cx="226.6" cy="577.4" r="3.3" fill="#3BB6C8"/>
<line x1="222.7" y1="600.1" x2="212" y2="575.3" stroke="#3BB6C8" stroke-width="1.6"/>
<circle cx="212" cy="575.3" r="5" fill="#3BB6C8"/>
<line x1="222.7" y1="600.1" x2="240.5" y2="580.4" stroke="#3BB6C8" stroke-width="1.6"/>
<circle cx="240.5" cy="580.4" r="4.5" fill="#3BB6C8"/>
<circle cx="222.7" cy="600.1" r="13.8" fill="#3BB6C8"/>
<circle cx="232.7" cy="603.2" r="3.2" fill="#5DC8D6"/>
<circle cx="227.6" cy="609.4" r="3.2" fill="#5DC8D6"/>
<circle cx="219.6" cy="610.1" r="3.2" fill="#5DC8D6"/>
<circle cx="213.4" cy="605.0" r="3.2" fill="#5DC8D6"/>
<circle cx="212.7" cy="597.0" r="3.2" fill="#5DC8D6"/>
<circle cx="217.8" cy="590.8" r="3.2" fill="#5DC8D6"/>
<circle cx="225.8" cy="590.1" r="3.2" fill="#5DC8D6"/>
<circle cx="232.0" cy="595.2" r="3.2" fill="#5DC8D6"/>
<circle cx="223.7" cy="601.1" r="8" fill="#3BB6C8"/>
<circle cx="272.3" cy="592.1" r="4.6" fill="#2A9470" stroke="#1F7A58" stroke-width="0.6"/>
<circle cx="272.5" cy="586.2" r="4.6" fill="#2A9470" stroke="#1F7A58" stroke-width="0.6"/>
<circle cx="267.5" cy="587.1" r="4.6" fill="#2A9470" stroke="#1F7A58" stroke-width="0.6"/>
<circle cx="282.0" cy="591.1" r="4.6" fill="#2A9470" stroke="#1F7A58" stroke-width="0.6"/>
<circle cx="281.7" cy="590.1" r="4.6" fill="#2A9470" stroke="#1F7A58" stroke-width="0.6"/>
<circle cx="277.4" cy="589.8" r="4.6" fill="#2A9470" stroke="#1F7A58" stroke-width="0.6"/>
<circle cx="265.0" cy="592.8" r="4.6" fill="#2A9470" stroke="#1F7A58" stroke-width="0.6"/>
<circle cx="278.2" cy="591.9" r="4.6" fill="#2A9470" stroke="#1F7A58" stroke-width="0.6"/>
<circle cx="266.5" cy="581.3" r="4.6" fill="#2A9470" stroke="#1F7A58" stroke-width="0.6"/>
<circle cx="267.9" cy="585.5" r="4.6" fill="#2A9470" stroke="#1F7A58" stroke-width="0.6"/>
<circle cx="276.8" cy="588.2" r="4.6" fill="#2A9470" stroke="#1F7A58" stroke-width="0.6"/>
<circle cx="278.2" cy="584.2" r="4.6" fill="#2A9470" stroke="#1F7A58" stroke-width="0.6"/>
<circle cx="276.7" cy="591.3" r="4.6" fill="#2A9470" stroke="#1F7A58" stroke-width="0.6"/>
<circle cx="270.6" cy="597.2" r="4.6" fill="#2A9470" stroke="#1F7A58" stroke-width="0.6"/>
<circle cx="278.0" cy="595.7" r="4.6" fill="#2A9470" stroke="#1F7A58" stroke-width="0.6"/>
<circle cx="269.8" cy="583.7" r="4.6" fill="#2A9470" stroke="#1F7A58" stroke-width="0.6"/>
<circle cx="271.5" cy="587.7" r="4.6" fill="#2A9470" stroke="#1F7A58" stroke-width="0.6"/>
<circle cx="279.2" cy="590.2" r="4.6" fill="#2A9470" stroke="#1F7A58" stroke-width="0.6"/>
<circle cx="271.1" cy="582.4" r="4.6" fill="#2A9470" stroke="#1F7A58" stroke-width="0.6"/>
<circle cx="270.8" cy="595.8" r="4.6" fill="#2A9470" stroke="#1F7A58" stroke-width="0.6"/>
<circle cx="268.3" cy="590.1" r="4.6" fill="#2A9470" stroke="#1F7A58" stroke-width="0.6"/>
<circle cx="276.9" cy="580.2" r="4.6" fill="#2A9470" stroke="#1F7A58" stroke-width="0.6"/>
<circle cx="274.6" cy="596.3" r="4.6" fill="#2A9470" stroke="#1F7A58" stroke-width="0.6"/>
<circle cx="263.7" cy="587.0" r="4.6" fill="#2A9470" stroke="#1F7A58" stroke-width="0.6"/>
<circle cx="273.5" cy="583.0" r="4.6" fill="#2A9470" stroke="#1F7A58" stroke-width="0.6"/>
<circle cx="278.2" cy="588.1" r="4.6" fill="#2A9470" stroke="#1F7A58" stroke-width="0.6"/>
<polygon points="312.9,606.5 322.1,604.1 312.7,603.1" fill="#E8735E" />
<polygon points="311.3,610.5 318.9,612.0 312.7,607.4" fill="#E8735E" />
<polygon points="309.4,612.4 316.6,616.7 311.7,609.9" fill="#E8735E" />
<polygon points="306.3,613.9 311.6,621.5 309.3,612.5" fill="#E8735E" />
<polygon points="304.0,614.2 306.9,620.7 307.4,613.6" fill="#E8735E" />
<polygon points="299.7,612.9 298.6,621.1 302.9,614.1" fill="#E8735E" />
<polygon points="297.4,610.9 294.3,617.2 300.0,613.1" fill="#E8735E" />
<polygon points="296.0,608.6 289.4,614.8 297.8,611.4" fill="#E8735E" />
<polygon points="295.4,605.8 286.5,609.7 296.2,609.1" fill="#E8735E" />
<polygon points="296.3,601.5 289.3,601.3 295.5,604.8" fill="#E8735E" />
<polygon points="297.2,600.1 289.0,597.9 295.7,603.1" fill="#E8735E" />
<polygon points="301.1,597.2 295.4,591.4 298.2,599.0" fill="#E8735E" />
<polygon points="303.0,596.7 298.7,589.7 299.8,597.8" fill="#E8735E" />
<polygon points="305.9,596.8 304.2,589.3 302.5,596.8" fill="#E8735E" />
<polygon points="309.5,598.4 311.5,590.2 306.4,596.9" fill="#E8735E" />
<polygon points="311.4,600.5 315.5,593.9 309.0,598.1" fill="#E8735E" />
<polygon points="312.7,603.4 319.5,598.5 311.3,600.3" fill="#E8735E" />
<circle cx="304.2" cy="605.4" r="9.6" fill="#EA7A66"/>
<circle cx="303.9" cy="606.4" r="1.8" fill="#CB3B4B"/>
<circle cx="299.0" cy="603.5" r="1.2" fill="#CB3B4B"/>
<circle cx="310.6" cy="605.1" r="1.1" fill="#CB3B4B"/>
<circle cx="301.3" cy="610.5" r="1.6" fill="#CB3B4B"/>
<circle cx="308.3" cy="603.7" r="1.7" fill="#CB3B4B"/>
<circle cx="302.4" cy="602.1" r="1.5" fill="#CB3B4B"/>
<circle cx="308.9" cy="601.1" r="1.5" fill="#CB3B4B"/>
<circle cx="303.1" cy="604.7" r="1.2" fill="#CB3B4B"/>
<circle cx="305.5" cy="601.1" r="1.2" fill="#CB3B4B"/>
<circle cx="300.4" cy="604.2" r="0.6" fill="#F8EC9A"/>
<circle cx="302.9" cy="602.8" r="0.6" fill="#F8EC9A"/>
<circle cx="301.0" cy="606.7" r="0.6" fill="#F8EC9A"/>
<circle cx="304.8" cy="602.0" r="0.6" fill="#F8EC9A"/>
<circle cx="301.6" cy="607.5" r="0.6" fill="#F8EC9A"/>
<circle cx="305.2" cy="605.6" r="0.6" fill="#F8EC9A"/>
<circle cx="302.8" cy="600.8" r="0.6" fill="#F8EC9A"/>
<circle cx="301.7" cy="603.7" r="0.6" fill="#F8EC9A"/>
<polygon points="293.1,636.9 302.2,636.0 293.4,633.5" fill="#E8735E" />
<polygon points="292.4,638.8 298.9,638.9 293.4,635.5" fill="#E8735E" />
<polygon points="288.9,642.8 295.9,647.6 291.4,640.5" fill="#E8735E" />
<polygon points="285.8,644.3 290.2,649.9 288.9,642.9" fill="#E8735E" />
<polygon points="282.1,644.6 284.4,652.3 285.5,644.4" fill="#E8735E" />
<polygon points="278.5,643.6 278.3,650.3 281.8,644.6" fill="#E8735E" />
<polygon points="275.7,641.5 272.8,648.3 278.4,643.5" fill="#E8735E" />
<polygon points="273.4,637.8 266.3,643.7 275.0,640.8" fill="#E8735E" />
<polygon points="272.8,633.6 265.3,636.0 273.1,637.0" fill="#E8735E" />
<polygon points="273.3,630.9 266.3,631.4 272.8,634.2" fill="#E8735E" />
<polygon points="274.7,628.2 268.5,627.1 273.2,631.3" fill="#E8735E" />
<polygon points="278.2,625.2 272.6,620.7 275.5,627.2" fill="#E8735E" />
<polygon points="281.7,624.1 277.5,616.2 278.5,625.1" fill="#E8735E" />
<polygon points="285.8,624.3 284.8,616.4 282.4,624.0" fill="#E8735E" />
<polygon points="288.7,625.6 289.6,619.4 285.6,624.3" fill="#E8735E" />
<polygon points="291.6,628.4 295.0,622.7 289.2,626.0" fill="#E8735E" />
<polygon points="293.2,632.2 301.1,627.4 292.0,629.0" fill="#E8735E" />
<circle cx="283.1" cy="634.3" r="11.2" fill="#EA7A66"/>
<circle cx="281.5" cy="631.2" r="1.8" fill="#CB3B4B"/>
<circle cx="285.1" cy="627.7" r="1.8" fill="#CB3B4B"/>
<circle cx="283.7" cy="627.2" r="1.3" fill="#CB3B4B"/>
<circle cx="291.0" cy="633.4" r="1.1" fill="#CB3B4B"/>
<circle cx="283.3" cy="627.5" r="1.4" fill="#CB3B4B"/>
<circle cx="277.6" cy="633.2" r="1.8" fill="#CB3B4B"/>
<circle cx="275.7" cy="634.3" r="1.3" fill="#CB3B4B"/>
<circle cx="288.8" cy="629.2" r="1.4" fill="#CB3B4B"/>
<circle cx="276.1" cy="631.1" r="1.7" fill="#CB3B4B"/>
<circle cx="280.5" cy="634.5" r="0.6" fill="#F8EC9A"/>
<circle cx="281.0" cy="638.5" r="0.6" fill="#F8EC9A"/>
<circle cx="285.8" cy="638.9" r="0.6" fill="#F8EC9A"/>
<circle cx="282.5" cy="639.6" r="0.6" fill="#F8EC9A"/>
<circle cx="281.1" cy="639.4" r="0.6" fill="#F8EC9A"/>
<circle cx="282.0" cy="630.5" r="0.6" fill="#F8EC9A"/>
<circle cx="278.6" cy="633.8" r="0.6" fill="#F8EC9A"/>
<circle cx="280.4" cy="632.7" r="0.6" fill="#F8EC9A"/>
<polygon points="322.9,635.5 330.3,633.4 322.7,632.1" fill="#E8735E" />
<polygon points="321.7,638.9 329.5,639.9 322.8,635.7" fill="#E8735E" />
<polygon points="319.1,641.8 324.7,644.8 321.5,639.3" fill="#E8735E" />
<polygon points="317.1,642.8 323.0,649.0 320.0,641.0" fill="#E8735E" />
<polygon points="313.4,643.4 316.0,649.8 316.7,643.0" fill="#E8735E" />
<polygon points="308.9,642.0 307.8,649.5 312.1,643.3" fill="#E8735E" />
<polygon points="306.6,640.0 303.1,646.6 309.2,642.2" fill="#E8735E" />
<polygon points="305.2,637.4 300.5,642.0 306.9,640.3" fill="#E8735E" />
<polygon points="304.6,634.0 296.5,637.0 305.2,637.4" fill="#E8735E" />
<polygon points="305.3,630.9 297.0,631.1 304.6,634.3" fill="#E8735E" />
<polygon points="307.3,627.9 301.2,625.9 305.4,630.7" fill="#E8735E" />
<polygon points="310.2,625.9 304.5,620.5 307.3,627.8" fill="#E8735E" />
<polygon points="312.6,625.2 309.1,620.0 309.4,626.3" fill="#E8735E" />
<polygon points="317.0,625.7 316.5,618.2 313.6,625.1" fill="#E8735E" />
<polygon points="319.6,627.3 322.3,619.0 316.7,625.6" fill="#E8735E" />
<polygon points="321.8,629.8 327.3,623.0 319.6,627.2" fill="#E8735E" />
<polygon points="322.8,632.4 329.8,627.7 321.5,629.3" fill="#E8735E" />
<circle cx="313.8" cy="634.3" r="10" fill="#EA7A66"/>
<circle cx="307.3" cy="636.7" r="1.8" fill="#CB3B4B"/>
<circle cx="316.0" cy="635.8" r="1.2" fill="#CB3B4B"/>
<circle cx="318.4" cy="633.3" r="1.6" fill="#CB3B4B"/>
<circle cx="312.2" cy="639.2" r="1.3" fill="#CB3B4B"/>
<circle cx="310.5" cy="638.7" r="1.5" fill="#CB3B4B"/>
<circle cx="318.7" cy="630.9" r="1.8" fill="#CB3B4B"/>
<circle cx="318.2" cy="628.7" r="1.6" fill="#CB3B4B"/>
<circle cx="317.3" cy="640.0" r="1.9" fill="#CB3B4B"/>
<circle cx="318.3" cy="631.2" r="1.6" fill="#CB3B4B"/>
<circle cx="314.9" cy="638.7" r="0.6" fill="#F8EC9A"/>
<circle cx="311.4" cy="633.1" r="0.6" fill="#F8EC9A"/>
<circle cx="318.1" cy="636.1" r="0.6" fill="#F8EC9A"/>
<circle cx="315.3" cy="634.2" r="0.6" fill="#F8EC9A"/>
<circle cx="314.8" cy="631.3" r="0.6" fill="#F8EC9A"/>
<circle cx="315.4" cy="636.5" r="0.6" fill="#F8EC9A"/>
<circle cx="314.4" cy="629.7" r="0.6" fill="#F8EC9A"/>
<circle cx="317.6" cy="635.4" r="0.6" fill="#F8EC9A"/>
<g transform="rotate(-33.7 256.8 623.8)">
<path d="M248.3,626.8 c-1,3 -4,5 -5,6 s-2,3 -1,5" fill="none" stroke="#4ABBE8" stroke-width="0.75"/>
<path d="M248.3,620.8 c-2,-3 -5,-4 -7,-5 s-3,-2 -5,-2" fill="none" stroke="#4ABBE8" stroke-width="0.75"/>
<path d="M251.1,626.8 c-1,3 -4,5 -5,6 s-2,3 -1,5" fill="none" stroke="#4ABBE8" stroke-width="0.75"/>
<path d="M251.1,620.8 c-2,-3 -5,-4 -7,-5 s-3,-2 -5,-2" fill="none" stroke="#4ABBE8" stroke-width="0.75"/>
<path d="M254.0,626.8 c-1,3 -4,5 -5,6 s-2,3 -1,5" fill="none" stroke="#4ABBE8" stroke-width="0.75"/>
<path d="M254.0,620.8 c-2,-3 -5,-4 -7,-5 s-3,-2 -5,-2" fill="none" stroke="#4ABBE8" stroke-width="0.75"/>
<path d="M256.8,626.8 c-1,3 -4,5 -5,6 s-2,3 -1,5" fill="none" stroke="#4ABBE8" stroke-width="0.75"/>
<path d="M256.8,620.8 c-2,-3 -5,-4 -7,-5 s-3,-2 -5,-2" fill="none" stroke="#4ABBE8" stroke-width="0.75"/>
<path d="M259.6,626.8 c-1,3 -4,5 -5,6 s-2,3 -1,5" fill="none" stroke="#4ABBE8" stroke-width="0.75"/>
<path d="M259.6,620.8 c-2,-3 -5,-4 -7,-5 s-3,-2 -5,-2" fill="none" stroke="#4ABBE8" stroke-width="0.75"/>
<path d="M262.5,626.8 c-1,3 -4,5 -5,6 s-2,3 -1,5" fill="none" stroke="#4ABBE8" stroke-width="0.75"/>
<path d="M262.5,620.8 c-2,-3 -5,-4 -7,-5 s-3,-2 -5,-2" fill="none" stroke="#4ABBE8" stroke-width="0.75"/>
<path d="M265.3,626.8 c-1,3 -4,5 -5,6 s-2,3 -1,5" fill="none" stroke="#4ABBE8" stroke-width="0.75"/>
<path d="M265.3,620.8 c-2,-3 -5,-4 -7,-5 s-3,-2 -5,-2" fill="none" stroke="#4ABBE8" stroke-width="0.75"/>
<path d="M267.3,621.8 c3,-3 5,-6 6,-9 s2,-3 4,-3" fill="none" stroke="#4ABBE8" stroke-width="0.75"/>
<path d="M267.3,624.8 c4,-1 7,-3 9,-5 s1,-4 2,-6" fill="none" stroke="#4ABBE8" stroke-width="0.75"/>
<rect x="244.3" y="619.8" width="25" height="8" rx="4.0" fill="#4ABBE8"/>
</g>
<circle cx="223.9" cy="637.0" r="5.2" fill="#6DC043"/>
<circle cx="233.2" cy="642.7" r="5.2" fill="#6DC043"/>
<circle cx="242.8" cy="647.4" r="5.2" fill="#6DC043"/>
<circle cx="253.3" cy="651.5" r="5.2" fill="#6DC043"/>
<circle cx="263.8" cy="653.9" r="5.2" fill="#6DC043"/>
<circle cx="325.2" cy="651.8" r="5.3" fill="#F2CE45"/>
<circle cx="334.0" cy="647.4" r="5.3" fill="#F2CE45"/>
<circle cx="341.8" cy="642.7" r="5.3" fill="#F2CE45"/>
<circle cx="348.8" cy="637.8" r="5.3" fill="#F2CE45"/>
<g transform="rotate(-48 340.5 601.5)">
<line x1="359.5" y1="601.5" x2="364.5" y2="601.5" stroke="#E8C440" stroke-width="1.8" stroke-linecap="round"/>
<line x1="358.6" y1="604.7" x2="362.9" y2="607.3" stroke="#E8C440" stroke-width="1.8" stroke-linecap="round"/>
<line x1="355.9" y1="607.7" x2="358.9" y2="611.7" stroke="#E8C440" stroke-width="1.8" stroke-linecap="round"/>
<line x1="351.7" y1="610.0" x2="353.5" y2="614.6" stroke="#E8C440" stroke-width="1.8" stroke-linecap="round"/>
<line x1="346.4" y1="611.5" x2="347.3" y2="616.4" stroke="#E8C440" stroke-width="1.8" stroke-linecap="round"/>
<line x1="340.5" y1="612.0" x2="340.5" y2="617.0" stroke="#E8C440" stroke-width="1.8" stroke-linecap="round"/>
<line x1="334.6" y1="611.5" x2="333.7" y2="616.4" stroke="#E8C440" stroke-width="1.8" stroke-linecap="round"/>
<line x1="329.3" y1="610.0" x2="327.5" y2="614.6" stroke="#E8C440" stroke-width="1.8" stroke-linecap="round"/>
<line x1="325.1" y1="607.7" x2="322.1" y2="611.7" stroke="#E8C440" stroke-width="1.8" stroke-linecap="round"/>
<line x1="322.4" y1="604.7" x2="318.1" y2="607.3" stroke="#E8C440" stroke-width="1.8" stroke-linecap="round"/>
<line x1="321.5" y1="601.5" x2="316.5" y2="601.5" stroke="#E8C440" stroke-width="1.8" stroke-linecap="round"/>
<line x1="322.4" y1="598.3" x2="318.1" y2="595.7" stroke="#E8C440" stroke-width="1.8" stroke-linecap="round"/>
<line x1="325.1" y1="595.3" x2="322.1" y2="591.3" stroke="#E8C440" stroke-width="1.8" stroke-linecap="round"/>
<line x1="329.3" y1="593.0" x2="327.5" y2="588.4" stroke="#E8C440" stroke-width="1.8" stroke-linecap="round"/>
<line x1="334.6" y1="591.5" x2="333.7" y2="586.6" stroke="#E8C440" stroke-width="1.8" stroke-linecap="round"/>
<line x1="340.5" y1="591.0" x2="340.5" y2="586.0" stroke="#E8C440" stroke-width="1.8" stroke-linecap="round"/>
<line x1="346.4" y1="591.5" x2="347.3" y2="586.6" stroke="#E8C440" stroke-width="1.8" stroke-linecap="round"/>
<line x1="351.7" y1="593.0" x2="353.5" y2="588.4" stroke="#E8C440" stroke-width="1.8" stroke-linecap="round"/>
<line x1="355.9" y1="595.3" x2="358.9" y2="591.3" stroke="#E8C440" stroke-width="1.8" stroke-linecap="round"/>
<line x1="358.6" y1="598.3" x2="362.9" y2="595.7" stroke="#E8C440" stroke-width="1.8" stroke-linecap="round"/>
<path d="M321.5,601.5 C321.5,589.5 334.5,590.5 340.5,595.5 C346.5,590.5 359.5,589.5 359.5,601.5 C359.5,613.5 321.5,613.5 321.5,601.5 Z" fill="#E8C440"/>
<path d="M323.5,601.5 C323.5,591.5 334.5,592.5 340.5,597.5 C346.5,592.5 357.5,591.5 357.5,601.5 C357.5,611.5 323.5,611.5 323.5,601.5 Z" fill="#F3D878"/>
<circle cx="331.5" cy="602.5" r="4.5" fill="#F8E6A0"/><circle cx="343.5" cy="603.5" r="5" fill="#F8E6A0"/><circle cx="352.5" cy="601.5" r="2.5" fill="#F8E6A0"/>
</g>
<circle cx="362" cy="615" r="5.3" fill="#9C7CC8"/>
<rect x="361.2" y="584.2" width="12" height="5.5" rx="2.75" fill="#48B2E6" transform="rotate(40 367.2 587)"/>
<text x="208.9" y="681.4" font-size="12.3" font-weight="bold" font-style="normal" text-anchor="start" fill="#231f20" font-family="Liberation Sans, sans-serif">Soil bacterial community</text>
<text x="409.6" y="480.8" font-size="12.2" font-weight="bold" font-style="normal" text-anchor="start" fill="#231f20" font-family="Liberation Sans, sans-serif">(b) Membranal structure</text>
<text x="412.6" y="495.3" font-size="12.2" font-weight="bold" font-style="normal" text-anchor="start" fill="#231f20" font-family="Liberation Sans, sans-serif">and transport response</text>
<path d="M411,551.5 C405,554 398,553 395.5,549 C393,545 397,543 398.5,540 C400,536 397,533 400,529.5 C402,527 404,528 405.5,527" fill="none" stroke="#4A8A84" stroke-width="1"/>
<g transform="rotate(-34 434.6 535.2)">
<path d="M412.6,528.2 q-0.1,-2.5 0.1,-5.8" fill="none" stroke="#5A968F" stroke-width="0.6"/>
<path d="M412.6,542.2 q-0.1,2.5 0.0,3.7" fill="none" stroke="#5A968F" stroke-width="0.6"/>
<path d="M414.8,528.0 q-0.9,-2.5 0.0,-5.1" fill="none" stroke="#5A968F" stroke-width="0.6"/>
<path d="M414.8,542.4 q0.9,2.5 -0.8,3.1" fill="none" stroke="#5A968F" stroke-width="0.6"/>
<path d="M417.0,527.8 q-1.2,-2.5 0.6,-5.2" fill="none" stroke="#5A968F" stroke-width="0.6"/>
<path d="M417.0,542.6 q-1.4,2.5 1.0,4.4" fill="none" stroke="#5A968F" stroke-width="0.6"/>
<path d="M419.2,527.6 q0.5,-2.5 0.2,-3.9" fill="none" stroke="#5A968F" stroke-width="0.6"/>
<path d="M419.2,542.8 q-1.5,2.5 0.1,2.6" fill="none" stroke="#5A968F" stroke-width="0.6"/>
<path d="M421.4,527.4 q-0.9,-2.5 -0.5,-3.6" fill="none" stroke="#5A968F" stroke-width="0.6"/>
<path d="M421.4,543.0 q-0.1,2.5 -0.1,4.2" fill="none" stroke="#5A968F" stroke-width="0.6"/>
<path d="M423.7,527.1 q0.1,-2.5 0.3,-4.7" fill="none" stroke="#5A968F" stroke-width="0.6"/>
<path d="M423.7,543.3 q0.5,2.5 -0.1,3.1" fill="none" stroke="#5A968F" stroke-width="0.6"/>
<path d="M425.9,526.9 q1.5,-2.5 1.0,-5.6" fill="none" stroke="#5A968F" stroke-width="0.6"/>
<path d="M425.9,543.5 q0.6,2.5 -0.4,3.0" fill="none" stroke="#5A968F" stroke-width="0.6"/>
<path d="M428.1,526.7 q-0.6,-2.5 -0.9,-5.4" fill="none" stroke="#5A968F" stroke-width="0.6"/>
<path d="M428.1,543.7 q-0.3,2.5 0.7,3.3" fill="none" stroke="#5A968F" stroke-width="0.6"/>
<path d="M430.3,526.5 q1.4,-2.5 0.7,-3.5" fill="none" stroke="#5A968F" stroke-width="0.6"/>
<path d="M430.3,543.9 q-0.9,2.5 0.8,3.4" fill="none" stroke="#5A968F" stroke-width="0.6"/>
<path d="M432.5,526.3 q1.4,-2.5 -0.2,-3.7" fill="none" stroke="#5A968F" stroke-width="0.6"/>
<path d="M432.5,544.1 q0.4,2.5 0.6,3.0" fill="none" stroke="#5A968F" stroke-width="0.6"/>
<path d="M434.7,526.1 q-1.2,-2.5 -0.3,-5.9" fill="none" stroke="#5A968F" stroke-width="0.6"/>
<path d="M434.7,544.3 q0.8,2.5 -0.8,3.0" fill="none" stroke="#5A968F" stroke-width="0.6"/>
<path d="M436.9,525.9 q-1.2,-2.5 -0.9,-5.5" fill="none" stroke="#5A968F" stroke-width="0.6"/>
<path d="M436.9,544.5 q-1.0,2.5 0.1,3.4" fill="none" stroke="#5A968F" stroke-width="0.6"/>
<path d="M439.1,525.7 q-0.9,-2.5 0.5,-3.8" fill="none" stroke="#5A968F" stroke-width="0.6"/>
<path d="M439.1,544.7 q0.4,2.5 -0.8,3.3" fill="none" stroke="#5A968F" stroke-width="0.6"/>
<path d="M441.3,525.5 q-0.9,-2.5 -0.5,-5.9" fill="none" stroke="#5A968F" stroke-width="0.6"/>
<path d="M441.3,544.9 q0.9,2.5 -0.4,4.3" fill="none" stroke="#5A968F" stroke-width="0.6"/>
<path d="M443.5,525.3 q-0.9,-2.5 -0.2,-5.6" fill="none" stroke="#5A968F" stroke-width="0.6"/>
<path d="M443.5,545.1 q0.4,2.5 -0.8,4.5" fill="none" stroke="#5A968F" stroke-width="0.6"/>
<path d="M445.8,525.0 q-0.9,-2.5 -0.5,-5.4" fill="none" stroke="#5A968F" stroke-width="0.6"/>
<path d="M445.8,545.4 q-0.5,2.5 -0.4,2.6" fill="none" stroke="#5A968F" stroke-width="0.6"/>
<path d="M448.0,524.8 q-1.2,-2.5 0.2,-4.1" fill="none" stroke="#5A968F" stroke-width="0.6"/>
<path d="M448.0,545.6 q0.3,2.5 -0.3,3.4" fill="none" stroke="#5A968F" stroke-width="0.6"/>
<path d="M450.2,524.6 q1.4,-2.5 -0.0,-4.9" fill="none" stroke="#5A968F" stroke-width="0.6"/>
<path d="M450.2,545.8 q1.1,2.5 -0.6,2.8" fill="none" stroke="#5A968F" stroke-width="0.6"/>
<path d="M452.4,524.4 q1.2,-2.5 0.6,-4.1" fill="none" stroke="#5A968F" stroke-width="0.6"/>
<path d="M452.4,546.0 q-0.9,2.5 0.5,4.4" fill="none" stroke="#5A968F" stroke-width="0.6"/>
<path d="M454.6,524.2 q-0.9,-2.5 0.9,-5.7" fill="none" stroke="#5A968F" stroke-width="0.6"/>
<path d="M454.6,546.2 q0.3,2.5 -0.2,2.7" fill="none" stroke="#5A968F" stroke-width="0.6"/>
<path d="M412.6,528.2 L452.6,524.2 A11,11 0 0 1 452.6,546.2 L412.6,542.2 A7,7 0 0 1 412.6,528.2 Z" fill="#6AA8A0" stroke="#4A8A84" stroke-width="0.8"/>
<path d="M415.1,530.4000000000001 L451.6,527.0 A8.2,8.2 0 0 1 451.6,543.4000000000001 L415.1,540.0 A4.8,4.8 0 0 1 415.1,530.4000000000001 Z" fill="#C2DC5E"/>
<path d="M413.6,536.2 A4.8,4.8 0 0 0 418.6,539.8000000000001 L424.6,540.4000000000001 C420.6,539.2 416.6,538.2 413.6,536.2 Z" fill="#8ED0E8"/>
<ellipse cx="442.6" cy="533.7" rx="11.5" ry="4.6" fill="#4A68B0"/>
<circle cx="433.4" cy="536.9" r="0.6" fill="#7A98D0"/>
<circle cx="437.4" cy="535.1" r="0.6" fill="#7A98D0"/>
<circle cx="437.7" cy="536.0" r="0.6" fill="#7A98D0"/>
<circle cx="444.5" cy="532.3" r="0.6" fill="#7A98D0"/>
<circle cx="436.1" cy="535.2" r="0.6" fill="#7A98D0"/>
<circle cx="434.0" cy="531.8" r="0.6" fill="#7A98D0"/>
<circle cx="443.8" cy="536.2" r="0.6" fill="#7A98D0"/>
<circle cx="444.9" cy="532.2" r="0.6" fill="#7A98D0"/>
<circle cx="450.9" cy="531.6" r="0.6" fill="#7A98D0"/>
<circle cx="432.9" cy="532.1" r="0.6" fill="#7A98D0"/>
<circle cx="441.5" cy="530.6" r="0.6" fill="#7A98D0"/>
<circle cx="436.1" cy="532.8" r="0.6" fill="#7A98D0"/>
<circle cx="444.0" cy="531.1" r="0.6" fill="#7A98D0"/>
<circle cx="439.8" cy="536.4" r="0.6" fill="#7A98D0"/>
<circle cx="452.2" cy="534.8" r="0.6" fill="#7A98D0"/>
<circle cx="446.4" cy="534.3" r="0.6" fill="#7A98D0"/>
<circle cx="435.4" cy="530.4" r="0.6" fill="#7A98D0"/>
<circle cx="433.0" cy="536.6" r="0.6" fill="#7A98D0"/>
<circle cx="446.6" cy="536.9" r="0.6" fill="#7A98D0"/>
<circle cx="433.0" cy="534.7" r="0.6" fill="#7A98D0"/>
<circle cx="442.2" cy="535.3" r="0.6" fill="#7A98D0"/>
<circle cx="439.0" cy="537.2" r="0.6" fill="#7A98D0"/>
<circle cx="434.1" cy="534.0" r="0.6" fill="#7A98D0"/>
<circle cx="447.3" cy="536.5" r="0.6" fill="#7A98D0"/>
<circle cx="447.3" cy="535.1" r="0.6" fill="#7A98D0"/>
<circle cx="430.3" cy="539.9" r="0.9" fill="none" stroke="#4A7A3C" stroke-width="0.5"/>
<circle cx="425.5" cy="539.1" r="0.9" fill="none" stroke="#4A7A3C" stroke-width="0.5"/>
<circle cx="431.5" cy="539.7" r="0.9" fill="none" stroke="#4A7A3C" stroke-width="0.5"/>
<circle cx="426.2" cy="539.5" r="0.9" fill="none" stroke="#4A7A3C" stroke-width="0.5"/>
<circle cx="431.1" cy="538.7" r="0.9" fill="none" stroke="#4A7A3C" stroke-width="0.5"/>
<circle cx="428.5" cy="538.0" r="0.9" fill="none" stroke="#4A7A3C" stroke-width="0.5"/>
<circle cx="428.0" cy="538.8" r="0.9" fill="none" stroke="#4A7A3C" stroke-width="0.5"/>
</g>
<rect x="472.5" y="504.1" width="68.00" height="50.90" fill="#F5C2B3"/>
<line x1="486.3" y1="504.1" x2="486.3" y2="555" stroke="#F9D8CD" stroke-width="0.6"/>
<line x1="506.6" y1="504.1" x2="506.6" y2="555" stroke="#F9D8CD" stroke-width="0.6"/>
<line x1="527.3" y1="504.1" x2="527.3" y2="555" stroke="#F9D8CD" stroke-width="0.6"/>
<line x1="472.5" y1="512" x2="540.5" y2="512" stroke="#F9D8CD" stroke-width="0.6"/>
<line x1="472.5" y1="523.5" x2="540.5" y2="523.5" stroke="#F9D8CD" stroke-width="0.6"/>
<line x1="472.5" y1="535.3" x2="540.5" y2="535.3" stroke="#F9D8CD" stroke-width="0.6"/>
<line x1="472.5" y1="548.1" x2="540.5" y2="548.1" stroke="#F9D8CD" stroke-width="0.6"/>
<circle cx="486.3" cy="512" r="1.1" fill="#A8141C"/>
<circle cx="506.6" cy="512" r="1.4" fill="#B0181E"/>
<circle cx="527.3" cy="512" r="1.6" fill="#B0181E"/>
<circle cx="486.3" cy="523.5" r="2.7" fill="#D02E26"/>
<circle cx="506.6" cy="523.5" r="2.8" fill="#D02E26"/>
<circle cx="527.3" cy="523.5" r="2.8" fill="#D43028"/>
<circle cx="486.3" cy="535.3" r="2.8" fill="#E0553A"/>
<circle cx="506.6" cy="535.3" r="2.8" fill="#E0553A"/>
<circle cx="527.3" cy="535.3" r="2.8" fill="#E0553A"/>
<circle cx="486.3" cy="548.1" r="6.0" fill="#2E3F9E"/>
<circle cx="506.6" cy="548.1" r="6.1" fill="#2E3F9E"/>
<circle cx="527.3" cy="548.1" r="6.2" fill="#2E3F9E"/>
<rect x="472.5" y="504.1" width="68.00" height="50.90" fill="none" stroke="#E0554D" stroke-width="0.9"/>
<line x1="486.3" y1="555" x2="486.3" y2="556.5" stroke="#888" stroke-width="0.5"/>
<line x1="506.6" y1="555" x2="506.6" y2="556.5" stroke="#888" stroke-width="0.5"/>
<line x1="527.3" y1="555" x2="527.3" y2="556.5" stroke="#888" stroke-width="0.5"/>
<text x="543.6" y="508" font-size="9.8" font-weight="normal" font-style="normal" text-anchor="start" fill="#231f20" font-family="Liberation Sans, sans-serif">Lipopolysaccharide</text>
<text x="543.6" y="516.3" font-size="9.8" font-weight="normal" font-style="normal" text-anchor="start" fill="#231f20" font-family="Liberation Sans, sans-serif">biosynthesis</text>
<text x="543.6" y="528.9" font-size="9.8" font-weight="normal" font-style="normal" text-anchor="start" fill="#231f20" font-family="Liberation Sans, sans-serif">Flagellar assembly</text>
<text x="543.6" y="540.9" font-size="9.8" font-weight="normal" font-style="normal" text-anchor="start" fill="#231f20" font-family="Liberation Sans, sans-serif">Bacterial secretion system</text>
<text x="543.6" y="553.1" font-size="9.8" font-weight="normal" font-style="normal" text-anchor="start" fill="#231f20" font-family="Liberation Sans, sans-serif">ABC transporters</text>
<text x="486.8" y="564.9" font-size="10.3" font-weight="normal" font-style="normal" text-anchor="middle" fill="#231f20" font-family="Liberation Sans, sans-serif">D1</text>
<text x="507.6" y="564.9" font-size="10.3" font-weight="normal" font-style="normal" text-anchor="middle" fill="#231f20" font-family="Liberation Sans, sans-serif">D3</text>
<text x="528.3" y="564.9" font-size="10.3" font-weight="normal" font-style="normal" text-anchor="middle" fill="#231f20" font-family="Liberation Sans, sans-serif">D6</text>
<text x="440.2" y="574.5" font-size="5.5" font-weight="bold" font-style="normal" text-anchor="middle" fill="#222" font-family="Liberation Sans, sans-serif">Relative</text>
<text x="440.2" y="581.7" font-size="5.5" font-weight="bold" font-style="normal" text-anchor="middle" fill="#222" font-family="Liberation Sans, sans-serif">abundance</text>
<text x="440.2" y="588.9" font-size="5.5" font-weight="bold" font-style="normal" text-anchor="middle" fill="#222" font-family="Liberation Sans, sans-serif">(TPM)</text>
<circle cx="465.4" cy="572.3" r="2.6" fill="#111"/>
<text x="472.4" y="573.8" font-size="4.2" font-weight="normal" font-style="normal" text-anchor="start" fill="#444" font-family="Liberation Sans, sans-serif">5000</text>
<circle cx="489.4" cy="572.3" r="4.0" fill="#111"/>
<text x="497.1" y="573.8" font-size="4.2" font-weight="normal" font-style="normal" text-anchor="start" fill="#444" font-family="Liberation Sans, sans-serif">10000</text>
<circle cx="518.4" cy="572.3" r="4.7" fill="#111"/>
<text x="527.8" y="573.8" font-size="4.2" font-weight="normal" font-style="normal" text-anchor="start" fill="#444" font-family="Liberation Sans, sans-serif">15000</text>
<circle cx="549.7" cy="572.3" r="5.5" fill="#111"/>
<text x="559.5" y="573.8" font-size="4.2" font-weight="normal" font-style="normal" text-anchor="start" fill="#444" font-family="Liberation Sans, sans-serif">20000</text>
<linearGradient id="cb2" x1="0" x2="1" y1="0" y2="0"><stop offset="0" stop-color="#9C1B2E"/><stop offset="0.2" stop-color="#CF3B3A"/><stop offset="0.35" stop-color="#EC7A52"/><stop offset="0.5" stop-color="#F5DB92"/><stop offset="0.62" stop-color="#9ACFE0"/><stop offset="0.8" stop-color="#5B8EC4"/><stop offset="1" stop-color="#2F3C92"/></linearGradient>
<rect x="491.6" y="581.7" width="50.39999999999998" height="5.0" fill="url(#cb2)"/>
<text x="491.6" y="592" font-size="4.3" font-weight="normal" font-style="normal" text-anchor="start" fill="#444" font-family="Liberation Sans, sans-serif">5000</text><text x="502.1" y="592" font-size="4.3" font-weight="normal" font-style="normal" text-anchor="start" fill="#444" font-family="Liberation Sans, sans-serif">10000</text><text x="516.2" y="592" font-size="4.3" font-weight="normal" font-style="normal" text-anchor="start" fill="#444" font-family="Liberation Sans, sans-serif">15000</text><text x="530.6" y="592" font-size="4.3" font-weight="normal" font-style="normal" text-anchor="start" fill="#444" font-family="Liberation Sans, sans-serif">20000</text>
<text x="435.8" y="613.4" font-size="12.45" font-weight="bold" font-style="normal" text-anchor="start" fill="#231f20" font-family="Liberation Sans, sans-serif">(c) SOS response</text>
<rect x="401.7" y="626.3" width="2" height="1.6" rx="0.6" fill="#8A9AB4"/>
<rect x="407.2" y="626.8" width="2" height="1.6" rx="0.6" fill="#A8B4CC"/>
<rect x="409.5" y="626.0" width="2" height="1.6" rx="0.6" fill="#4A5A7A"/>
<rect x="418.8" y="625.6" width="2" height="1.6" rx="0.6" fill="#4A5A7A"/>
<rect x="421.8" y="626.8" width="2" height="1.6" rx="0.6" fill="#8A9AB4"/>
<rect x="426.2" y="625.3" width="2" height="1.6" rx="0.6" fill="#8A9AB4"/>
<rect x="430.3" y="626.2" width="2" height="1.6" rx="0.6" fill="#4A5A7A"/>
<rect x="408.9" y="629.0" width="2" height="1.6" rx="0.6" fill="#56688A"/>
<rect x="411.6" y="628.5" width="2" height="1.6" rx="0.6" fill="#8A9AB4"/>
<rect x="416.6" y="628.7" width="2" height="1.6" rx="0.6" fill="#4A5A7A"/>
<rect x="420.0" y="629.6" width="2" height="1.6" rx="0.6" fill="#A8B4CC"/>
<rect x="424.7" y="628.4" width="2" height="1.6" rx="0.6" fill="#A8B4CC"/>
<rect x="428.2" y="628.6" width="2" height="1.6" rx="0.6" fill="#A8B4CC"/>
<rect x="431.1" y="628.9" width="2" height="1.6" rx="0.6" fill="#8A9AB4"/>
<rect x="402.1" y="632.2" width="2" height="1.6" rx="0.6" fill="#4A5A7A"/>
<rect x="405.6" y="632.5" width="2" height="1.6" rx="0.6" fill="#4A5A7A"/>
<rect x="410.3" y="632.3" width="2" height="1.6" rx="0.6" fill="#4A5A7A"/>
<rect x="414.4" y="631.9" width="2" height="1.6" rx="0.6" fill="#4A5A7A"/>
<rect x="417.3" y="631.7" width="2" height="1.6" rx="0.6" fill="#56688A"/>
<rect x="421.6" y="632.4" width="2" height="1.6" rx="0.6" fill="#4A5A7A"/>
<rect x="425.1" y="632.9" width="2" height="1.6" rx="0.6" fill="#8A9AB4"/>
<rect x="429.5" y="632.5" width="2" height="1.6" rx="0.6" fill="#F4ECEC"/>
<rect x="405.1" y="635.2" width="2" height="1.6" rx="0.6" fill="#F4ECEC"/>
<rect x="408.1" y="635.9" width="2" height="1.6" rx="0.6" fill="#8A9AB4"/>
<rect x="412.2" y="636.0" width="2" height="1.6" rx="0.6" fill="#A8B4CC"/>
<rect x="414.7" y="635.8" width="2" height="1.6" rx="0.6" fill="#8A9AB4"/>
<rect x="418.5" y="635.0" width="2" height="1.6" rx="0.6" fill="#F4ECEC"/>
<rect x="423.0" y="635.2" width="2" height="1.6" rx="0.6" fill="#4A5A7A"/>
<rect x="401.6" y="638.6" width="2" height="1.6" rx="0.6" fill="#8A9AB4"/>
<rect x="405.3" y="637.9" width="2" height="1.6" rx="0.6" fill="#4A5A7A"/>
<rect x="411.2" y="638.6" width="2" height="1.6" rx="0.6" fill="#A8B4CC"/>
<rect x="418.3" y="637.8" width="2" height="1.6" rx="0.6" fill="#8A9AB4"/>
<rect x="426.1" y="638.6" width="2" height="1.6" rx="0.6" fill="#A8B4CC"/>
<rect x="407.0" y="641.3" width="2" height="1.6" rx="0.6" fill="#F4ECEC"/>
<rect x="411.7" y="640.9" width="2" height="1.6" rx="0.6" fill="#F4ECEC"/>
<rect x="415.2" y="641.2" width="2" height="1.6" rx="0.6" fill="#8A9AB4"/>
<rect x="419.6" y="641.1" width="2" height="1.6" rx="0.6" fill="#4A5A7A"/>
<rect x="424.4" y="641.0" width="2" height="1.6" rx="0.6" fill="#4A5A7A"/>
<rect x="427.6" y="641.5" width="2" height="1.6" rx="0.6" fill="#4A5A7A"/>
<polygon points="462.0,635.8 455.1,636.8 458.0,640.5 452.0,639.1 451.4,644.1 447.6,639.7 443.0,642.8 443.4,638.5 436.0,639.6 441.0,635.9 435.0,634.0 441.5,633.0 437.7,628.7 444.6,630.7 445.4,626.3 449.0,630.1 453.5,627.2 453.2,631.3 460.1,630.4 455.6,633.9" fill="#E8384C" />
<text x="448.3" y="636.9" font-size="5.4" font-weight="bold" text-anchor="middle" fill="#fff" font-family="Liberation Sans, sans-serif">ROS</text>
<line x1="448.3" y1="654.7" x2="451.4" y2="654.7" stroke="#E84860" stroke-width="0.45"/>
<line x1="448.1" y1="655.4" x2="451.8" y2="657.6" stroke="#E84860" stroke-width="0.45"/>
<line x1="447.5" y1="656.1" x2="449.4" y2="658.4" stroke="#E84860" stroke-width="0.45"/>
<line x1="446.5" y1="656.7" x2="448.1" y2="659.8" stroke="#E84860" stroke-width="0.45"/>
<line x1="445.1" y1="657.3" x2="446.4" y2="660.7" stroke="#E84860" stroke-width="0.45"/>
<line x1="443.4" y1="657.8" x2="444.6" y2="662.1" stroke="#E84860" stroke-width="0.45"/>
<line x1="441.4" y1="658.3" x2="441.9" y2="661.0" stroke="#E84860" stroke-width="0.45"/>
<line x1="439.1" y1="658.7" x2="439.7" y2="662.4" stroke="#E84860" stroke-width="0.45"/>
<line x1="436.6" y1="659.1" x2="437.0" y2="662.6" stroke="#E84860" stroke-width="0.45"/>
<line x1="433.9" y1="659.3" x2="434.2" y2="663.3" stroke="#E84860" stroke-width="0.45"/>
<line x1="431.1" y1="659.5" x2="431.3" y2="663.9" stroke="#E84860" stroke-width="0.45"/>
<line x1="428.3" y1="659.5" x2="428.3" y2="662.6" stroke="#E84860" stroke-width="0.45"/>
<line x1="425.5" y1="659.5" x2="425.3" y2="663.3" stroke="#E84860" stroke-width="0.45"/>
<line x1="422.7" y1="659.3" x2="422.4" y2="662.8" stroke="#E84860" stroke-width="0.45"/>
<line x1="420.0" y1="659.1" x2="419.6" y2="662.7" stroke="#E84860" stroke-width="0.45"/>
<line x1="417.5" y1="658.7" x2="417.1" y2="661.3" stroke="#E84860" stroke-width="0.45"/>
<line x1="415.2" y1="658.3" x2="414.4" y2="662.4" stroke="#E84860" stroke-width="0.45"/>
<line x1="413.2" y1="657.8" x2="412.0" y2="662.1" stroke="#E84860" stroke-width="0.45"/>
<line x1="411.5" y1="657.3" x2="410.4" y2="660.3" stroke="#E84860" stroke-width="0.45"/>
<line x1="410.1" y1="656.7" x2="408.6" y2="659.5" stroke="#E84860" stroke-width="0.45"/>
<line x1="409.1" y1="656.1" x2="406.3" y2="659.5" stroke="#E84860" stroke-width="0.45"/>
<line x1="408.5" y1="655.4" x2="406.2" y2="656.8" stroke="#E84860" stroke-width="0.45"/>
<line x1="408.3" y1="654.7" x2="405.6" y2="654.7" stroke="#E84860" stroke-width="0.45"/>
<line x1="408.5" y1="654.0" x2="406.2" y2="652.7" stroke="#E84860" stroke-width="0.45"/>
<line x1="409.1" y1="653.3" x2="406.5" y2="650.2" stroke="#E84860" stroke-width="0.45"/>
<line x1="410.1" y1="652.7" x2="408.2" y2="649.1" stroke="#E84860" stroke-width="0.45"/>
<line x1="411.5" y1="652.1" x2="410.3" y2="648.9" stroke="#E84860" stroke-width="0.45"/>
<line x1="413.2" y1="651.6" x2="412.2" y2="647.9" stroke="#E84860" stroke-width="0.45"/>
<line x1="415.2" y1="651.1" x2="414.7" y2="648.6" stroke="#E84860" stroke-width="0.45"/>
<line x1="417.5" y1="650.7" x2="416.9" y2="646.9" stroke="#E84860" stroke-width="0.45"/>
<line x1="420.0" y1="650.3" x2="419.6" y2="647.0" stroke="#E84860" stroke-width="0.45"/>
<line x1="422.7" y1="650.1" x2="422.4" y2="646.6" stroke="#E84860" stroke-width="0.45"/>
<line x1="425.5" y1="649.9" x2="425.3" y2="646.7" stroke="#E84860" stroke-width="0.45"/>
<line x1="428.3" y1="649.9" x2="428.3" y2="646.6" stroke="#E84860" stroke-width="0.45"/>
<line x1="431.1" y1="649.9" x2="431.2" y2="647.0" stroke="#E84860" stroke-width="0.45"/>
<line x1="433.9" y1="650.1" x2="434.1" y2="647.5" stroke="#E84860" stroke-width="0.45"/>
<line x1="436.6" y1="650.3" x2="437.0" y2="647.0" stroke="#E84860" stroke-width="0.45"/>
<line x1="439.1" y1="650.7" x2="439.6" y2="647.7" stroke="#E84860" stroke-width="0.45"/>
<line x1="441.4" y1="651.1" x2="442.2" y2="647.2" stroke="#E84860" stroke-width="0.45"/>
<line x1="443.4" y1="651.6" x2="444.5" y2="647.6" stroke="#E84860" stroke-width="0.45"/>
<line x1="445.1" y1="652.1" x2="446.5" y2="648.4" stroke="#E84860" stroke-width="0.45"/>
<line x1="446.5" y1="652.7" x2="448.1" y2="649.7" stroke="#E84860" stroke-width="0.45"/>
<line x1="447.5" y1="653.3" x2="449.4" y2="651.0" stroke="#E84860" stroke-width="0.45"/>
<line x1="448.1" y1="654.0" x2="450.9" y2="652.3" stroke="#E84860" stroke-width="0.45"/>
<ellipse cx="428.3" cy="654.7" rx="20.6" ry="5.2" fill="#E84860"/>
<ellipse cx="428.3" cy="654.4000000000001" rx="19.2" ry="4.1" fill="#F29AAC"/>
<ellipse cx="429.3" cy="653.4000000000001" rx="14" ry="1.6" fill="#F6B8C4"/>
<circle cx="404.3" cy="646" r="2" fill="#F8C8D0" stroke="#F4A8B8" stroke-width="0.4"/>
<circle cx="449.3" cy="646.5" r="2" fill="#F8C8D0" stroke="#F4A8B8" stroke-width="0.4"/>
<circle cx="411.4" cy="665.2" r="1.4" fill="#F8C8D0" stroke="#F4A8B8" stroke-width="0.4"/>
<circle cx="438.2" cy="669.3" r="2" fill="#F8C8D0" stroke="#F4A8B8" stroke-width="0.4"/>
<circle cx="441.7" cy="665.5" r="1" fill="#F8C8D0" stroke="#F4A8B8" stroke-width="0.4"/>
<rect x="473.4" y="624.7" width="88.30" height="35.10" fill="#F5C2B3"/>
<line x1="490.9" y1="624.7" x2="490.9" y2="659.8" stroke="#F9D8CD" stroke-width="0.6"/>
<line x1="516.8" y1="624.7" x2="516.8" y2="659.8" stroke="#F9D8CD" stroke-width="0.6"/>
<line x1="544.2" y1="624.7" x2="544.2" y2="659.8" stroke="#F9D8CD" stroke-width="0.6"/>
<line x1="473.4" y1="644" x2="561.7" y2="644" stroke="#F9D8CD" stroke-width="0.6"/>
<circle cx="490.9" cy="644" r="0.9" fill="#C0302C"/>
<circle cx="516.8" cy="644" r="4.5" fill="#A8C8CC"/>
<circle cx="544.2" cy="644" r="5.7" fill="#2E3F9E"/>
<rect x="473.4" y="624.7" width="88.30" height="35.10" fill="none" stroke="#E0554D" stroke-width="0.9"/>
<line x1="490.9" y1="659.8" x2="490.9" y2="661.3" stroke="#888" stroke-width="0.5"/>
<line x1="516.8" y1="659.8" x2="516.8" y2="661.3" stroke="#888" stroke-width="0.5"/>
<line x1="544.2" y1="659.8" x2="544.2" y2="661.3" stroke="#888" stroke-width="0.5"/>
<text x="564.5" y="646.8" font-size="9.8" font-weight="normal" font-style="normal" text-anchor="start" fill="#231f20" font-family="Liberation Sans, sans-serif">Folate biosynthesis</text>
<text x="491.6" y="671.3" font-size="10.3" font-weight="normal" font-style="normal" text-anchor="middle" fill="#231f20" font-family="Liberation Sans, sans-serif">D1</text>
<text x="518.9" y="671.3" font-size="10.3" font-weight="normal" font-style="normal" text-anchor="middle" fill="#231f20" font-family="Liberation Sans, sans-serif">D3</text>
<text x="546.3" y="671.3" font-size="10.3" font-weight="normal" font-style="normal" text-anchor="middle" fill="#231f20" font-family="Liberation Sans, sans-serif">D6</text>
<text x="464.1" y="685.3" font-size="5.5" font-weight="bold" font-style="normal" text-anchor="middle" fill="#222" font-family="Liberation Sans, sans-serif">Relative</text>
<text x="464.1" y="692.6999999999999" font-size="5.5" font-weight="bold" font-style="normal" text-anchor="middle" fill="#222" font-family="Liberation Sans, sans-serif">abundance</text>
<text x="464.1" y="700.0999999999999" font-size="5.5" font-weight="bold" font-style="normal" text-anchor="middle" fill="#222" font-family="Liberation Sans, sans-serif">(TPM)</text>
<circle cx="482.9" cy="681.8" r="1.6" fill="#111"/>
<text x="488.4" y="683.3" font-size="4.0" font-weight="normal" font-style="normal" text-anchor="start" fill="#444" font-family="Liberation Sans, sans-serif">3000</text>
<circle cx="504.8" cy="681.8" r="3.6" fill="#111"/>
<text x="512.6" y="683.3" font-size="4.0" font-weight="normal" font-style="normal" text-anchor="start" fill="#444" font-family="Liberation Sans, sans-serif">3050</text>
<circle cx="530.1" cy="681.8" r="4.8" fill="#111"/>
<text x="539.1" y="683.3" font-size="4.0" font-weight="normal" font-style="normal" text-anchor="start" fill="#444" font-family="Liberation Sans, sans-serif">3900</text>
<circle cx="558.1" cy="681.8" r="5.5" fill="#111"/>
<text x="568.3" y="683.3" font-size="4.0" font-weight="normal" font-style="normal" text-anchor="start" fill="#444" font-family="Liberation Sans, sans-serif">3950</text>
<linearGradient id="cb3" x1="0" x2="1" y1="0" y2="0"><stop offset="0" stop-color="#9C1B2E"/><stop offset="0.2" stop-color="#CF3B3A"/><stop offset="0.35" stop-color="#EC7A52"/><stop offset="0.5" stop-color="#F5DB92"/><stop offset="0.62" stop-color="#9ACFE0"/><stop offset="0.8" stop-color="#5B8EC4"/><stop offset="1" stop-color="#2F3C92"/></linearGradient>
<rect x="506.4" y="691.8" width="48.10000000000002" height="4.7000000000000455" fill="url(#cb3)"/>
<text x="504" y="702.2" font-size="4.0" font-weight="normal" font-style="normal" text-anchor="start" fill="#444" font-family="Liberation Sans, sans-serif">3000</text><text x="518.3" y="702.2" font-size="4.0" font-weight="normal" font-style="normal" text-anchor="start" fill="#444" font-family="Liberation Sans, sans-serif">3050</text><text x="532.4" y="702.2" font-size="4.0" font-weight="normal" font-style="normal" text-anchor="start" fill="#444" font-family="Liberation Sans, sans-serif">3900</text><text x="546.3" y="702.2" font-size="4.0" font-weight="normal" font-style="normal" text-anchor="start" fill="#444" font-family="Liberation Sans, sans-serif">3950</text>
</svg></body></html>
